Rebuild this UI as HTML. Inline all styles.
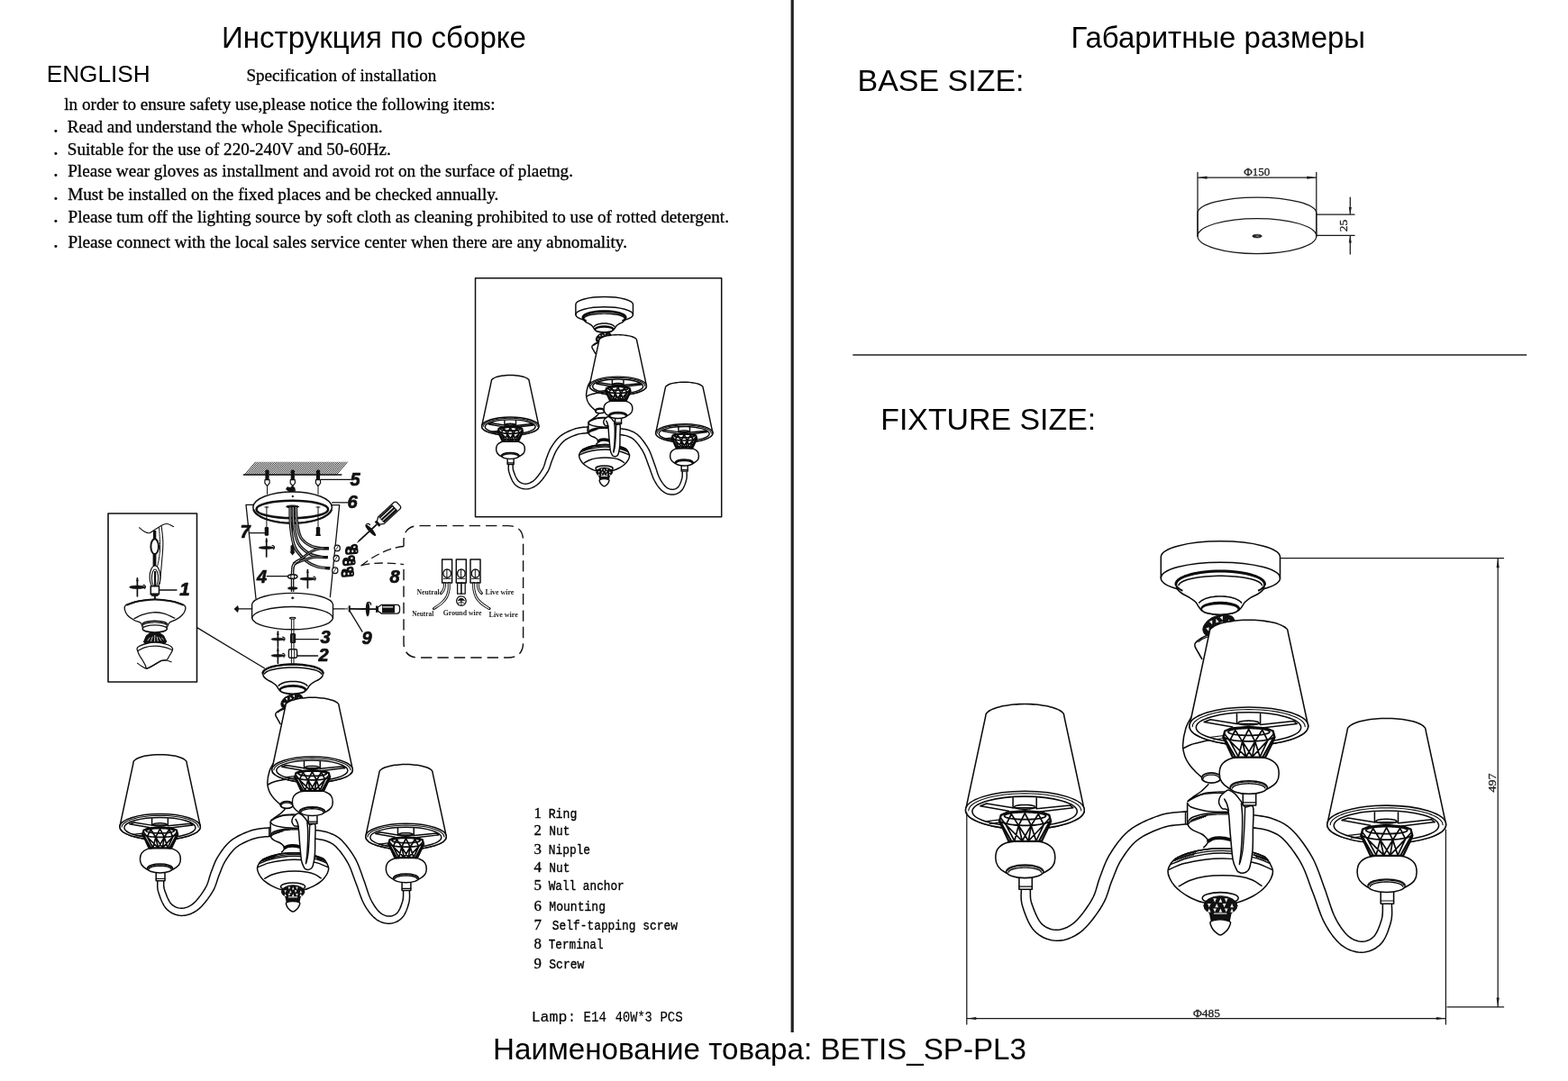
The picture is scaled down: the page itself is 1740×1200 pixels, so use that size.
<!DOCTYPE html>
<html lang="ru"><head><meta charset="utf-8"><title>BETIS_SP-PL3</title>
<style>
html,body{margin:0;padding:0;background:#fff;}
body{width:1740px;height:1200px;overflow:hidden;position:relative;}
svg{position:absolute;left:0;top:0;display:block;will-change:transform;}
text{white-space:pre;}
</style></head><body>
<svg width="1740" height="1200" viewBox="0 0 1740 1200" fill="none" stroke-linecap="round" stroke-linejoin="round">
<rect x="877.6" y="0" width="3.2" height="1146" fill="#222"/>
<line x1="946.3" y1="394" x2="1694.2" y2="394" stroke="#222" stroke-width="1.6" stroke-linecap="butt"/>
<text x="246" y="53.4" font-family='"Liberation Sans", sans-serif' font-size="33" fill="#000" textLength="338" lengthAdjust="spacingAndGlyphs">Инструкция по сборке</text>
<text x="1188.5" y="53.4" font-family='"Liberation Sans", sans-serif' font-size="33" fill="#000" textLength="326.5" lengthAdjust="spacingAndGlyphs">Габаритные размеры</text>
<text x="547" y="1176.1" font-family='"Liberation Sans", sans-serif' font-size="33.1" fill="#000" textLength="592" lengthAdjust="spacingAndGlyphs">Наименование товара: BETIS_SP-PL3</text>
<text x="51.7" y="90.7" font-family='"Liberation Sans", sans-serif' font-size="26.3" fill="#000" textLength="115" lengthAdjust="spacingAndGlyphs">ENGLISH</text>
<text x="951.5" y="100.6" font-family='"Liberation Sans", sans-serif' font-size="34" fill="#000" textLength="185" lengthAdjust="spacingAndGlyphs">BASE SIZE:</text>
<text x="977.2" y="476.9" font-family='"Liberation Sans", sans-serif' font-size="34" fill="#000" textLength="239" lengthAdjust="spacingAndGlyphs">FIXTURE SIZE:</text>
<text x="273.4" y="89.7" font-family='"Liberation Serif", serif' font-size="19.1" fill="#000" textLength="211" lengthAdjust="spacingAndGlyphs" stroke="#000" stroke-width="0.3">Specification of installation</text>
<text x="71.3" y="122.4" font-family='"Liberation Serif", serif' font-size="19.1" fill="#000" textLength="478.3" lengthAdjust="spacingAndGlyphs" stroke="#000" stroke-width="0.3">ln order to ensure safety use,please notice the following items:</text>
<text x="59.5" y="146.5" font-family='"Liberation Serif", serif' font-size="19.1" fill="#000" font-weight="bold">.</text>
<text x="74.8" y="146.5" font-family='"Liberation Serif", serif' font-size="19.1" fill="#000" textLength="349.7" lengthAdjust="spacingAndGlyphs" stroke="#000" stroke-width="0.3">Read and understand the whole Specification.</text>
<text x="59.5" y="172" font-family='"Liberation Serif", serif' font-size="19.1" fill="#000" font-weight="bold">.</text>
<text x="74.8" y="172" font-family='"Liberation Serif", serif' font-size="19.1" fill="#000" textLength="359" lengthAdjust="spacingAndGlyphs" stroke="#000" stroke-width="0.3">Suitable for the use of 220-240V and 50-60Hz.</text>
<text x="59.5" y="195.9" font-family='"Liberation Serif", serif' font-size="19.1" fill="#000" font-weight="bold">.</text>
<text x="75.2" y="195.9" font-family='"Liberation Serif", serif' font-size="19.1" fill="#000" textLength="560.8" lengthAdjust="spacingAndGlyphs" stroke="#000" stroke-width="0.3">Please wear gloves as installment and avoid rot on the surface of plaetng.</text>
<text x="59.5" y="222" font-family='"Liberation Serif", serif' font-size="19.1" fill="#000" font-weight="bold">.</text>
<text x="75.2" y="222" font-family='"Liberation Serif", serif' font-size="19.1" fill="#000" textLength="478.2" lengthAdjust="spacingAndGlyphs" stroke="#000" stroke-width="0.3">Must be installed on the fixed places and be checked annually.</text>
<text x="59.5" y="247" font-family='"Liberation Serif", serif' font-size="19.1" fill="#000" font-weight="bold">.</text>
<text x="75.5" y="247" font-family='"Liberation Serif", serif' font-size="19.1" fill="#000" textLength="733.5" lengthAdjust="spacingAndGlyphs" stroke="#000" stroke-width="0.3">Please tum off the lighting source by soft cloth as cleaning prohibited to use of rotted detergent.</text>
<text x="59.5" y="274.5" font-family='"Liberation Serif", serif' font-size="19.1" fill="#000" font-weight="bold">.</text>
<text x="75.5" y="274.5" font-family='"Liberation Serif", serif' font-size="19.1" fill="#000" textLength="620.5" lengthAdjust="spacingAndGlyphs" stroke="#000" stroke-width="0.3">Please connect with the local sales service center when there are any abnomality.</text>
<text x="592.6" y="907.8" font-family='"Liberation Serif", serif' font-size="17" fill="#000" textLength="8.4" lengthAdjust="spacingAndGlyphs" stroke="#000" stroke-width="0.35">1</text>
<text x="608.7" y="907.8" font-family='"Liberation Mono", monospace' font-size="14.9" fill="#000" textLength="31.7" lengthAdjust="spacingAndGlyphs" stroke="#000" stroke-width="0.35">Ring</text>
<text x="592.6" y="927.4" font-family='"Liberation Serif", serif' font-size="17" fill="#000" textLength="8.4" lengthAdjust="spacingAndGlyphs" stroke="#000" stroke-width="0.35">2</text>
<text x="609.3" y="927.4" font-family='"Liberation Mono", monospace' font-size="14.9" fill="#000" textLength="23.3" lengthAdjust="spacingAndGlyphs" stroke="#000" stroke-width="0.35">Nut</text>
<text x="592.6" y="947.5" font-family='"Liberation Serif", serif' font-size="17" fill="#000" textLength="8.4" lengthAdjust="spacingAndGlyphs" stroke="#000" stroke-width="0.35">3</text>
<text x="608.7" y="947.5" font-family='"Liberation Mono", monospace' font-size="14.9" fill="#000" textLength="46.4" lengthAdjust="spacingAndGlyphs" stroke="#000" stroke-width="0.35">Nipple</text>
<text x="592.6" y="967.6" font-family='"Liberation Serif", serif' font-size="17" fill="#000" textLength="8.4" lengthAdjust="spacingAndGlyphs" stroke="#000" stroke-width="0.35">4</text>
<text x="609.3" y="967.6" font-family='"Liberation Mono", monospace' font-size="14.9" fill="#000" textLength="23.3" lengthAdjust="spacingAndGlyphs" stroke="#000" stroke-width="0.35">Nut</text>
<text x="592.6" y="988.3" font-family='"Liberation Serif", serif' font-size="17" fill="#000" textLength="8.4" lengthAdjust="spacingAndGlyphs" stroke="#000" stroke-width="0.35">5</text>
<text x="608.7" y="988.3" font-family='"Liberation Mono", monospace' font-size="14.9" fill="#000" textLength="84" lengthAdjust="spacingAndGlyphs" stroke="#000" stroke-width="0.35">Wall anchor</text>
<text x="592.6" y="1010.9" font-family='"Liberation Serif", serif' font-size="17" fill="#000" textLength="8.4" lengthAdjust="spacingAndGlyphs" stroke="#000" stroke-width="0.35">6</text>
<text x="609.3" y="1010.9" font-family='"Liberation Mono", monospace' font-size="14.9" fill="#000" textLength="62.7" lengthAdjust="spacingAndGlyphs" stroke="#000" stroke-width="0.35">Mounting</text>
<text x="592.6" y="1032" font-family='"Liberation Serif", serif' font-size="17" fill="#000" textLength="8.4" lengthAdjust="spacingAndGlyphs" stroke="#000" stroke-width="0.35">7</text>
<text x="612.8" y="1032" font-family='"Liberation Mono", monospace' font-size="14.9" fill="#000" textLength="139.1" lengthAdjust="spacingAndGlyphs" stroke="#000" stroke-width="0.35">Self-tapping screw</text>
<text x="592.6" y="1052.6" font-family='"Liberation Serif", serif' font-size="17" fill="#000" textLength="8.4" lengthAdjust="spacingAndGlyphs" stroke="#000" stroke-width="0.35">8</text>
<text x="608.7" y="1052.6" font-family='"Liberation Mono", monospace' font-size="14.9" fill="#000" textLength="60.9" lengthAdjust="spacingAndGlyphs" stroke="#000" stroke-width="0.35">Terminal</text>
<text x="592.6" y="1075.3" font-family='"Liberation Serif", serif' font-size="17" fill="#000" textLength="8.4" lengthAdjust="spacingAndGlyphs" stroke="#000" stroke-width="0.35">9</text>
<text x="609.3" y="1075.3" font-family='"Liberation Mono", monospace' font-size="14.9" fill="#000" textLength="39.1" lengthAdjust="spacingAndGlyphs" stroke="#000" stroke-width="0.35">Screw</text>
<text y="1134.1" font-family='"Liberation Mono", monospace' font-size="17.2" fill="#000" stroke="#000" stroke-width="0.2"><tspan x="589.7" textLength="39.6" lengthAdjust="spacingAndGlyphs">Lamp</tspan><tspan x="630.4" textLength="8" lengthAdjust="spacingAndGlyphs">:</tspan><tspan x="647.6" textLength="25.4" lengthAdjust="spacingAndGlyphs">E14</tspan><tspan x="682.8" textLength="41" lengthAdjust="spacingAndGlyphs">40W*3</tspan><tspan x="732.4" textLength="25.4" lengthAdjust="spacingAndGlyphs">PCS</tspan></text>
<path d="M 1288.3,618.3 A 66.1 17.5 0 0 1 1420.5,618.3 L 1420.5,641.7 A 66.1 17.5 0 0 1 1288.3,641.7 Z" fill="#fff" stroke="#0a0a0a" stroke-width="1.55"/>
<path d="M 1288.3,641.7 A 66.1 17.5 0 0 1 1420.5,641.7" fill="none" stroke="#0a0a0a" stroke-width="1.55"/>
<path d="M1305,648.3 C1305.25,649.25 1305.33,652.22 1306.5,654 C1307.67,655.78 1309.75,657.45 1312,659 C1314.25,660.55 1317.55,661.75 1320,663.3 C1322.45,664.85 1324.95,666.52 1326.7,668.3 C1328.45,670.08 1329.38,672.47 1330.5,674 C1331.62,675.53 1331.82,676.37 1333.4,677.5 C1334.98,678.63 1336.57,680 1340,680.8 C1343.43,681.6 1349.33,682.3 1354,682.3 C1358.67,682.3 1364.57,681.6 1368,680.8 C1371.43,680 1372.97,678.63 1374.6,677.5 C1376.23,676.37 1376.62,675.53 1377.8,674 C1378.98,672.47 1380,670.08 1381.7,668.3 C1383.4,666.52 1385.53,664.85 1388,663.3 C1390.47,661.75 1394.17,660.55 1396.5,659 C1398.83,657.45 1400.85,655.78 1402,654 C1403.15,652.22 1403.17,649.25 1403.4,648.3 A49.2,14.2 0 0 0 1305,648.3 Z" fill="#fff" stroke="#0a0a0a" stroke-width="1.55"/>
<path d="M1304.9,648.5 L1305.17,646.98 L1305.98,645.49 L1307.31,644.02 L1309.16,642.6 L1311.5,641.25 L1314.32,639.98 L1317.56,638.8 L1321.21,637.72 L1325.22,636.77 L1329.55,635.94 L1334.15,635.25 L1338.97,634.71 L1343.95,634.32 L1349.05,634.08 L1354.2,634 L1359.35,634.08 L1364.45,634.32 L1369.43,634.71 L1374.25,635.25 L1378.85,635.94 L1383.18,636.77 L1387.19,637.72 L1390.84,638.8 L1394.08,639.98 L1396.9,641.25 L1399.24,642.6 L1401.09,644.02 L1402.42,645.49 L1403.23,646.98 L1403.5,648.5" fill="none" stroke="#0a0a0a" stroke-width="2.94"/>
<path d="M1307.96,649.63 L1308.47,648.49 L1309.48,647.38 L1310.98,646.29 L1312.95,645.25 L1315.37,644.26 L1318.22,643.34 L1321.46,642.49 L1325.06,641.73 L1328.98,641.06 L1333.18,640.49 L1337.61,640.02 L1342.22,639.67 L1346.96,639.43 L1351.78,639.31 L1356.62,639.31 L1361.44,639.43 L1366.18,639.67 L1370.79,640.02 L1375.22,640.49 L1379.42,641.06 L1383.34,641.73 L1386.94,642.49 L1390.18,643.34 L1393.03,644.26 L1395.45,645.25 L1397.42,646.29 L1398.92,647.38 L1399.93,648.49 L1400.44,649.63" fill="none" stroke="#0a0a0a" stroke-width="1.55"/>
<path d="M1311.59,655.4 L1310.07,654.58 L1308.75,653.73 L1307.61,652.86 L1306.68,651.98 L1305.95,651.07 L1305.42,650.15 L1305.11,649.23 L1305,648.3" fill="none" stroke="#0a0a0a" stroke-width="2.02"/>
<path d="M1403.4,648.3 L1403.29,649.23 L1402.98,650.15 L1402.45,651.07 L1401.72,651.98 L1400.79,652.86 L1399.65,653.73 L1398.33,654.58 L1396.81,655.4" fill="none" stroke="#0a0a0a" stroke-width="2.02"/>
<path d="M1330.8,669.09 L1331.73,668.07 L1332.9,667.1 L1334.3,666.19 L1335.92,665.34 L1337.74,664.57 L1339.74,663.89 L1341.9,663.29 L1344.19,662.8 L1346.6,662.41 L1349.09,662.13 L1351.63,661.96 L1354.2,661.9 L1356.77,661.96 L1359.31,662.13 L1361.8,662.41 L1364.21,662.8 L1366.5,663.29 L1368.66,663.89 L1370.66,664.57 L1372.48,665.34 L1374.1,666.19 L1375.5,667.1 L1376.67,668.07 L1377.6,669.09" fill="none" stroke="#0a0a0a" stroke-width="1.55"/>
<path d="M1333.48,675.39 L1333.79,674.66 L1334.32,673.94 L1335.08,673.24 L1336.06,672.58 L1337.24,671.95 L1338.6,671.37 L1340.15,670.84 L1341.85,670.37 L1343.69,669.96 L1345.65,669.62 L1347.7,669.35 L1349.82,669.16 L1352,669.04 L1354.2,669 L1356.4,669.04 L1358.58,669.16 L1360.7,669.35 L1362.75,669.62 L1364.71,669.96 L1366.55,670.37 L1368.25,670.84 L1369.8,671.37 L1371.16,671.95 L1372.34,672.58 L1373.32,673.24 L1374.08,673.94 L1374.61,674.66 L1374.92,675.39" fill="none" stroke="#0a0a0a" stroke-width="2.48"/>
<ellipse cx="1353.8" cy="676.3" rx="20.4" ry="6" fill="#fff" stroke="#0a0a0a" stroke-width="1.55"/>
<path d="M1133.3,988.5 L1133.3,989.26 L1133.26,990.21 L1133.19,991.48 L1133.12,993.02 L1133.09,994.78 L1133.13,996.72 L1133.26,998.83 L1133.54,1001.07 L1133.99,1003.42 L1134.62,1005.77 L1135.36,1008.12 L1136.2,1010.67 L1137.17,1013.43 L1138.26,1016.34 L1139.46,1019.32 L1140.79,1022.3 L1142.25,1025.23 L1143.85,1028.05 L1145.63,1030.69 L1147.59,1033.06 L1149.67,1035.09 L1151.85,1036.9 L1154.15,1038.52 L1156.57,1039.96 L1159.08,1041.2 L1161.67,1042.24 L1164.32,1043.08 L1167.02,1043.71 L1169.75,1044.1 L1172.48,1044.26 L1175.21,1044.18 L1177.96,1043.89 L1180.72,1043.39 L1183.5,1042.68 L1186.28,1041.76 L1189.04,1040.63 L1191.78,1039.3 L1194.49,1037.76 L1197.16,1036.02 L1199.78,1034.05 L1202.4,1031.8 L1205.01,1029.25 L1207.59,1026.49 L1210.12,1023.54 L1212.59,1020.48 L1214.97,1017.33 L1217.25,1014.16 L1219.4,1011.02 L1221.39,1007.96 L1223.23,1004.98 L1224.89,1001.97 L1226.35,998.93 L1227.59,995.94 L1228.67,993.02 L1229.63,990.18 L1230.5,987.44 L1231.33,984.81 L1232.15,982.3 L1233,979.9 L1233.95,977.52 L1234.98,975.02 L1235.98,972.49 L1236.93,970.05 L1237.84,967.69 L1238.75,965.39 L1239.69,963.16 L1240.68,960.98 L1241.75,958.83 L1242.91,956.7 L1244.24,954.5 L1245.75,952.16 L1247.35,949.72 L1249,947.28 L1250.72,944.87 L1252.5,942.5 L1254.36,940.21 L1256.29,938.03 L1258.29,935.96 L1260.37,934.04 L1262.54,932.27 L1264.91,930.58 L1267.56,928.9 L1270.42,927.27 L1273.45,925.69 L1276.59,924.18 L1279.78,922.76 L1282.98,921.44 L1286.14,920.23 L1289.2,919.13 L1292.03,918.2 L1294.74,917.45 L1297.58,916.84 L1300.56,916.36 L1303.6,915.97 L1306.6,915.67 L1309.5,915.44 L1312.23,915.26 L1314.72,915.1 L1316.94,914.94 L1318.71,914.76 L1317.29,900.84 L1315.76,900.99 L1313.78,901.13 L1311.32,901.29 L1308.48,901.48 L1305.36,901.73 L1302.02,902.06 L1298.55,902.5 L1294.99,903.09 L1291.41,903.85 L1287.97,904.8 L1284.65,905.89 L1281.28,907.1 L1277.8,908.43 L1274.27,909.89 L1270.71,911.47 L1267.18,913.17 L1263.71,914.98 L1260.34,916.91 L1257.11,918.96 L1254.06,921.13 L1251.2,923.46 L1248.51,925.94 L1246.01,928.52 L1243.67,931.17 L1241.48,933.87 L1239.43,936.58 L1237.51,939.28 L1235.7,941.94 L1234,944.54 L1232.36,947.1 L1230.78,949.71 L1229.33,952.36 L1228.03,954.97 L1226.87,957.55 L1225.8,960.08 L1224.8,962.59 L1223.85,965.05 L1222.94,967.5 L1222.03,969.94 L1221.05,972.48 L1220.04,975.23 L1219.12,978.04 L1218.29,980.79 L1217.51,983.48 L1216.74,986.11 L1215.94,988.67 L1215.08,991.17 L1214.13,993.61 L1213.05,996 L1211.77,998.42 L1210.23,1001.04 L1208.47,1003.86 L1206.55,1006.78 L1204.5,1009.72 L1202.38,1012.62 L1200.2,1015.43 L1198.01,1018.07 L1195.85,1020.48 L1193.77,1022.58 L1191.82,1024.35 L1189.89,1025.86 L1187.91,1027.22 L1185.91,1028.41 L1183.91,1029.45 L1181.91,1030.32 L1179.94,1031.03 L1177.99,1031.59 L1176.09,1031.99 L1174.26,1032.24 L1172.52,1032.34 L1170.81,1032.29 L1169.06,1032.09 L1167.28,1031.73 L1165.49,1031.22 L1163.71,1030.56 L1161.96,1029.76 L1160.28,1028.82 L1158.67,1027.76 L1157.16,1026.58 L1155.81,1025.34 L1154.56,1023.91 L1153.28,1022.1 L1151.99,1019.93 L1150.72,1017.51 L1149.51,1014.93 L1148.37,1012.28 L1147.32,1009.63 L1146.36,1007.08 L1145.5,1004.69 L1144.78,1002.63 L1144.26,1000.92 L1143.9,999.3 L1143.65,997.69 L1143.49,996.12 L1143.41,994.6 L1143.38,993.13 L1143.38,991.74 L1143.38,990.43 L1143.37,989.15 L1143.3,988.1 Z" fill="#fff" stroke="none" stroke-width="0"/>
<path d="M1133.3,988.5 L1133.3,989.26 L1133.26,990.21 L1133.19,991.48 L1133.12,993.02 L1133.09,994.78 L1133.13,996.72 L1133.26,998.83 L1133.54,1001.07 L1133.99,1003.42 L1134.62,1005.77 L1135.36,1008.12 L1136.2,1010.67 L1137.17,1013.43 L1138.26,1016.34 L1139.46,1019.32 L1140.79,1022.3 L1142.25,1025.23 L1143.85,1028.05 L1145.63,1030.69 L1147.59,1033.06 L1149.67,1035.09 L1151.85,1036.9 L1154.15,1038.52 L1156.57,1039.96 L1159.08,1041.2 L1161.67,1042.24 L1164.32,1043.08 L1167.02,1043.71 L1169.75,1044.1 L1172.48,1044.26 L1175.21,1044.18 L1177.96,1043.89 L1180.72,1043.39 L1183.5,1042.68 L1186.28,1041.76 L1189.04,1040.63 L1191.78,1039.3 L1194.49,1037.76 L1197.16,1036.02 L1199.78,1034.05 L1202.4,1031.8 L1205.01,1029.25 L1207.59,1026.49 L1210.12,1023.54 L1212.59,1020.48 L1214.97,1017.33 L1217.25,1014.16 L1219.4,1011.02 L1221.39,1007.96 L1223.23,1004.98 L1224.89,1001.97 L1226.35,998.93 L1227.59,995.94 L1228.67,993.02 L1229.63,990.18 L1230.5,987.44 L1231.33,984.81 L1232.15,982.3 L1233,979.9 L1233.95,977.52 L1234.98,975.02 L1235.98,972.49 L1236.93,970.05 L1237.84,967.69 L1238.75,965.39 L1239.69,963.16 L1240.68,960.98 L1241.75,958.83 L1242.91,956.7 L1244.24,954.5 L1245.75,952.16 L1247.35,949.72 L1249,947.28 L1250.72,944.87 L1252.5,942.5 L1254.36,940.21 L1256.29,938.03 L1258.29,935.96 L1260.37,934.04 L1262.54,932.27 L1264.91,930.58 L1267.56,928.9 L1270.42,927.27 L1273.45,925.69 L1276.59,924.18 L1279.78,922.76 L1282.98,921.44 L1286.14,920.23 L1289.2,919.13 L1292.03,918.2 L1294.74,917.45 L1297.58,916.84 L1300.56,916.36 L1303.6,915.97 L1306.6,915.67 L1309.5,915.44 L1312.23,915.26 L1314.72,915.1 L1316.94,914.94 L1318.71,914.76" fill="none" stroke="#0a0a0a" stroke-width="1.55"/>
<path d="M1143.3,988.1 L1143.37,989.15 L1143.38,990.43 L1143.38,991.74 L1143.38,993.13 L1143.41,994.6 L1143.49,996.12 L1143.65,997.69 L1143.9,999.3 L1144.26,1000.92 L1144.78,1002.63 L1145.5,1004.69 L1146.36,1007.08 L1147.32,1009.63 L1148.37,1012.28 L1149.51,1014.93 L1150.72,1017.51 L1151.99,1019.93 L1153.28,1022.1 L1154.56,1023.91 L1155.81,1025.34 L1157.16,1026.58 L1158.67,1027.76 L1160.28,1028.82 L1161.96,1029.76 L1163.71,1030.56 L1165.49,1031.22 L1167.28,1031.73 L1169.06,1032.09 L1170.81,1032.29 L1172.52,1032.34 L1174.26,1032.24 L1176.09,1031.99 L1177.99,1031.59 L1179.94,1031.03 L1181.91,1030.32 L1183.91,1029.45 L1185.91,1028.41 L1187.91,1027.22 L1189.89,1025.86 L1191.82,1024.35 L1193.77,1022.58 L1195.85,1020.48 L1198.01,1018.07 L1200.2,1015.43 L1202.38,1012.62 L1204.5,1009.72 L1206.55,1006.78 L1208.47,1003.86 L1210.23,1001.04 L1211.77,998.42 L1213.05,996 L1214.13,993.61 L1215.08,991.17 L1215.94,988.67 L1216.74,986.11 L1217.51,983.48 L1218.29,980.79 L1219.12,978.04 L1220.04,975.23 L1221.05,972.48 L1222.03,969.94 L1222.94,967.5 L1223.85,965.05 L1224.8,962.59 L1225.8,960.08 L1226.87,957.55 L1228.03,954.97 L1229.33,952.36 L1230.78,949.71 L1232.36,947.1 L1234,944.54 L1235.7,941.94 L1237.51,939.28 L1239.43,936.58 L1241.48,933.87 L1243.67,931.17 L1246.01,928.52 L1248.51,925.94 L1251.2,923.46 L1254.06,921.13 L1257.11,918.96 L1260.34,916.91 L1263.71,914.98 L1267.18,913.17 L1270.71,911.47 L1274.27,909.89 L1277.8,908.43 L1281.28,907.1 L1284.65,905.89 L1287.97,904.8 L1291.41,903.85 L1294.99,903.09 L1298.55,902.5 L1302.02,902.06 L1305.36,901.73 L1308.48,901.48 L1311.32,901.29 L1313.78,901.13 L1315.76,900.99 L1317.29,900.84" fill="none" stroke="#0a0a0a" stroke-width="1.55"/>
<path d="M1534.4,1004.1 L1534.35,1005.23 L1534.34,1006.63 L1534.35,1008.17 L1534.36,1009.82 L1534.34,1011.58 L1534.28,1013.39 L1534.15,1015.21 L1533.95,1017.01 L1533.66,1018.72 L1533.24,1020.39 L1532.68,1022.25 L1532.01,1024.36 L1531.26,1026.56 L1530.43,1028.8 L1529.54,1031.02 L1528.58,1033.16 L1527.58,1035.14 L1526.56,1036.91 L1525.56,1038.39 L1524.59,1039.55 L1523.55,1040.55 L1522.38,1041.5 L1521.13,1042.35 L1519.82,1043.11 L1518.46,1043.75 L1517.06,1044.29 L1515.65,1044.71 L1514.25,1045.01 L1512.88,1045.18 L1511.54,1045.24 L1510.17,1045.19 L1508.72,1045.03 L1507.21,1044.75 L1505.67,1044.35 L1504.1,1043.82 L1502.53,1043.18 L1500.97,1042.41 L1499.44,1041.52 L1497.94,1040.5 L1496.48,1039.34 L1495.02,1038.02 L1493.52,1036.48 L1491.99,1034.75 L1490.46,1032.85 L1488.92,1030.79 L1487.41,1028.59 L1485.91,1026.25 L1484.45,1023.81 L1483.03,1021.27 L1481.67,1018.69 L1480.41,1016.03 L1479.2,1013.17 L1478.03,1010.1 L1476.87,1006.86 L1475.73,1003.48 L1474.59,1000.01 L1473.44,996.47 L1472.26,992.91 L1471.04,989.34 L1469.78,985.87 L1468.56,982.54 L1467.39,979.2 L1466.2,975.81 L1464.99,972.38 L1463.74,968.91 L1462.43,965.42 L1461.03,961.94 L1459.53,958.46 L1457.9,955.01 L1456.14,951.63 L1454.24,948.32 L1452.22,945.02 L1450.09,941.73 L1447.88,938.49 L1445.61,935.32 L1443.3,932.26 L1440.98,929.34 L1438.66,926.59 L1436.37,924.04 L1434.11,921.71 L1431.85,919.6 L1429.59,917.73 L1427.34,916.09 L1425.11,914.65 L1422.9,913.4 L1420.73,912.32 L1418.61,911.36 L1416.53,910.51 L1414.49,909.71 L1412.35,908.9 L1409.89,908.09 L1407.23,907.37 L1404.56,906.78 L1401.92,906.29 L1399.35,905.88 L1396.93,905.53 L1394.73,905.24 L1392.81,904.99 L1391.29,904.78 L1390.13,904.59 L1387.87,918.41 L1389.23,918.63 L1390.96,918.87 L1392.9,919.12 L1395.02,919.4 L1397.25,919.72 L1399.53,920.09 L1401.78,920.51 L1403.92,920.98 L1405.87,921.5 L1407.65,922.1 L1409.48,922.79 L1411.33,923.51 L1413.08,924.22 L1414.73,924.96 L1416.32,925.76 L1417.87,926.63 L1419.42,927.63 L1420.98,928.77 L1422.59,930.11 L1424.29,931.69 L1426.13,933.59 L1428.09,935.78 L1430.14,938.21 L1432.23,940.84 L1434.33,943.62 L1436.41,946.51 L1438.43,949.48 L1440.37,952.47 L1442.19,955.46 L1443.86,958.37 L1445.37,961.24 L1446.77,964.22 L1448.1,967.3 L1449.37,970.49 L1450.6,973.75 L1451.81,977.09 L1453.01,980.48 L1454.24,983.91 L1455.51,987.35 L1456.82,990.73 L1458.09,994.03 L1459.31,997.39 L1460.51,1000.84 L1461.72,1004.34 L1462.94,1007.87 L1464.2,1011.38 L1465.51,1014.86 L1466.89,1018.26 L1468.36,1021.58 L1469.93,1024.71 L1471.55,1027.66 L1473.21,1030.48 L1474.93,1033.22 L1476.71,1035.87 L1478.54,1038.41 L1480.42,1040.83 L1482.36,1043.11 L1484.35,1045.25 L1486.4,1047.24 L1488.52,1049.06 L1490.72,1050.69 L1492.99,1052.14 L1495.31,1053.41 L1497.67,1054.48 L1500.05,1055.38 L1502.44,1056.09 L1504.82,1056.62 L1507.19,1056.98 L1509.54,1057.16 L1511.86,1057.16 L1514.18,1056.97 L1516.5,1056.58 L1518.79,1056.01 L1521.04,1055.25 L1523.24,1054.32 L1525.38,1053.22 L1527.44,1051.94 L1529.41,1050.49 L1531.26,1048.87 L1533.01,1047.05 L1534.65,1044.96 L1536.11,1042.67 L1537.42,1040.25 L1538.6,1037.74 L1539.68,1035.18 L1540.65,1032.6 L1541.51,1030.06 L1542.29,1027.59 L1542.96,1025.26 L1543.56,1023.01 L1544.05,1020.69 L1544.38,1018.31 L1544.57,1015.98 L1544.66,1013.74 L1544.66,1011.62 L1544.61,1009.66 L1544.54,1007.9 L1544.46,1006.4 L1544.41,1005.22 L1544.4,1004.3 Z" fill="#fff" stroke="none" stroke-width="0"/>
<path d="M1534.4,1004.1 L1534.35,1005.23 L1534.34,1006.63 L1534.35,1008.17 L1534.36,1009.82 L1534.34,1011.58 L1534.28,1013.39 L1534.15,1015.21 L1533.95,1017.01 L1533.66,1018.72 L1533.24,1020.39 L1532.68,1022.25 L1532.01,1024.36 L1531.26,1026.56 L1530.43,1028.8 L1529.54,1031.02 L1528.58,1033.16 L1527.58,1035.14 L1526.56,1036.91 L1525.56,1038.39 L1524.59,1039.55 L1523.55,1040.55 L1522.38,1041.5 L1521.13,1042.35 L1519.82,1043.11 L1518.46,1043.75 L1517.06,1044.29 L1515.65,1044.71 L1514.25,1045.01 L1512.88,1045.18 L1511.54,1045.24 L1510.17,1045.19 L1508.72,1045.03 L1507.21,1044.75 L1505.67,1044.35 L1504.1,1043.82 L1502.53,1043.18 L1500.97,1042.41 L1499.44,1041.52 L1497.94,1040.5 L1496.48,1039.34 L1495.02,1038.02 L1493.52,1036.48 L1491.99,1034.75 L1490.46,1032.85 L1488.92,1030.79 L1487.41,1028.59 L1485.91,1026.25 L1484.45,1023.81 L1483.03,1021.27 L1481.67,1018.69 L1480.41,1016.03 L1479.2,1013.17 L1478.03,1010.1 L1476.87,1006.86 L1475.73,1003.48 L1474.59,1000.01 L1473.44,996.47 L1472.26,992.91 L1471.04,989.34 L1469.78,985.87 L1468.56,982.54 L1467.39,979.2 L1466.2,975.81 L1464.99,972.38 L1463.74,968.91 L1462.43,965.42 L1461.03,961.94 L1459.53,958.46 L1457.9,955.01 L1456.14,951.63 L1454.24,948.32 L1452.22,945.02 L1450.09,941.73 L1447.88,938.49 L1445.61,935.32 L1443.3,932.26 L1440.98,929.34 L1438.66,926.59 L1436.37,924.04 L1434.11,921.71 L1431.85,919.6 L1429.59,917.73 L1427.34,916.09 L1425.11,914.65 L1422.9,913.4 L1420.73,912.32 L1418.61,911.36 L1416.53,910.51 L1414.49,909.71 L1412.35,908.9 L1409.89,908.09 L1407.23,907.37 L1404.56,906.78 L1401.92,906.29 L1399.35,905.88 L1396.93,905.53 L1394.73,905.24 L1392.81,904.99 L1391.29,904.78 L1390.13,904.59" fill="none" stroke="#0a0a0a" stroke-width="1.55"/>
<path d="M1544.4,1004.3 L1544.41,1005.22 L1544.46,1006.4 L1544.54,1007.9 L1544.61,1009.66 L1544.66,1011.62 L1544.66,1013.74 L1544.57,1015.98 L1544.38,1018.31 L1544.05,1020.69 L1543.56,1023.01 L1542.96,1025.26 L1542.29,1027.59 L1541.51,1030.06 L1540.65,1032.6 L1539.68,1035.18 L1538.6,1037.74 L1537.42,1040.25 L1536.11,1042.67 L1534.65,1044.96 L1533.01,1047.05 L1531.26,1048.87 L1529.41,1050.49 L1527.44,1051.94 L1525.38,1053.22 L1523.24,1054.32 L1521.04,1055.25 L1518.79,1056.01 L1516.5,1056.58 L1514.18,1056.97 L1511.86,1057.16 L1509.54,1057.16 L1507.19,1056.98 L1504.82,1056.62 L1502.44,1056.09 L1500.05,1055.38 L1497.67,1054.48 L1495.31,1053.41 L1492.99,1052.14 L1490.72,1050.69 L1488.52,1049.06 L1486.4,1047.24 L1484.35,1045.25 L1482.36,1043.11 L1480.42,1040.83 L1478.54,1038.41 L1476.71,1035.87 L1474.93,1033.22 L1473.21,1030.48 L1471.55,1027.66 L1469.93,1024.71 L1468.36,1021.58 L1466.89,1018.26 L1465.51,1014.86 L1464.2,1011.38 L1462.94,1007.87 L1461.72,1004.34 L1460.51,1000.84 L1459.31,997.39 L1458.09,994.03 L1456.82,990.73 L1455.51,987.35 L1454.24,983.91 L1453.01,980.48 L1451.81,977.09 L1450.6,973.75 L1449.37,970.49 L1448.1,967.3 L1446.77,964.22 L1445.37,961.24 L1443.86,958.37 L1442.19,955.46 L1440.37,952.47 L1438.43,949.48 L1436.41,946.51 L1434.33,943.62 L1432.23,940.84 L1430.14,938.21 L1428.09,935.78 L1426.13,933.59 L1424.29,931.69 L1422.59,930.11 L1420.98,928.77 L1419.42,927.63 L1417.87,926.63 L1416.32,925.76 L1414.73,924.96 L1413.08,924.22 L1411.33,923.51 L1409.48,922.79 L1407.65,922.1 L1405.87,921.5 L1403.92,920.98 L1401.78,920.51 L1399.53,920.09 L1397.25,919.72 L1395.02,919.4 L1392.9,919.12 L1390.96,918.87 L1389.23,918.63 L1387.87,918.41" fill="none" stroke="#0a0a0a" stroke-width="1.55"/>
<path d="M1341,704.5 C1339.67,705.17 1335.42,706.96 1333,708.5 C1330.58,710.04 1327.67,712.25 1326.5,713.75 C1325.33,715.25 1325.5,715.79 1326,717.5 C1326.5,719.21 1328.21,721.67 1329.5,724 C1330.79,726.33 1333.04,730.25 1333.75,731.5" fill="none" stroke="#0a0a0a" stroke-width="1.55"/>
<path d="M1340,707 C1339,707.42 1335.67,708.58 1334,709.5 C1332.33,710.42 1330.67,712 1330,712.5" fill="none" stroke="#0a0a0a" stroke-width="1.24"/>
<path d="M1322,796 C1321,798 1317.57,802.82 1316,808 C1314.43,813.18 1312.77,821.77 1312.6,827.1 C1312.43,832.43 1313.77,836.35 1315,840 C1316.23,843.65 1318,846.17 1320,849 C1322,851.83 1324.58,854.58 1327,857 C1329.42,859.42 1333.25,862.42 1334.5,863.5" fill="none" stroke="#0a0a0a" stroke-width="1.55"/>
<path d="M1313.5,830.5 C1314.92,829.83 1318.58,827.68 1322,826.5 C1325.42,825.32 1330.33,824.23 1334,823.4 C1337.67,822.57 1342.33,821.82 1344,821.5" fill="none" stroke="#0a0a0a" stroke-width="1.55"/>
<ellipse cx="1344.2" cy="863.5" rx="10.6" ry="5.7" fill="#fff" stroke="#0a0a0a" stroke-width="1.71"/>
<path d="M1335,864.6 L1335.05,864.12 L1335.2,863.64 L1335.45,863.18 L1335.8,862.73 L1336.23,862.3 L1336.76,861.9 L1337.36,861.52 L1338.04,861.18 L1338.79,860.88 L1339.6,860.62 L1340.46,860.4 L1341.36,860.23 L1342.29,860.1 L1343.24,860.03 L1344.2,860 L1345.16,860.03 L1346.11,860.1 L1347.04,860.23 L1347.94,860.4 L1348.8,860.62 L1349.61,860.88 L1350.36,861.18 L1351.04,861.52 L1351.64,861.9 L1352.17,862.3 L1352.6,862.73 L1352.95,863.18 L1353.2,863.64 L1353.35,864.12 L1353.4,864.6" fill="none" stroke="#0a0a0a" stroke-width="1.24"/>
<path d="M1341,870.8 C1339.67,872.08 1335.83,876.22 1333,878.5 C1330.17,880.78 1326.48,882.65 1324,884.5 C1321.52,886.35 1319.08,888.75 1318.1,889.6" fill="none" stroke="#0a0a0a" stroke-width="1.55"/>
<path d="M1317.6,891.5 L1317.6,914.6 L1324.4,921.9 L1333.75,926 L1341,933.3 L1366,933.3 L1366,882 L1350,880.5 L1336.9,881.8 L1326,885 Z" fill="#fff" stroke="none" stroke-width="0"/>
<path d="M1318.1,889.6 C1319.42,888.83 1322.87,886.38 1326,885 C1329.13,883.62 1332.9,882.1 1336.9,881.3 C1340.9,880.5 1345.82,880.35 1350,880.2 C1354.18,880.05 1360,880.37 1362,880.4" fill="none" stroke="#0a0a0a" stroke-width="1.55"/>
<path d="M1319.5,887.8 C1320.92,887.1 1324.92,884.87 1328,883.6 C1331.08,882.33 1334.33,880.97 1338,880.2 C1341.67,879.43 1346.33,879.2 1350,879 C1353.67,878.8 1358.33,879 1360,879" fill="none" stroke="#0a0a0a" stroke-width="1.24"/>
<path d="M1317.6,891.7 C1318.33,892.42 1318.78,894.62 1322,896 C1325.22,897.38 1332.23,899.13 1336.9,900 C1341.57,900.87 1345.48,901 1350,901.2 C1354.52,901.4 1361.67,901.2 1364,901.2" fill="none" stroke="#0a0a0a" stroke-width="1.55"/>
<path d="M1317.6,891.5 L1317.6,914.6" fill="none" stroke="#0a0a0a" stroke-width="1.55"/>
<path d="M1315.5,901 L1315.5,914.6" fill="none" stroke="#0a0a0a" stroke-width="1.4"/>
<path d="M1317.6,914.2 C1318.33,913.17 1318.78,909.77 1322,908 C1325.22,906.23 1332.23,904.53 1336.9,903.6 C1341.57,902.67 1345.48,902.6 1350,902.4 C1354.52,902.2 1361.67,902.4 1364,902.4" fill="none" stroke="#0a0a0a" stroke-width="1.55"/>
<path d="M1318.5,915 C1319.42,914.13 1320.92,911.4 1324,909.8 C1327.08,908.2 1332.67,906.37 1337,905.4 C1341.33,904.43 1345.5,904.23 1350,904 C1354.5,903.77 1361.67,904 1364,904" fill="none" stroke="#0a0a0a" stroke-width="1.24"/>
<path d="M1320.5,912.8 L1323.1,909.6 M1322.6,912.05 L1325.2,908.9 M1324.7,911.3 L1327.3,908.2 M1326.8,910.55 L1329.4,907.5 M1328.9,909.8 L1331.5,906.8 M1331,909.05 L1333.6,906.1 M1333.1,908.3 L1335.7,905.4 M1335.2,907.55 L1337.8,904.7 M1337.3,906.8 L1339.9,904" fill="none" stroke="#0a0a0a" stroke-width="1.08"/>
<path d="M1317.6,914.6 C1318,915.25 1318.87,917.28 1320,918.5 C1321.13,919.72 1322.11,920.65 1324.4,921.9 C1326.69,923.15 1331.48,924.73 1333.75,926 C1336.02,927.27 1336.79,928.28 1338,929.5 C1339.21,930.72 1340.5,932.67 1341,933.3" fill="none" stroke="#0a0a0a" stroke-width="1.55"/>
<path d="M1341,933.6 C1341.83,933.17 1344.08,931.57 1346,931 C1347.92,930.43 1350.33,930.27 1352.5,930.2 C1354.67,930.13 1356.75,930.25 1359,930.6 C1361.25,930.95 1364.83,932.02 1366,932.3" fill="none" stroke="#0a0a0a" stroke-width="3.72"/>
<path d="M1341,934.4 C1340.58,935 1339.37,936.97 1338.5,938 C1337.63,939.03 1336.25,940.17 1335.8,940.6" fill="none" stroke="#0a0a0a" stroke-width="1.55"/>
<path d="M1304.2,953.3 C1301.03,955.25 1300.37,956.77 1299,959 C1297.63,961.23 1296.17,964.03 1296,966.7 C1295.83,969.37 1296.78,972.23 1298,975 C1299.22,977.77 1301.3,980.88 1303.3,983.3 C1305.3,985.72 1307.5,987.55 1310,989.5 C1312.5,991.45 1315.63,993.47 1318.3,995 C1320.97,996.53 1323.22,997.58 1326,998.7 C1328.78,999.82 1330.3,1000.82 1335,1001.7 C1339.7,1002.58 1347.82,1004 1354.2,1004 C1360.58,1004 1368.67,1002.58 1373.3,1001.7 C1377.93,1000.82 1379.22,999.82 1382,998.7 C1384.78,997.58 1387.25,996.53 1390,995 C1392.75,993.47 1396,991.45 1398.5,989.5 C1401,987.55 1403,985.72 1405,983.3 C1407,980.88 1409.25,977.77 1410.5,975 C1411.75,972.23 1412.67,969.37 1412.5,966.7 C1412.33,964.03 1410.88,961.5 1409.5,959 C1408.12,956.5 1407.12,953.73 1404.2,951.7 C1401.28,949.67 1396.7,948.22 1392,946.8 C1387.3,945.38 1381.88,944.05 1376,943.2 C1370.12,942.35 1363.2,941.73 1356.7,941.7 C1350.2,941.67 1343.45,942.07 1337,943 C1330.55,943.93 1323.47,945.58 1318,947.3 C1312.53,949.02 1307.37,951.35 1304.2,953.3 Z" fill="#fff" stroke="#0a0a0a" stroke-width="1.55"/>
<path d="M1304.2,953.3 C1306.5,952.3 1312.53,949.02 1318,947.3 C1323.47,945.58 1330.55,943.93 1337,943 C1343.45,942.07 1350.2,941.67 1356.7,941.7 C1363.2,941.73 1370.12,942.35 1376,943.2 C1381.88,944.05 1387.3,945.38 1392,946.8 C1396.7,948.22 1402.17,950.88 1404.2,951.7" fill="none" stroke="#0a0a0a" stroke-width="1.55"/>
<path d="M1301.5,956 C1304.08,955 1311.08,951.73 1317,950 C1322.92,948.27 1330.38,946.55 1337,945.6 C1343.62,944.65 1350.2,944.27 1356.7,944.3 C1363.2,944.33 1369.95,944.92 1376,945.8 C1382.05,946.68 1387.83,948.13 1393,949.6 C1398.17,951.07 1404.67,953.77 1407,954.6" fill="none" stroke="#0a0a0a" stroke-width="1.24"/>
<path d="M1299.5,959.5 C1302.25,958.42 1309.75,954.85 1316,953 C1322.25,951.15 1330.22,949.4 1337,948.4 C1343.78,947.4 1350.2,946.97 1356.7,947 C1363.2,947.03 1369.78,947.67 1376,948.6 C1382.22,949.53 1388.42,950.95 1394,952.6 C1399.58,954.25 1406.92,957.52 1409.5,958.5" fill="none" stroke="#0a0a0a" stroke-width="1.4"/>
<path d="M1296.6,965.5 C1299.5,964.35 1307.27,960.48 1314,958.6 C1320.73,956.72 1329.88,955.13 1337,954.2 C1344.12,953.27 1350.2,952.97 1356.7,953 C1363.2,953.03 1369.62,953.47 1376,954.4 C1382.38,955.33 1389,956.75 1395,958.6 C1401,960.45 1409.17,964.35 1412,965.5" fill="none" stroke="#0a0a0a" stroke-width="1.55"/>
<path d="M1304,955.2 L1307,951 M1306.2,954.58 L1309.2,950.4 M1308.4,953.96 L1311.4,949.8 M1310.6,953.34 L1313.6,949.2 M1312.8,952.72 L1315.8,948.6 M1315,952.1 L1318,948 M1317.2,951.48 L1320.2,947.4 M1319.4,950.86 L1322.4,946.8 M1321.6,950.24 L1324.6,946.2 M1323.8,949.62 L1326.8,945.6 M1392,948.4 L1394.6,951.6 M1394,949.02 L1396.6,952.3 M1396,949.64 L1398.6,953 M1398,950.26 L1400.6,953.7 M1400,950.88 L1402.6,954.4 M1402,951.5 L1404.6,955.1 M1404,952.12 L1406.6,955.8" fill="none" stroke="#0a0a0a" stroke-width="1.08"/>
<path d="M1308.3,983.8 C1310.25,982.75 1315.22,979.3 1320,977.5 C1324.78,975.7 1330.88,973.97 1337,973 C1343.12,972.03 1350.2,971.7 1356.7,971.7 C1363.2,971.7 1370.45,972.12 1376,973 C1381.55,973.88 1386,975.28 1390,977 C1394,978.72 1398.33,982.25 1400,983.3" fill="none" stroke="#0a0a0a" stroke-width="1.55"/>
<ellipse cx="1354.2" cy="996.9" rx="20" ry="6.3" fill="#fff" stroke="#0a0a0a" stroke-width="1.55"/>
<path d="M1342.5,1013 L1344.5,1022.5 L1364,1022.5 L1366,1013 Z" fill="#111" stroke="#0a0a0a" stroke-width="1.55"/>
<path d="M1343.2,1023.4 C1342.36,1024.62 1343.24,1025.82 1343.8,1027.5 C1344.36,1029.18 1344.84,1030.22 1346,1031.8 C1347.16,1033.38 1347.96,1034.18 1349.6,1035.4 C1351.24,1036.62 1352.36,1037.9 1354.2,1037.9 C1356.04,1037.9 1357.16,1036.62 1358.8,1035.4 C1360.44,1034.18 1361.24,1033.38 1362.4,1031.8 C1363.56,1030.22 1364.02,1029.18 1364.6,1027.5 C1365.18,1025.82 1366.22,1024.62 1365.3,1023.4 C1364.38,1022.18 1362.22,1021.92 1360,1021.4 C1357.78,1020.88 1356.6,1020.8 1354.2,1020.8 C1351.8,1020.8 1350.2,1020.88 1348,1021.4 C1345.8,1021.92 1344.04,1022.18 1343.2,1023.4 Z" fill="#fff" stroke="#0a0a0a" stroke-width="1.55"/>
<g transform="translate(1354.4 1005.4) rotate(0) scale(1)"><ellipse cx="0" cy="0" rx="18.6" ry="10.7" fill="#111" stroke="#111" stroke-width="1"/><path d="M-8.18,-8.03 L-4.46,-8.03 L-6.32,-3.74 Z M-1.86,-3.74 L1.86,-3.74 L0,-8.03 Z M4.46,-8.03 L8.18,-8.03 L6.32,-3.74 Z M-14.51,-2.46 L-10.79,-2.46 L-12.65,1.82 Z M-6.08,1.82 L-2.36,1.82 L-4.22,-2.46 Z M2.36,-2.46 L6.08,-2.46 L4.22,1.82 Z M10.79,1.82 L14.51,1.82 L12.65,-2.46 Z M-14.51,7.38 L-10.79,7.38 L-12.65,3.1 Z M-8.18,3.1 L-4.46,3.1 L-6.32,7.38 Z M-1.86,7.38 L1.86,7.38 L0,3.1 Z M4.46,3.1 L8.18,3.1 L6.32,7.38 Z M10.79,7.38 L14.51,7.38 L12.65,3.1 Z " fill="#eee" stroke="none"/></g>
<path d="M1347.5,1014.2 L1360.8,1014.2" fill="none" stroke="#ddd" stroke-width="1.24"/>
<g transform="translate(1352.5 694.5) rotate(-22) scale(1)"><ellipse cx="0" cy="0" rx="18.5" ry="11" fill="#111" stroke="#111" stroke-width="1"/><path d="M-8.14,-8.25 L-4.44,-8.25 L-6.29,-3.85 Z M-1.85,-3.85 L1.85,-3.85 L0,-8.25 Z M4.44,-8.25 L8.14,-8.25 L6.29,-3.85 Z M-14.43,-2.53 L-10.73,-2.53 L-12.58,1.87 Z M-6.04,1.87 L-2.34,1.87 L-4.19,-2.53 Z M2.34,-2.53 L6.04,-2.53 L4.19,1.87 Z M10.73,1.87 L14.43,1.87 L12.58,-2.53 Z M-14.43,7.59 L-10.73,7.59 L-12.58,3.19 Z M-8.14,3.19 L-4.44,3.19 L-6.29,7.59 Z M-1.85,7.59 L1.85,7.59 L0,3.19 Z M4.44,3.19 L8.14,3.19 L6.29,7.59 Z M10.73,7.59 L14.43,7.59 L12.58,3.19 Z " fill="#eee" stroke="none"/></g>
<path d="M1352.5,889.6 C1352.56,888.18 1353.37,885.75 1354,884.5 C1354.63,883.25 1355.37,882.36 1356.7,881.25 C1358.04,880.14 1361.03,877.26 1362.9,877.1 C1364.78,876.94 1367.64,879.11 1369.2,880.2 C1370.76,881.3 1372.06,882.93 1373.3,884.4 C1374.54,885.87 1376.24,888.29 1377.5,890 C1378.76,891.71 1379.75,894.93 1381.7,895.8 C1383.65,896.67 1389.19,892.17 1390.5,895.8 C1391.81,899.43 1390.48,912.81 1390.4,920 C1390.33,927.19 1390.53,937.38 1390,943.75 C1389.47,950.12 1387.88,958.92 1386.9,962.5 C1385.93,966.08 1384.76,966.58 1383.5,967.6 C1382.24,968.62 1379.85,969.24 1378.5,969.3 C1377.15,969.36 1375.43,968.55 1374.5,968 C1373.57,967.45 1373.26,967.67 1372.3,965.6 C1371.34,963.53 1369.19,960.61 1368.1,954.2 C1367,947.8 1365.78,931.03 1365,922.9 C1364.22,914.77 1364.14,903.75 1362.9,900 C1361.66,896.25 1358.1,898.8 1356.7,897.9 C1355.31,897 1354.23,895.25 1353.6,894 C1352.97,892.75 1352.44,891.02 1352.5,889.6 Z" fill="#fff" stroke="#0a0a0a" stroke-width="1.55"/>
<path d="M1377.5,892 C1377.68,894.17 1378.43,899.85 1378.6,905 C1378.77,910.15 1378.72,916.4 1378.5,922.9 C1378.28,929.4 1377.82,937.92 1377.3,944 C1376.78,950.08 1375.72,956.83 1375.4,959.4" fill="none" stroke="#0a0a0a" stroke-width="1.55"/>
<path d="M1381.7,895.8 C1381.62,898.17 1381.38,905.48 1381.2,910 C1381.02,914.52 1380.97,917.23 1380.6,922.9 C1380.23,928.57 1379.72,938.32 1379,944 C1378.28,949.68 1376.75,954.83 1376.3,957" fill="none" stroke="#0a0a0a" stroke-width="1.4"/>
<path d="M1358.7,887 C1359.17,887.92 1360.7,890.33 1361.5,892.5 C1362.3,894.67 1363.17,898.75 1363.5,900" fill="none" stroke="#0a0a0a" stroke-width="1.55"/>
<path d="M1379.3,879 L1379.3,894 L1393.7,894 L1393.7,879 Z" fill="#fff" stroke="#0a0a0a" stroke-width="1.55"/>
<path d="M1379.3,890.8 L1393.7,890.8" fill="none" stroke="#0a0a0a" stroke-width="1.24"/>
<path d="M1353.2,859 C1353.2,855.83 1353.78,851.75 1355.7,849 C1357.62,846.25 1360.87,843.92 1364.7,842.5 C1368.53,841.08 1373.7,840.83 1378.7,840.5 C1383.7,840.17 1389.87,840.17 1394.7,840.5 C1399.53,840.83 1404.03,841.08 1407.7,842.5 C1411.37,843.92 1414.78,846.25 1416.7,849 C1418.62,851.75 1419.2,855.83 1419.2,859 C1419.2,862.17 1418.62,865.33 1416.7,868 C1414.78,870.67 1411.03,873.25 1407.7,875 C1404.37,876.75 1400.37,877.67 1396.7,878.5 C1393.03,879.33 1389.37,880 1385.7,880 C1382.03,880 1378.37,879.33 1374.7,878.5 C1371.03,877.67 1366.87,876.75 1363.7,875 C1360.53,873.25 1357.45,870.67 1355.7,868 C1353.95,865.33 1353.2,862.17 1353.2,859 Z" fill="#fff" stroke="#0a0a0a" stroke-width="1.55"/>
<ellipse cx="1385.7" cy="874" rx="20.6" ry="7.3" fill="#fff" stroke="#0a0a0a" stroke-width="1.55"/>
<path d="M1367.47,874.91 L1367.74,874.32 L1368.21,873.75 L1368.88,873.19 L1369.74,872.66 L1370.78,872.16 L1371.98,871.69 L1373.34,871.27 L1374.83,870.89 L1376.45,870.57 L1378.17,870.3 L1379.98,870.08 L1381.85,869.93 L1383.76,869.83 L1385.7,869.8 L1387.64,869.83 L1389.55,869.93 L1391.42,870.08 L1393.23,870.3 L1394.95,870.57 L1396.57,870.89 L1398.06,871.27 L1399.42,871.69 L1400.62,872.16 L1401.66,872.66 L1402.52,873.19 L1403.19,873.75 L1403.66,874.32 L1403.93,874.91" fill="none" stroke="#0a0a0a" stroke-width="1.4"/>
<path d="M1366.4,873.25 L1366.87,872.56 L1367.57,871.89 L1368.47,871.25 L1369.57,870.65 L1370.86,870.09 L1372.31,869.58 L1373.93,869.12 L1375.67,868.73 L1377.54,868.4 L1379.49,868.14 L1381.52,867.95 L1383.6,867.84 L1385.7,867.8 L1387.8,867.84 L1389.88,867.95 L1391.91,868.14 L1393.86,868.4 L1395.73,868.73 L1397.47,869.12 L1399.09,869.58 L1400.54,870.09 L1401.83,870.65 L1402.93,871.25 L1403.83,871.89 L1404.53,872.56 L1405,873.25" fill="none" stroke="#0a0a0a" stroke-width="1.08"/>
<path d="M1341.8,703.4 C1341.94,702.71 1342.27,700.26 1342.66,699.27 C1343.05,698.28 1343.51,698.05 1344.14,697.46 C1344.77,696.87 1345.53,696.28 1346.42,695.73 C1347.31,695.17 1348.34,694.62 1349.47,694.11 C1350.6,693.59 1351.87,693.1 1353.22,692.63 C1354.58,692.17 1356.06,691.73 1357.61,691.34 C1359.16,690.94 1360.82,690.57 1362.54,690.24 C1364.26,689.91 1366.07,689.61 1367.93,689.36 C1369.78,689.11 1371.71,688.89 1373.65,688.72 C1375.6,688.55 1377.61,688.42 1379.62,688.33 C1381.63,688.24 1383.67,688.2 1385.7,688.2 C1387.73,688.2 1389.77,688.24 1391.78,688.33 C1393.79,688.42 1395.8,688.55 1397.75,688.72 C1399.69,688.89 1401.62,689.11 1403.47,689.36 C1405.33,689.61 1407.14,689.91 1408.86,690.24 C1410.58,690.57 1412.24,690.94 1413.79,691.34 C1415.34,691.73 1416.82,692.17 1418.18,692.63 C1419.53,693.1 1420.8,693.59 1421.93,694.11 C1423.06,694.62 1424.09,695.17 1424.98,695.73 C1425.87,696.28 1426.63,696.87 1427.26,697.46 C1427.89,698.05 1428.35,698.28 1428.74,699.27 C1429.13,700.26 1429.46,702.71 1429.6,703.4 L1451.7,806 A65.9,21.1 0 0 1 1319.9,806 Z" fill="#fff" stroke="#0a0a0a" stroke-width="1.55"/>
<ellipse cx="1385.8" cy="806" rx="65.9" ry="21.1" fill="#fff" stroke="#0a0a0a" stroke-width="1.55"/>
<ellipse cx="1385.5" cy="807.4" rx="58.2" ry="16.6" fill="none" stroke="#0a0a0a" stroke-width="1.55"/>
<path d="M1323.2,806.6 L1323.54,804.61 L1324.57,802.65 L1326.26,800.73 L1328.6,798.87 L1331.57,797.1 L1335.14,795.43 L1339.25,793.89 L1343.88,792.48 L1348.96,791.23 L1354.45,790.15 L1360.28,789.24 L1366.39,788.53 L1372.71,788.02 L1379.17,787.7 L1385.7,787.6 L1392.23,787.7 L1398.69,788.02 L1405.01,788.53 L1411.12,789.24 L1416.95,790.15 L1422.44,791.23 L1427.52,792.48 L1432.15,793.89 L1436.26,795.43 L1439.83,797.1 L1442.8,798.87 L1445.14,800.73 L1446.83,802.65 L1447.86,804.61 L1448.2,806.6" fill="none" stroke="#0a0a0a" stroke-width="1.08"/>
<path d="M1372.5,792.5 L1372.5,803.5 L1398.6,803.5 L1398.6,792.5" fill="none" stroke="#0a0a0a" stroke-width="1.55"/>
<path d="M1397,802.5 L1396.94,802.75 L1396.75,803 L1396.44,803.24 L1396.01,803.48 L1395.46,803.7 L1394.8,803.91 L1394.05,804.11 L1393.2,804.28 L1392.26,804.44 L1391.25,804.58 L1390.18,804.69 L1389.05,804.78 L1387.89,804.85 L1386.7,804.89 L1385.5,804.9 L1384.3,804.89 L1383.11,804.85 L1381.95,804.78 L1380.82,804.69 L1379.75,804.58 L1378.74,804.44 L1377.8,804.28 L1376.95,804.11 L1376.2,803.91 L1375.54,803.7 L1374.99,803.48 L1374.56,803.24 L1374.25,803 L1374.06,802.75 L1374,802.5 L1374.06,802.25 L1374.25,802 L1374.56,801.76 L1374.99,801.52 L1375.54,801.3 L1376.2,801.09 L1376.95,800.89 L1377.8,800.72 L1378.74,800.56 L1379.75,800.42 L1380.82,800.31 L1381.95,800.22 L1383.11,800.15 L1384.3,800.11 L1385.5,800.1 L1386.7,800.11 L1387.89,800.15 L1389.05,800.22 L1390.18,800.31 L1391.25,800.42 L1392.26,800.56 L1393.2,800.72 L1394.05,800.89 L1394.8,801.09 L1395.46,801.3 L1396.01,801.52 L1396.44,801.76 L1396.75,802 L1396.94,802.25 L1397,802.5" fill="none" stroke="#0a0a0a" stroke-width="1.55"/>
<path d="M1372.5,803.5 L1343.2,798.8 M1367.7,807 L1336.2,801.4 M1343.2,798.8 L1336.2,801.4 M1398.6,804.5 L1435.7,800.6 M1402.7,807.8 L1439.2,803.4 M1435.7,800.6 L1439.2,803.4" fill="none" stroke="#0a0a0a" stroke-width="1.55"/>
<path d="M1362.7,816 L1341.7,818.5 M1361.7,819 L1346.7,821" fill="none" stroke="#0a0a0a" stroke-width="1.24"/>
<path d="M1357.4,818.5 L1359.2,811.5 L1366.7,808.4 L1385.7,806.8 L1404.7,808.4 L1412.7,811.5 L1414.5,818.5 L1411.7,825 L1404.2,840.6 L1367.9,840.6 L1360.7,825 Z" fill="#fff" stroke="#0a0a0a" stroke-width="2.33"/>
<path d="M1359.3,820 L1362.5,826 L1370.9,840.6" fill="none" stroke="#0a0a0a" stroke-width="2.02"/>
<path d="M1412.6,820 L1409.3,826 L1401.2,840.6" fill="none" stroke="#0a0a0a" stroke-width="2.02"/>
<path d="M1414.19,817.34 L1413.77,817.99 L1413.04,818.63 L1412,819.24 L1410.67,819.83 L1409.06,820.39 L1407.19,820.9 L1405.09,821.37 L1402.76,821.79 L1400.25,822.15 L1397.58,822.45 L1394.78,822.69 L1391.87,822.86 L1388.9,822.97 L1385.9,823 L1382.9,822.97 L1379.93,822.86 L1377.02,822.69 L1374.22,822.45 L1371.55,822.15 L1369.04,821.79 L1366.71,821.37 L1364.61,820.9 L1362.74,820.39 L1361.13,819.83 L1359.8,819.24 L1358.76,818.63 L1358.03,817.99 L1357.61,817.34" fill="none" stroke="#0a0a0a" stroke-width="1.78"/>
<path d="M1408.9,812.4 L1408.77,812.82 L1408.4,813.23 L1407.77,813.64 L1406.91,814.03 L1405.82,814.4 L1404.51,814.75 L1402.99,815.08 L1401.29,815.37 L1399.42,815.64 L1397.4,815.86 L1395.25,816.05 L1393.01,816.2 L1390.68,816.31 L1388.3,816.38 L1385.9,816.4 L1383.5,816.38 L1381.12,816.31 L1378.79,816.2 L1376.55,816.05 L1374.4,815.86 L1372.38,815.64 L1370.51,815.37 L1368.81,815.08 L1367.29,814.75 L1365.98,814.4 L1364.89,814.03 L1364.03,813.64 L1363.4,813.23 L1363.03,812.82 L1362.9,812.4 L1363.03,811.98 L1363.4,811.57 L1364.03,811.16 L1364.89,810.77 L1365.98,810.4 L1367.29,810.05 L1368.81,809.72 L1370.51,809.43 L1372.38,809.16 L1374.4,808.94 L1376.55,808.75 L1378.79,808.6 L1381.12,808.49 L1383.5,808.42 L1385.9,808.4 L1388.3,808.42 L1390.68,808.49 L1393.01,808.6 L1395.25,808.75 L1397.4,808.94 L1399.42,809.16 L1401.29,809.43 L1402.99,809.72 L1404.51,810.05 L1405.82,810.4 L1406.91,810.77 L1407.77,811.16 L1408.4,811.57 L1408.77,811.98 L1408.9,812.4" fill="none" stroke="#0a0a0a" stroke-width="1.78"/>
<path d="M1364.7,822.4 L1374.2,840.2 M1364.7,822.4 L1382.7,840.2 M1378.7,823.1 L1374.2,840.2 M1378.7,823.1 L1382.7,840.2 M1378.7,823.1 L1389.7,840.2 M1392.7,823.1 L1382.7,840.2 M1392.7,823.1 L1389.7,840.2 M1392.7,823.1 L1398.2,840.2 M1406.7,822.2 L1389.7,840.2 M1406.7,822.2 L1398.2,840.2 M1370.7,810.36 L1364.7,822.4 M1370.7,810.36 L1378.7,823.1 M1385.7,809.46 L1378.7,823.1 M1385.7,809.46 L1392.7,823.1 M1400.7,810.24 L1392.7,823.1 M1400.7,810.24 L1406.7,822.2 M1364.7,822.4 L1359.1,815 M1406.7,822.2 L1413.1,815" fill="none" stroke="#0a0a0a" stroke-width="1.71"/>
<path d="M1130.9,972.3 L1130.9,987.3 L1145.3,987.3 L1145.3,972.3 Z" fill="#fff" stroke="#0a0a0a" stroke-width="1.55"/>
<path d="M1130.9,984.1 L1145.3,984.1" fill="none" stroke="#0a0a0a" stroke-width="1.24"/>
<path d="M1104.8,952.3 C1104.8,949.13 1105.38,945.05 1107.3,942.3 C1109.22,939.55 1112.47,937.22 1116.3,935.8 C1120.13,934.38 1125.3,934.13 1130.3,933.8 C1135.3,933.47 1141.47,933.47 1146.3,933.8 C1151.13,934.13 1155.63,934.38 1159.3,935.8 C1162.97,937.22 1166.38,939.55 1168.3,942.3 C1170.22,945.05 1170.8,949.13 1170.8,952.3 C1170.8,955.47 1170.22,958.63 1168.3,961.3 C1166.38,963.97 1162.63,966.55 1159.3,968.3 C1155.97,970.05 1151.97,970.97 1148.3,971.8 C1144.63,972.63 1140.97,973.3 1137.3,973.3 C1133.63,973.3 1129.97,972.63 1126.3,971.8 C1122.63,970.97 1118.47,970.05 1115.3,968.3 C1112.13,966.55 1109.05,963.97 1107.3,961.3 C1105.55,958.63 1104.8,955.47 1104.8,952.3 Z" fill="#fff" stroke="#0a0a0a" stroke-width="1.55"/>
<ellipse cx="1137.3" cy="967.3" rx="20.6" ry="7.3" fill="#fff" stroke="#0a0a0a" stroke-width="1.55"/>
<path d="M1119.07,968.21 L1119.34,967.62 L1119.81,967.05 L1120.48,966.49 L1121.34,965.96 L1122.38,965.46 L1123.58,964.99 L1124.94,964.57 L1126.43,964.19 L1128.05,963.87 L1129.77,963.6 L1131.58,963.38 L1133.45,963.23 L1135.36,963.13 L1137.3,963.1 L1139.24,963.13 L1141.15,963.23 L1143.02,963.38 L1144.83,963.6 L1146.55,963.87 L1148.17,964.19 L1149.66,964.57 L1151.02,964.99 L1152.22,965.46 L1153.26,965.96 L1154.12,966.49 L1154.79,967.05 L1155.26,967.62 L1155.53,968.21" fill="none" stroke="#0a0a0a" stroke-width="1.4"/>
<path d="M1118,966.55 L1118.47,965.86 L1119.17,965.19 L1120.07,964.55 L1121.17,963.95 L1122.46,963.39 L1123.91,962.88 L1125.53,962.42 L1127.27,962.03 L1129.14,961.7 L1131.09,961.44 L1133.12,961.25 L1135.2,961.14 L1137.3,961.1 L1139.4,961.14 L1141.48,961.25 L1143.51,961.44 L1145.46,961.7 L1147.33,962.03 L1149.07,962.42 L1150.69,962.88 L1152.14,963.39 L1153.43,963.95 L1154.53,964.55 L1155.43,965.19 L1156.13,965.86 L1156.6,966.55" fill="none" stroke="#0a0a0a" stroke-width="1.08"/>
<path d="M1093.4,796.7 C1093.54,796.01 1093.87,793.56 1094.26,792.57 C1094.65,791.58 1095.11,791.35 1095.74,790.76 C1096.37,790.17 1097.13,789.58 1098.02,789.03 C1098.91,788.47 1099.94,787.92 1101.07,787.41 C1102.2,786.89 1103.47,786.4 1104.82,785.93 C1106.18,785.47 1107.66,785.03 1109.21,784.64 C1110.76,784.24 1112.42,783.87 1114.14,783.54 C1115.86,783.21 1117.67,782.91 1119.53,782.66 C1121.38,782.41 1123.31,782.19 1125.25,782.02 C1127.2,781.85 1129.21,781.72 1131.22,781.63 C1133.23,781.54 1135.27,781.5 1137.3,781.5 C1139.33,781.5 1141.37,781.54 1143.38,781.63 C1145.39,781.72 1147.4,781.85 1149.35,782.02 C1151.29,782.19 1153.22,782.41 1155.07,782.66 C1156.93,782.91 1158.74,783.21 1160.46,783.54 C1162.18,783.87 1163.84,784.24 1165.39,784.64 C1166.94,785.03 1168.42,785.47 1169.78,785.93 C1171.13,786.4 1172.4,786.89 1173.53,787.41 C1174.66,787.92 1175.69,788.47 1176.58,789.03 C1177.47,789.58 1178.23,790.17 1178.86,790.76 C1179.49,791.35 1179.95,791.58 1180.34,792.57 C1180.73,793.56 1181.06,796.01 1181.2,796.7 L1203.3,899.3 A65.9,21.1 0 0 1 1071.5,899.3 Z" fill="#fff" stroke="#0a0a0a" stroke-width="1.55"/>
<ellipse cx="1137.4" cy="899.3" rx="65.9" ry="21.1" fill="#fff" stroke="#0a0a0a" stroke-width="1.55"/>
<ellipse cx="1137.1" cy="900.7" rx="58.2" ry="16.6" fill="none" stroke="#0a0a0a" stroke-width="1.55"/>
<path d="M1074.8,899.9 L1075.14,897.91 L1076.17,895.95 L1077.86,894.03 L1080.2,892.17 L1083.17,890.4 L1086.74,888.73 L1090.85,887.19 L1095.48,885.78 L1100.56,884.53 L1106.05,883.45 L1111.88,882.54 L1117.99,881.83 L1124.31,881.32 L1130.77,881 L1137.3,880.9 L1143.83,881 L1150.29,881.32 L1156.61,881.83 L1162.72,882.54 L1168.55,883.45 L1174.04,884.53 L1179.12,885.78 L1183.75,887.19 L1187.86,888.73 L1191.43,890.4 L1194.4,892.17 L1196.74,894.03 L1198.43,895.95 L1199.46,897.91 L1199.8,899.9" fill="none" stroke="#0a0a0a" stroke-width="1.08"/>
<path d="M1124.1,885.8 L1124.1,896.8 L1150.2,896.8 L1150.2,885.8" fill="none" stroke="#0a0a0a" stroke-width="1.55"/>
<path d="M1148.6,895.8 L1148.54,896.05 L1148.35,896.3 L1148.04,896.54 L1147.61,896.78 L1147.06,897 L1146.4,897.21 L1145.65,897.41 L1144.8,897.58 L1143.86,897.74 L1142.85,897.88 L1141.78,897.99 L1140.65,898.08 L1139.49,898.15 L1138.3,898.19 L1137.1,898.2 L1135.9,898.19 L1134.71,898.15 L1133.55,898.08 L1132.42,897.99 L1131.35,897.88 L1130.34,897.74 L1129.4,897.58 L1128.55,897.41 L1127.8,897.21 L1127.14,897 L1126.59,896.78 L1126.16,896.54 L1125.85,896.3 L1125.66,896.05 L1125.6,895.8 L1125.66,895.55 L1125.85,895.3 L1126.16,895.06 L1126.59,894.82 L1127.14,894.6 L1127.8,894.39 L1128.55,894.19 L1129.4,894.02 L1130.34,893.86 L1131.35,893.72 L1132.42,893.61 L1133.55,893.52 L1134.71,893.45 L1135.9,893.41 L1137.1,893.4 L1138.3,893.41 L1139.49,893.45 L1140.65,893.52 L1141.78,893.61 L1142.85,893.72 L1143.86,893.86 L1144.8,894.02 L1145.65,894.19 L1146.4,894.39 L1147.06,894.6 L1147.61,894.82 L1148.04,895.06 L1148.35,895.3 L1148.54,895.55 L1148.6,895.8" fill="none" stroke="#0a0a0a" stroke-width="1.55"/>
<path d="M1124.1,896.8 L1094.8,892.1 M1119.3,900.3 L1087.8,894.7 M1094.8,892.1 L1087.8,894.7 M1150.2,897.8 L1187.3,893.9 M1154.3,901.1 L1190.8,896.7 M1187.3,893.9 L1190.8,896.7" fill="none" stroke="#0a0a0a" stroke-width="1.55"/>
<path d="M1114.3,909.3 L1093.3,911.8 M1113.3,912.3 L1098.3,914.3" fill="none" stroke="#0a0a0a" stroke-width="1.24"/>
<path d="M1109,911.8 L1110.8,904.8 L1118.3,901.7 L1137.3,900.1 L1156.3,901.7 L1164.3,904.8 L1166.1,911.8 L1163.3,918.3 L1155.8,933.9 L1119.5,933.9 L1112.3,918.3 Z" fill="#fff" stroke="#0a0a0a" stroke-width="2.33"/>
<path d="M1110.9,913.3 L1114.1,919.3 L1122.5,933.9" fill="none" stroke="#0a0a0a" stroke-width="2.02"/>
<path d="M1164.2,913.3 L1160.9,919.3 L1152.8,933.9" fill="none" stroke="#0a0a0a" stroke-width="2.02"/>
<path d="M1165.79,910.64 L1165.37,911.29 L1164.64,911.93 L1163.6,912.54 L1162.27,913.13 L1160.66,913.69 L1158.79,914.2 L1156.69,914.67 L1154.36,915.09 L1151.85,915.45 L1149.18,915.75 L1146.38,915.99 L1143.47,916.16 L1140.5,916.27 L1137.5,916.3 L1134.5,916.27 L1131.53,916.16 L1128.62,915.99 L1125.82,915.75 L1123.15,915.45 L1120.64,915.09 L1118.31,914.67 L1116.21,914.2 L1114.34,913.69 L1112.73,913.13 L1111.4,912.54 L1110.36,911.93 L1109.63,911.29 L1109.21,910.64" fill="none" stroke="#0a0a0a" stroke-width="1.78"/>
<path d="M1160.5,905.7 L1160.37,906.12 L1160,906.53 L1159.37,906.94 L1158.51,907.33 L1157.42,907.7 L1156.11,908.05 L1154.59,908.38 L1152.89,908.67 L1151.02,908.94 L1149,909.16 L1146.85,909.35 L1144.61,909.5 L1142.28,909.61 L1139.9,909.68 L1137.5,909.7 L1135.1,909.68 L1132.72,909.61 L1130.39,909.5 L1128.15,909.35 L1126,909.16 L1123.98,908.94 L1122.11,908.67 L1120.41,908.38 L1118.89,908.05 L1117.58,907.7 L1116.49,907.33 L1115.63,906.94 L1115,906.53 L1114.63,906.12 L1114.5,905.7 L1114.63,905.28 L1115,904.87 L1115.63,904.46 L1116.49,904.07 L1117.58,903.7 L1118.89,903.35 L1120.41,903.02 L1122.11,902.73 L1123.98,902.46 L1126,902.24 L1128.15,902.05 L1130.39,901.9 L1132.72,901.79 L1135.1,901.72 L1137.5,901.7 L1139.9,901.72 L1142.28,901.79 L1144.61,901.9 L1146.85,902.05 L1149,902.24 L1151.02,902.46 L1152.89,902.73 L1154.59,903.02 L1156.11,903.35 L1157.42,903.7 L1158.51,904.07 L1159.37,904.46 L1160,904.87 L1160.37,905.28 L1160.5,905.7" fill="none" stroke="#0a0a0a" stroke-width="1.78"/>
<path d="M1116.3,915.7 L1125.8,933.5 M1116.3,915.7 L1134.3,933.5 M1130.3,916.4 L1125.8,933.5 M1130.3,916.4 L1134.3,933.5 M1130.3,916.4 L1141.3,933.5 M1144.3,916.4 L1134.3,933.5 M1144.3,916.4 L1141.3,933.5 M1144.3,916.4 L1149.8,933.5 M1158.3,915.5 L1141.3,933.5 M1158.3,915.5 L1149.8,933.5 M1122.3,903.66 L1116.3,915.7 M1122.3,903.66 L1130.3,916.4 M1137.3,902.76 L1130.3,916.4 M1137.3,902.76 L1144.3,916.4 M1152.3,903.54 L1144.3,916.4 M1152.3,903.54 L1158.3,915.5 M1116.3,915.7 L1110.7,908.3 M1158.3,915.5 L1164.7,908.3" fill="none" stroke="#0a0a0a" stroke-width="1.71"/>
<path d="M1532.2,988.2 L1532.2,1003.2 L1546.6,1003.2 L1546.6,988.2 Z" fill="#fff" stroke="#0a0a0a" stroke-width="1.55"/>
<path d="M1532.2,1000 L1546.6,1000" fill="none" stroke="#0a0a0a" stroke-width="1.24"/>
<path d="M1506.1,968.2 C1506.1,965.03 1506.68,960.95 1508.6,958.2 C1510.52,955.45 1513.77,953.12 1517.6,951.7 C1521.43,950.28 1526.6,950.03 1531.6,949.7 C1536.6,949.37 1542.77,949.37 1547.6,949.7 C1552.43,950.03 1556.93,950.28 1560.6,951.7 C1564.27,953.12 1567.68,955.45 1569.6,958.2 C1571.52,960.95 1572.1,965.03 1572.1,968.2 C1572.1,971.37 1571.52,974.53 1569.6,977.2 C1567.68,979.87 1563.93,982.45 1560.6,984.2 C1557.27,985.95 1553.27,986.87 1549.6,987.7 C1545.93,988.53 1542.27,989.2 1538.6,989.2 C1534.93,989.2 1531.27,988.53 1527.6,987.7 C1523.93,986.87 1519.77,985.95 1516.6,984.2 C1513.43,982.45 1510.35,979.87 1508.6,977.2 C1506.85,974.53 1506.1,971.37 1506.1,968.2 Z" fill="#fff" stroke="#0a0a0a" stroke-width="1.55"/>
<ellipse cx="1538.6" cy="983.2" rx="20.6" ry="7.3" fill="#fff" stroke="#0a0a0a" stroke-width="1.55"/>
<path d="M1520.37,984.11 L1520.64,983.52 L1521.11,982.95 L1521.78,982.39 L1522.64,981.86 L1523.68,981.36 L1524.88,980.89 L1526.24,980.47 L1527.73,980.09 L1529.35,979.77 L1531.07,979.5 L1532.88,979.28 L1534.75,979.13 L1536.66,979.03 L1538.6,979 L1540.54,979.03 L1542.45,979.13 L1544.32,979.28 L1546.13,979.5 L1547.85,979.77 L1549.47,980.09 L1550.96,980.47 L1552.32,980.89 L1553.52,981.36 L1554.56,981.86 L1555.42,982.39 L1556.09,982.95 L1556.56,983.52 L1556.83,984.11" fill="none" stroke="#0a0a0a" stroke-width="1.4"/>
<path d="M1519.3,982.45 L1519.77,981.76 L1520.47,981.09 L1521.37,980.45 L1522.47,979.85 L1523.76,979.29 L1525.21,978.78 L1526.83,978.32 L1528.57,977.93 L1530.44,977.6 L1532.39,977.34 L1534.42,977.15 L1536.5,977.04 L1538.6,977 L1540.7,977.04 L1542.78,977.15 L1544.81,977.34 L1546.76,977.6 L1548.63,977.93 L1550.37,978.32 L1551.99,978.78 L1553.44,979.29 L1554.73,979.85 L1555.83,980.45 L1556.73,981.09 L1557.43,981.76 L1557.9,982.45" fill="none" stroke="#0a0a0a" stroke-width="1.08"/>
<path d="M1494.7,812.6 C1494.84,811.91 1495.17,809.46 1495.56,808.47 C1495.95,807.48 1496.41,807.25 1497.04,806.66 C1497.67,806.07 1498.43,805.48 1499.32,804.93 C1500.21,804.37 1501.24,803.82 1502.37,803.31 C1503.5,802.79 1504.77,802.3 1506.12,801.83 C1507.48,801.37 1508.96,800.93 1510.51,800.54 C1512.06,800.14 1513.72,799.77 1515.44,799.44 C1517.16,799.11 1518.97,798.81 1520.83,798.56 C1522.68,798.31 1524.61,798.09 1526.55,797.92 C1528.5,797.75 1530.51,797.62 1532.52,797.53 C1534.53,797.44 1536.57,797.4 1538.6,797.4 C1540.63,797.4 1542.67,797.44 1544.68,797.53 C1546.69,797.62 1548.7,797.75 1550.65,797.92 C1552.59,798.09 1554.52,798.31 1556.37,798.56 C1558.23,798.81 1560.04,799.11 1561.76,799.44 C1563.48,799.77 1565.14,800.14 1566.69,800.54 C1568.24,800.93 1569.72,801.37 1571.08,801.83 C1572.43,802.3 1573.7,802.79 1574.83,803.31 C1575.96,803.82 1576.99,804.37 1577.88,804.93 C1578.77,805.48 1579.53,806.07 1580.16,806.66 C1580.79,807.25 1581.25,807.48 1581.64,808.47 C1582.03,809.46 1582.36,811.91 1582.5,812.6 L1604.6,915.2 A65.9,21.1 0 0 1 1472.8,915.2 Z" fill="#fff" stroke="#0a0a0a" stroke-width="1.55"/>
<ellipse cx="1538.7" cy="915.2" rx="65.9" ry="21.1" fill="#fff" stroke="#0a0a0a" stroke-width="1.55"/>
<ellipse cx="1538.4" cy="916.6" rx="58.2" ry="16.6" fill="none" stroke="#0a0a0a" stroke-width="1.55"/>
<path d="M1476.1,915.8 L1476.44,913.81 L1477.47,911.85 L1479.16,909.93 L1481.5,908.07 L1484.47,906.3 L1488.04,904.63 L1492.15,903.09 L1496.78,901.68 L1501.86,900.43 L1507.35,899.35 L1513.18,898.44 L1519.29,897.73 L1525.61,897.22 L1532.07,896.9 L1538.6,896.8 L1545.13,896.9 L1551.59,897.22 L1557.91,897.73 L1564.02,898.44 L1569.85,899.35 L1575.34,900.43 L1580.42,901.68 L1585.05,903.09 L1589.16,904.63 L1592.73,906.3 L1595.7,908.07 L1598.04,909.93 L1599.73,911.85 L1600.76,913.81 L1601.1,915.8" fill="none" stroke="#0a0a0a" stroke-width="1.08"/>
<path d="M1525.4,901.7 L1525.4,912.7 L1551.5,912.7 L1551.5,901.7" fill="none" stroke="#0a0a0a" stroke-width="1.55"/>
<path d="M1549.9,911.7 L1549.84,911.95 L1549.65,912.2 L1549.34,912.44 L1548.91,912.68 L1548.36,912.9 L1547.7,913.11 L1546.95,913.31 L1546.1,913.48 L1545.16,913.64 L1544.15,913.78 L1543.08,913.89 L1541.95,913.98 L1540.79,914.05 L1539.6,914.09 L1538.4,914.1 L1537.2,914.09 L1536.01,914.05 L1534.85,913.98 L1533.72,913.89 L1532.65,913.78 L1531.64,913.64 L1530.7,913.48 L1529.85,913.31 L1529.1,913.11 L1528.44,912.9 L1527.89,912.68 L1527.46,912.44 L1527.15,912.2 L1526.96,911.95 L1526.9,911.7 L1526.96,911.45 L1527.15,911.2 L1527.46,910.96 L1527.89,910.72 L1528.44,910.5 L1529.1,910.29 L1529.85,910.09 L1530.7,909.92 L1531.64,909.76 L1532.65,909.62 L1533.72,909.51 L1534.85,909.42 L1536.01,909.35 L1537.2,909.31 L1538.4,909.3 L1539.6,909.31 L1540.79,909.35 L1541.95,909.42 L1543.08,909.51 L1544.15,909.62 L1545.16,909.76 L1546.1,909.92 L1546.95,910.09 L1547.7,910.29 L1548.36,910.5 L1548.91,910.72 L1549.34,910.96 L1549.65,911.2 L1549.84,911.45 L1549.9,911.7" fill="none" stroke="#0a0a0a" stroke-width="1.55"/>
<path d="M1525.4,912.7 L1496.1,908 M1520.6,916.2 L1489.1,910.6 M1496.1,908 L1489.1,910.6 M1551.5,913.7 L1588.6,909.8 M1555.6,917 L1592.1,912.6 M1588.6,909.8 L1592.1,912.6" fill="none" stroke="#0a0a0a" stroke-width="1.55"/>
<path d="M1515.6,925.2 L1494.6,927.7 M1514.6,928.2 L1499.6,930.2" fill="none" stroke="#0a0a0a" stroke-width="1.24"/>
<path d="M1510.3,927.7 L1512.1,920.7 L1519.6,917.6 L1538.6,916 L1557.6,917.6 L1565.6,920.7 L1567.4,927.7 L1564.6,934.2 L1557.1,949.8 L1520.8,949.8 L1513.6,934.2 Z" fill="#fff" stroke="#0a0a0a" stroke-width="2.33"/>
<path d="M1512.2,929.2 L1515.4,935.2 L1523.8,949.8" fill="none" stroke="#0a0a0a" stroke-width="2.02"/>
<path d="M1565.5,929.2 L1562.2,935.2 L1554.1,949.8" fill="none" stroke="#0a0a0a" stroke-width="2.02"/>
<path d="M1567.09,926.54 L1566.67,927.19 L1565.94,927.83 L1564.9,928.44 L1563.57,929.03 L1561.96,929.59 L1560.09,930.1 L1557.99,930.57 L1555.66,930.99 L1553.15,931.35 L1550.48,931.65 L1547.68,931.89 L1544.77,932.06 L1541.8,932.17 L1538.8,932.2 L1535.8,932.17 L1532.83,932.06 L1529.92,931.89 L1527.12,931.65 L1524.45,931.35 L1521.94,930.99 L1519.61,930.57 L1517.51,930.1 L1515.64,929.59 L1514.03,929.03 L1512.7,928.44 L1511.66,927.83 L1510.93,927.19 L1510.51,926.54" fill="none" stroke="#0a0a0a" stroke-width="1.78"/>
<path d="M1561.8,921.6 L1561.67,922.02 L1561.3,922.43 L1560.67,922.84 L1559.81,923.23 L1558.72,923.6 L1557.41,923.95 L1555.89,924.28 L1554.19,924.57 L1552.32,924.84 L1550.3,925.06 L1548.15,925.25 L1545.91,925.4 L1543.58,925.51 L1541.2,925.58 L1538.8,925.6 L1536.4,925.58 L1534.02,925.51 L1531.69,925.4 L1529.45,925.25 L1527.3,925.06 L1525.28,924.84 L1523.41,924.57 L1521.71,924.28 L1520.19,923.95 L1518.88,923.6 L1517.79,923.23 L1516.93,922.84 L1516.3,922.43 L1515.93,922.02 L1515.8,921.6 L1515.93,921.18 L1516.3,920.77 L1516.93,920.36 L1517.79,919.97 L1518.88,919.6 L1520.19,919.25 L1521.71,918.92 L1523.41,918.63 L1525.28,918.36 L1527.3,918.14 L1529.45,917.95 L1531.69,917.8 L1534.02,917.69 L1536.4,917.62 L1538.8,917.6 L1541.2,917.62 L1543.58,917.69 L1545.91,917.8 L1548.15,917.95 L1550.3,918.14 L1552.32,918.36 L1554.19,918.63 L1555.89,918.92 L1557.41,919.25 L1558.72,919.6 L1559.81,919.97 L1560.67,920.36 L1561.3,920.77 L1561.67,921.18 L1561.8,921.6" fill="none" stroke="#0a0a0a" stroke-width="1.78"/>
<path d="M1517.6,931.6 L1527.1,949.4 M1517.6,931.6 L1535.6,949.4 M1531.6,932.3 L1527.1,949.4 M1531.6,932.3 L1535.6,949.4 M1531.6,932.3 L1542.6,949.4 M1545.6,932.3 L1535.6,949.4 M1545.6,932.3 L1542.6,949.4 M1545.6,932.3 L1551.1,949.4 M1559.6,931.4 L1542.6,949.4 M1559.6,931.4 L1551.1,949.4 M1523.6,919.56 L1517.6,931.6 M1523.6,919.56 L1531.6,932.3 M1538.6,918.66 L1531.6,932.3 M1538.6,918.66 L1545.6,932.3 M1553.6,919.44 L1545.6,932.3 M1553.6,919.44 L1559.6,931.4 M1517.6,931.6 L1512,924.2 M1559.6,931.4 L1566,924.2" fill="none" stroke="#0a0a0a" stroke-width="1.71"/>
<path d="M291.6,747.14 C291.77,747.79 291.83,749.81 292.62,751.02 C293.41,752.23 294.83,753.37 296.36,754.42 C297.89,755.47 300.13,756.29 301.8,757.34 C303.47,758.4 305.17,759.53 306.36,760.74 C307.55,761.96 308.18,763.58 308.94,764.62 C309.7,765.66 309.84,766.23 310.91,767 C311.99,767.77 313.07,768.7 315.4,769.24 C317.73,769.79 321.75,770.26 324.92,770.26 C328.09,770.26 332.11,769.79 334.44,769.24 C336.77,768.7 337.82,767.77 338.93,767 C340.04,766.23 340.3,765.66 341.1,764.62 C341.91,763.58 342.6,761.96 343.76,760.74 C344.91,759.53 346.36,758.4 348.04,757.34 C349.72,756.29 352.23,755.47 353.82,754.42 C355.41,753.37 356.78,752.23 357.56,751.02 C358.34,749.81 358.35,747.79 358.51,747.14 A33.46,9.66 0 0 0 291.6,747.14 Z" fill="#fff" stroke="#0a0a0a" stroke-width="1.5"/>
<path d="M291.53,747.28 L291.72,746.25 L292.26,745.23 L293.17,744.23 L294.43,743.27 L296.02,742.35 L297.93,741.48 L300.14,740.68 L302.62,739.95 L305.35,739.3 L308.29,738.74 L311.42,738.27 L314.7,737.9 L318.09,737.64 L321.55,737.47 L325.06,737.42 L328.56,737.47 L332.03,737.64 L335.42,737.9 L338.69,738.27 L341.82,738.74 L344.76,739.3 L347.49,739.95 L349.97,740.68 L352.18,741.48 L354.09,742.35 L355.68,743.27 L356.94,744.23 L357.85,745.23 L358.4,746.25 L358.58,747.28" fill="none" stroke="#0a0a0a" stroke-width="2.25"/>
<path d="M293.62,748.05 L293.96,747.28 L294.64,746.52 L295.66,745.78 L297,745.07 L298.65,744.4 L300.59,743.77 L302.79,743.19 L305.24,742.68 L307.91,742.22 L310.76,741.83 L313.77,741.52 L316.91,741.28 L320.13,741.12 L323.41,741.03 L326.7,741.03 L329.98,741.12 L333.2,741.28 L336.34,741.52 L339.35,741.83 L342.2,742.22 L344.87,742.68 L347.32,743.19 L349.52,743.77 L351.46,744.4 L353.11,745.07 L354.45,745.78 L355.47,746.52 L356.15,747.28 L356.5,748.05" fill="none" stroke="#0a0a0a" stroke-width="1.5"/>
<path d="M309.15,761.28 L309.77,760.59 L310.57,759.93 L311.52,759.31 L312.62,758.73 L313.86,758.21 L315.22,757.74 L316.69,757.34 L318.25,757 L319.89,756.74 L321.58,756.55 L323.31,756.43 L325.06,756.39 L326.8,756.43 L328.53,756.55 L330.23,756.74 L331.86,757 L333.42,757.34 L334.89,757.74 L336.25,758.21 L337.49,758.73 L338.59,759.31 L339.54,759.93 L340.34,760.59 L340.97,761.28" fill="none" stroke="#0a0a0a" stroke-width="1.5"/>
<path d="M310.97,765.57 L311.18,765.07 L311.54,764.58 L312.06,764.1 L312.72,763.65 L313.52,763.23 L314.45,762.83 L315.5,762.47 L316.66,762.15 L317.91,761.87 L319.24,761.64 L320.63,761.46 L322.08,761.33 L323.56,761.25 L325.06,761.22 L326.55,761.25 L328.03,761.33 L329.48,761.46 L330.87,761.64 L332.2,761.87 L333.45,762.15 L334.61,762.47 L335.66,762.83 L336.59,763.23 L337.39,763.65 L338.05,764.1 L338.57,764.58 L338.94,765.07 L339.15,765.57" fill="none" stroke="#0a0a0a" stroke-width="2.4"/>
<ellipse cx="324.78" cy="766.18" rx="13.87" ry="4.08" fill="#fff" stroke="#0a0a0a" stroke-width="1.5"/>
<path d="M174.85,978.48 L174.85,978.99 L174.82,979.64 L174.77,980.51 L174.72,981.56 L174.7,982.75 L174.73,984.07 L174.82,985.5 L175.01,987.03 L175.31,988.63 L175.74,990.22 L176.25,991.82 L176.82,993.55 L177.48,995.43 L178.22,997.41 L179.04,999.44 L179.94,1001.47 L180.93,1003.46 L182.02,1005.37 L183.23,1007.17 L184.56,1008.78 L185.97,1010.16 L187.46,1011.39 L189.02,1012.5 L190.67,1013.47 L192.37,1014.32 L194.13,1015.03 L195.94,1015.6 L197.77,1016.02 L199.63,1016.29 L201.49,1016.4 L203.34,1016.34 L205.21,1016.15 L207.09,1015.8 L208.98,1015.32 L210.87,1014.69 L212.75,1013.93 L214.61,1013.02 L216.46,1011.98 L218.27,1010.79 L220.05,1009.46 L221.83,1007.92 L223.61,1006.19 L225.36,1004.31 L227.08,1002.31 L228.76,1000.22 L230.38,998.09 L231.93,995.93 L233.39,993.8 L234.75,991.72 L235.99,989.69 L237.13,987.64 L238.12,985.57 L238.96,983.54 L239.7,981.55 L240.35,979.62 L240.94,977.76 L241.51,975.97 L242.06,974.26 L242.64,972.63 L243.28,971.01 L243.99,969.31 L244.67,967.6 L245.31,965.94 L245.93,964.33 L246.55,962.77 L247.19,961.25 L247.86,959.76 L248.59,958.3 L249.38,956.86 L250.28,955.36 L251.31,953.77 L252.4,952.11 L253.52,950.45 L254.69,948.81 L255.9,947.2 L257.17,945.65 L258.48,944.16 L259.84,942.75 L261.25,941.44 L262.73,940.24 L264.34,939.09 L266.14,937.95 L268.09,936.84 L270.15,935.77 L272.28,934.74 L274.45,933.78 L276.63,932.88 L278.78,932.05 L280.86,931.31 L282.78,930.67 L284.62,930.16 L286.55,929.75 L288.58,929.42 L290.65,929.16 L292.69,928.96 L294.66,928.8 L296.52,928.68 L298.21,928.57 L299.72,928.46 L300.92,928.34 L299.96,918.87 L298.91,918.98 L297.57,919.07 L295.9,919.18 L293.97,919.31 L291.84,919.47 L289.58,919.7 L287.21,920 L284.79,920.4 L282.36,920.92 L280.02,921.57 L277.76,922.31 L275.47,923.13 L273.11,924.03 L270.7,925.03 L268.28,926.1 L265.88,927.25 L263.52,928.49 L261.23,929.8 L259.04,931.19 L256.96,932.67 L255.01,934.25 L253.19,935.94 L251.49,937.69 L249.9,939.5 L248.41,941.33 L247.01,943.18 L245.71,945.01 L244.48,946.82 L243.32,948.58 L242.21,950.32 L241.13,952.1 L240.14,953.9 L239.26,955.68 L238.47,957.43 L237.74,959.16 L237.07,960.86 L236.42,962.54 L235.8,964.2 L235.18,965.86 L234.52,967.59 L233.83,969.45 L233.2,971.37 L232.64,973.24 L232.1,975.07 L231.58,976.85 L231.04,978.59 L230.45,980.29 L229.81,981.95 L229.07,983.58 L228.21,985.22 L227.16,987 L225.96,988.93 L224.65,990.91 L223.26,992.91 L221.82,994.88 L220.33,996.79 L218.84,998.59 L217.38,1000.22 L215.97,1001.66 L214.63,1002.85 L213.32,1003.88 L211.98,1004.81 L210.62,1005.62 L209.26,1006.32 L207.9,1006.92 L206.56,1007.4 L205.23,1007.78 L203.94,1008.05 L202.7,1008.22 L201.51,1008.29 L200.35,1008.26 L199.16,1008.12 L197.95,1007.88 L196.73,1007.53 L195.52,1007.08 L194.33,1006.54 L193.19,1005.9 L192.09,1005.17 L191.07,1004.37 L190.15,1003.53 L189.3,1002.56 L188.43,1001.33 L187.55,999.85 L186.69,998.21 L185.87,996.45 L185.09,994.65 L184.38,992.85 L183.72,991.11 L183.14,989.49 L182.65,988.09 L182.3,986.92 L182.05,985.82 L181.88,984.73 L181.78,983.66 L181.72,982.63 L181.7,981.63 L181.7,980.69 L181.7,979.79 L181.69,978.92 L181.64,978.21 Z" fill="#fff" stroke="none" stroke-width="0"/>
<path d="M174.85,978.48 L174.85,978.99 L174.82,979.64 L174.77,980.51 L174.72,981.56 L174.7,982.75 L174.73,984.07 L174.82,985.5 L175.01,987.03 L175.31,988.63 L175.74,990.22 L176.25,991.82 L176.82,993.55 L177.48,995.43 L178.22,997.41 L179.04,999.44 L179.94,1001.47 L180.93,1003.46 L182.02,1005.37 L183.23,1007.17 L184.56,1008.78 L185.97,1010.16 L187.46,1011.39 L189.02,1012.5 L190.67,1013.47 L192.37,1014.32 L194.13,1015.03 L195.94,1015.6 L197.77,1016.02 L199.63,1016.29 L201.49,1016.4 L203.34,1016.34 L205.21,1016.15 L207.09,1015.8 L208.98,1015.32 L210.87,1014.69 L212.75,1013.93 L214.61,1013.02 L216.46,1011.98 L218.27,1010.79 L220.05,1009.46 L221.83,1007.92 L223.61,1006.19 L225.36,1004.31 L227.08,1002.31 L228.76,1000.22 L230.38,998.09 L231.93,995.93 L233.39,993.8 L234.75,991.72 L235.99,989.69 L237.13,987.64 L238.12,985.57 L238.96,983.54 L239.7,981.55 L240.35,979.62 L240.94,977.76 L241.51,975.97 L242.06,974.26 L242.64,972.63 L243.28,971.01 L243.99,969.31 L244.67,967.6 L245.31,965.94 L245.93,964.33 L246.55,962.77 L247.19,961.25 L247.86,959.76 L248.59,958.3 L249.38,956.86 L250.28,955.36 L251.31,953.77 L252.4,952.11 L253.52,950.45 L254.69,948.81 L255.9,947.2 L257.17,945.65 L258.48,944.16 L259.84,942.75 L261.25,941.44 L262.73,940.24 L264.34,939.09 L266.14,937.95 L268.09,936.84 L270.15,935.77 L272.28,934.74 L274.45,933.78 L276.63,932.88 L278.78,932.05 L280.86,931.31 L282.78,930.67 L284.62,930.16 L286.55,929.75 L288.58,929.42 L290.65,929.16 L292.69,928.96 L294.66,928.8 L296.52,928.68 L298.21,928.57 L299.72,928.46 L300.92,928.34" fill="none" stroke="#0a0a0a" stroke-width="1.5"/>
<path d="M181.64,978.21 L181.69,978.92 L181.7,979.79 L181.7,980.69 L181.7,981.63 L181.72,982.63 L181.78,983.66 L181.88,984.73 L182.05,985.82 L182.3,986.92 L182.65,988.09 L183.14,989.49 L183.72,991.11 L184.38,992.85 L185.09,994.65 L185.87,996.45 L186.69,998.21 L187.55,999.85 L188.43,1001.33 L189.3,1002.56 L190.15,1003.53 L191.07,1004.37 L192.09,1005.17 L193.19,1005.9 L194.33,1006.54 L195.52,1007.08 L196.73,1007.53 L197.95,1007.88 L199.16,1008.12 L200.35,1008.26 L201.51,1008.29 L202.7,1008.22 L203.94,1008.05 L205.23,1007.78 L206.56,1007.4 L207.9,1006.92 L209.26,1006.32 L210.62,1005.62 L211.98,1004.81 L213.32,1003.88 L214.63,1002.85 L215.97,1001.66 L217.38,1000.22 L218.84,998.59 L220.33,996.79 L221.82,994.88 L223.26,992.91 L224.65,990.91 L225.96,988.93 L227.16,987 L228.21,985.22 L229.07,983.58 L229.81,981.95 L230.45,980.29 L231.04,978.59 L231.58,976.85 L232.1,975.07 L232.64,973.24 L233.2,971.37 L233.83,969.45 L234.52,967.59 L235.18,965.86 L235.8,964.2 L236.42,962.54 L237.07,960.86 L237.74,959.16 L238.47,957.43 L239.26,955.68 L240.14,953.9 L241.13,952.1 L242.21,950.32 L243.32,948.58 L244.48,946.82 L245.71,945.01 L247.01,943.18 L248.41,941.33 L249.9,939.5 L251.49,937.69 L253.19,935.94 L255.01,934.25 L256.96,932.67 L259.04,931.19 L261.23,929.8 L263.52,928.49 L265.88,927.25 L268.28,926.1 L270.7,925.03 L273.11,924.03 L275.47,923.13 L277.76,922.31 L280.02,921.57 L282.36,920.92 L284.79,920.4 L287.21,920 L289.58,919.7 L291.84,919.47 L293.97,919.31 L295.9,919.18 L297.57,919.07 L298.91,918.98 L299.96,918.87" fill="none" stroke="#0a0a0a" stroke-width="1.5"/>
<path d="M447.59,989.09 L447.56,989.85 L447.55,990.81 L447.56,991.85 L447.56,992.98 L447.55,994.17 L447.51,995.4 L447.42,996.65 L447.29,997.87 L447.09,999.03 L446.81,1000.16 L446.43,1001.43 L445.97,1002.86 L445.46,1004.36 L444.89,1005.89 L444.28,1007.39 L443.63,1008.85 L442.96,1010.2 L442.26,1011.4 L441.58,1012.41 L440.92,1013.2 L440.21,1013.88 L439.42,1014.52 L438.57,1015.1 L437.68,1015.61 L436.75,1016.05 L435.8,1016.42 L434.84,1016.7 L433.89,1016.9 L432.96,1017.02 L432.05,1017.06 L431.12,1017.03 L430.13,1016.92 L429.1,1016.73 L428.05,1016.46 L426.99,1016.1 L425.92,1015.66 L424.86,1015.14 L423.82,1014.53 L422.8,1013.84 L421.81,1013.05 L420.81,1012.15 L419.79,1011.11 L418.75,1009.93 L417.71,1008.64 L416.67,1007.24 L415.64,1005.74 L414.62,1004.15 L413.63,1002.49 L412.66,1000.76 L411.74,999.01 L410.88,997.2 L410.06,995.25 L409.26,993.17 L408.47,990.96 L407.7,988.67 L406.92,986.31 L406.14,983.9 L405.34,981.48 L404.51,979.05 L403.65,976.69 L402.82,974.43 L402.02,972.16 L401.22,969.85 L400.39,967.52 L399.54,965.16 L398.65,962.79 L397.7,960.42 L396.68,958.05 L395.58,955.71 L394.37,953.41 L393.08,951.16 L391.71,948.91 L390.26,946.68 L388.76,944.47 L387.21,942.32 L385.64,940.24 L384.06,938.25 L382.49,936.38 L380.93,934.65 L379.39,933.06 L377.86,931.63 L376.32,930.36 L374.79,929.24 L373.28,928.26 L371.77,927.41 L370.3,926.68 L368.85,926.03 L367.44,925.44 L366.05,924.91 L364.6,924.36 L362.92,923.8 L361.12,923.31 L359.3,922.91 L357.5,922.58 L355.76,922.3 L354.11,922.06 L352.61,921.86 L351.31,921.69 L350.28,921.55 L349.49,921.42 L347.95,930.82 L348.88,930.97 L350.05,931.13 L351.37,931.3 L352.81,931.49 L354.33,931.71 L355.88,931.96 L357.41,932.24 L358.87,932.56 L360.19,932.92 L361.4,933.32 L362.65,933.8 L363.91,934.28 L365.09,934.77 L366.22,935.28 L367.3,935.82 L368.35,936.41 L369.4,937.09 L370.47,937.86 L371.56,938.77 L372.72,939.85 L373.97,941.14 L375.3,942.63 L376.7,944.28 L378.12,946.07 L379.54,947.96 L380.96,949.93 L382.33,951.95 L383.65,953.98 L384.89,956.01 L386.03,957.99 L387.05,959.95 L388.01,961.97 L388.91,964.07 L389.77,966.23 L390.61,968.45 L391.43,970.72 L392.24,973.03 L393.08,975.36 L393.95,977.7 L394.84,980 L395.7,982.24 L396.53,984.53 L397.35,986.87 L398.17,989.25 L399,991.65 L399.86,994.04 L400.75,996.4 L401.68,998.72 L402.68,1000.97 L403.75,1003.11 L404.85,1005.11 L405.98,1007.03 L407.15,1008.89 L408.36,1010.69 L409.61,1012.42 L410.89,1014.06 L412.2,1015.62 L413.56,1017.07 L414.95,1018.42 L416.39,1019.66 L417.89,1020.77 L419.43,1021.76 L421.01,1022.62 L422.62,1023.35 L424.23,1023.96 L425.86,1024.44 L427.48,1024.8 L429.09,1025.04 L430.69,1025.17 L432.26,1025.17 L433.84,1025.04 L435.42,1024.77 L436.98,1024.38 L438.51,1023.87 L440.01,1023.24 L441.46,1022.49 L442.86,1021.62 L444.2,1020.63 L445.46,1019.53 L446.65,1018.29 L447.76,1016.87 L448.76,1015.32 L449.65,1013.67 L450.45,1011.97 L451.18,1010.22 L451.84,1008.47 L452.43,1006.74 L452.95,1005.06 L453.41,1003.47 L453.82,1001.95 L454.15,1000.37 L454.38,998.75 L454.51,997.17 L454.57,995.64 L454.57,994.2 L454.54,992.87 L454.49,991.67 L454.44,990.65 L454.4,989.85 L454.39,989.23 Z" fill="#fff" stroke="none" stroke-width="0"/>
<path d="M447.59,989.09 L447.56,989.85 L447.55,990.81 L447.56,991.85 L447.56,992.98 L447.55,994.17 L447.51,995.4 L447.42,996.65 L447.29,997.87 L447.09,999.03 L446.81,1000.16 L446.43,1001.43 L445.97,1002.86 L445.46,1004.36 L444.89,1005.89 L444.28,1007.39 L443.63,1008.85 L442.96,1010.2 L442.26,1011.4 L441.58,1012.41 L440.92,1013.2 L440.21,1013.88 L439.42,1014.52 L438.57,1015.1 L437.68,1015.61 L436.75,1016.05 L435.8,1016.42 L434.84,1016.7 L433.89,1016.9 L432.96,1017.02 L432.05,1017.06 L431.12,1017.03 L430.13,1016.92 L429.1,1016.73 L428.05,1016.46 L426.99,1016.1 L425.92,1015.66 L424.86,1015.14 L423.82,1014.53 L422.8,1013.84 L421.81,1013.05 L420.81,1012.15 L419.79,1011.11 L418.75,1009.93 L417.71,1008.64 L416.67,1007.24 L415.64,1005.74 L414.62,1004.15 L413.63,1002.49 L412.66,1000.76 L411.74,999.01 L410.88,997.2 L410.06,995.25 L409.26,993.17 L408.47,990.96 L407.7,988.67 L406.92,986.31 L406.14,983.9 L405.34,981.48 L404.51,979.05 L403.65,976.69 L402.82,974.43 L402.02,972.16 L401.22,969.85 L400.39,967.52 L399.54,965.16 L398.65,962.79 L397.7,960.42 L396.68,958.05 L395.58,955.71 L394.37,953.41 L393.08,951.16 L391.71,948.91 L390.26,946.68 L388.76,944.47 L387.21,942.32 L385.64,940.24 L384.06,938.25 L382.49,936.38 L380.93,934.65 L379.39,933.06 L377.86,931.63 L376.32,930.36 L374.79,929.24 L373.28,928.26 L371.77,927.41 L370.3,926.68 L368.85,926.03 L367.44,925.44 L366.05,924.91 L364.6,924.36 L362.92,923.8 L361.12,923.31 L359.3,922.91 L357.5,922.58 L355.76,922.3 L354.11,922.06 L352.61,921.86 L351.31,921.69 L350.28,921.55 L349.49,921.42" fill="none" stroke="#0a0a0a" stroke-width="1.5"/>
<path d="M454.39,989.23 L454.4,989.85 L454.44,990.65 L454.49,991.67 L454.54,992.87 L454.57,994.2 L454.57,995.64 L454.51,997.17 L454.38,998.75 L454.15,1000.37 L453.82,1001.95 L453.41,1003.47 L452.95,1005.06 L452.43,1006.74 L451.84,1008.47 L451.18,1010.22 L450.45,1011.97 L449.65,1013.67 L448.76,1015.32 L447.76,1016.87 L446.65,1018.29 L445.46,1019.53 L444.2,1020.63 L442.86,1021.62 L441.46,1022.49 L440.01,1023.24 L438.51,1023.87 L436.98,1024.38 L435.42,1024.77 L433.84,1025.04 L432.26,1025.17 L430.69,1025.17 L429.09,1025.04 L427.48,1024.8 L425.86,1024.44 L424.23,1023.96 L422.62,1023.35 L421.01,1022.62 L419.43,1021.76 L417.89,1020.77 L416.39,1019.66 L414.95,1018.42 L413.56,1017.07 L412.2,1015.62 L410.89,1014.06 L409.61,1012.42 L408.36,1010.69 L407.15,1008.89 L405.98,1007.03 L404.85,1005.11 L403.75,1003.11 L402.68,1000.97 L401.68,998.72 L400.75,996.4 L399.86,994.04 L399,991.65 L398.17,989.25 L397.35,986.87 L396.53,984.53 L395.7,982.24 L394.84,980 L393.95,977.7 L393.08,975.36 L392.24,973.03 L391.43,970.72 L390.61,968.45 L389.77,966.23 L388.91,964.07 L388.01,961.97 L387.05,959.95 L386.03,957.99 L384.89,956.01 L383.65,953.98 L382.33,951.95 L380.96,949.93 L379.54,947.96 L378.12,946.07 L376.7,944.28 L375.3,942.63 L373.97,941.14 L372.72,939.85 L371.56,938.77 L370.47,937.86 L369.4,937.09 L368.35,936.41 L367.3,935.82 L366.22,935.28 L365.09,934.77 L363.91,934.28 L362.65,933.8 L361.4,933.32 L360.19,932.92 L358.87,932.56 L357.41,932.24 L355.88,931.96 L354.33,931.71 L352.81,931.49 L351.37,931.3 L350.05,931.13 L348.88,930.97 L347.95,930.82" fill="none" stroke="#0a0a0a" stroke-width="1.5"/>
<path d="M316.08,785.36 C315.17,785.81 312.28,787.03 310.64,788.08 C309,789.13 307.01,790.63 306.22,791.65 C305.43,792.67 305.54,793.04 305.88,794.2 C306.22,795.36 307.38,797.03 308.26,798.62 C309.14,800.21 310.67,802.87 311.15,803.72" fill="none" stroke="#0a0a0a" stroke-width="1.5"/>
<path d="M315.4,787.06 C314.72,787.34 312.45,788.14 311.32,788.76 C310.19,789.38 309.05,790.46 308.6,790.8" fill="none" stroke="#0a0a0a" stroke-width="1.2"/>
<path d="M303.16,847.58 C302.48,848.94 300.15,852.22 299.08,855.74 C298.01,859.26 296.88,865.1 296.77,868.73 C296.65,872.35 297.56,875.02 298.4,877.5 C299.24,879.98 300.44,881.69 301.8,883.62 C303.16,885.55 304.92,887.42 306.56,889.06 C308.2,890.7 310.81,892.74 311.66,893.48" fill="none" stroke="#0a0a0a" stroke-width="1.5"/>
<path d="M297.38,871.04 C298.34,870.59 300.84,869.12 303.16,868.32 C305.48,867.52 308.83,866.78 311.32,866.21 C313.81,865.65 316.99,865.14 318.12,864.92" fill="none" stroke="#0a0a0a" stroke-width="1.5"/>
<ellipse cx="318.26" cy="893.48" rx="7.21" ry="3.88" fill="#fff" stroke="#0a0a0a" stroke-width="1.65"/>
<path d="M312,894.23 L312.03,893.9 L312.14,893.58 L312.31,893.26 L312.54,892.96 L312.84,892.66 L313.19,892.39 L313.61,892.13 L314.07,891.9 L314.58,891.7 L315.13,891.52 L315.71,891.37 L316.32,891.25 L316.96,891.17 L317.6,891.12 L318.26,891.1 L318.91,891.12 L319.56,891.17 L320.19,891.25 L320.8,891.37 L321.38,891.52 L321.93,891.7 L322.44,891.9 L322.91,892.13 L323.32,892.39 L323.67,892.66 L323.97,892.96 L324.21,893.26 L324.38,893.58 L324.48,893.9 L324.51,894.23" fill="none" stroke="#0a0a0a" stroke-width="1.2"/>
<path d="M316.08,898.44 C315.17,899.32 312.57,902.13 310.64,903.68 C308.71,905.23 306.21,906.5 304.52,907.76 C302.83,909.02 301.18,910.65 300.51,911.23" fill="none" stroke="#0a0a0a" stroke-width="1.5"/>
<path d="M300.17,912.52 L300.17,928.23 L304.79,933.19 L311.15,935.98 L316.08,940.94 L333.08,940.94 L333.08,906.06 L322.2,905.04 L313.29,905.92 L305.88,908.1 Z" fill="#fff" stroke="none" stroke-width="0"/>
<path d="M300.51,911.23 C301.4,910.71 303.75,909.04 305.88,908.1 C308.01,907.16 310.57,906.13 313.29,905.58 C316.01,905.04 319.36,904.94 322.2,904.84 C325.04,904.73 329,904.95 330.36,904.97" fill="none" stroke="#0a0a0a" stroke-width="1.5"/>
<path d="M301.46,910 C302.42,909.53 305.14,908.01 307.24,907.15 C309.34,906.29 311.55,905.36 314.04,904.84 C316.53,904.31 319.71,904.16 322.2,904.02 C324.69,903.88 327.87,904.02 329,904.02" fill="none" stroke="#0a0a0a" stroke-width="1.2"/>
<path d="M300.17,912.66 C300.67,913.14 300.97,914.64 303.16,915.58 C305.35,916.52 310.12,917.71 313.29,918.3 C316.47,918.89 319.13,918.98 322.2,919.12 C325.27,919.25 330.13,919.12 331.72,919.12" fill="none" stroke="#0a0a0a" stroke-width="1.5"/>
<path d="M300.17,912.52 L300.17,928.23" fill="none" stroke="#0a0a0a" stroke-width="1.5"/>
<path d="M298.74,918.98 L298.74,928.23" fill="none" stroke="#0a0a0a" stroke-width="1.35"/>
<path d="M300.17,927.96 C300.67,927.25 300.97,924.94 303.16,923.74 C305.35,922.54 310.12,921.38 313.29,920.75 C316.47,920.11 319.13,920.07 322.2,919.93 C325.27,919.8 330.13,919.93 331.72,919.93" fill="none" stroke="#0a0a0a" stroke-width="1.5"/>
<path d="M300.78,928.5 C301.4,927.91 302.42,926.05 304.52,924.96 C306.62,923.88 310.41,922.63 313.36,921.97 C316.31,921.31 319.14,921.18 322.2,921.02 C325.26,920.86 330.13,921.02 331.72,921.02" fill="none" stroke="#0a0a0a" stroke-width="1.2"/>
<path d="M302.14,927 L303.91,924.83 M303.57,926.49 L305.34,924.35 M305,925.98 L306.76,923.88 M306.42,925.47 L308.19,923.4 M307.85,924.96 L309.62,922.92 M309.28,924.45 L311.05,922.45 M310.71,923.94 L312.48,921.97 M312.14,923.43 L313.9,921.5 M313.56,922.92 L315.33,921.02" fill="none" stroke="#0a0a0a" stroke-width="1.05"/>
<path d="M300.17,928.23 C300.44,928.67 301.03,930.05 301.8,930.88 C302.57,931.71 303.23,932.34 304.79,933.19 C306.35,934.04 309.61,935.12 311.15,935.98 C312.69,936.84 313.22,937.53 314.04,938.36 C314.86,939.19 315.74,940.51 316.08,940.94" fill="none" stroke="#0a0a0a" stroke-width="1.5"/>
<path d="M316.08,941.15 C316.65,940.85 318.18,939.77 319.48,939.38 C320.78,938.99 322.43,938.88 323.9,938.84 C325.37,938.79 326.79,938.87 328.32,939.11 C329.85,939.35 332.29,940.07 333.08,940.26" fill="none" stroke="#0a0a0a" stroke-width="3.6"/>
<path d="M316.08,941.69 C315.8,942.1 314.97,943.44 314.38,944.14 C313.79,944.84 312.85,945.61 312.54,945.91" fill="none" stroke="#0a0a0a" stroke-width="1.5"/>
<path d="M291.06,954.54 C288.9,955.87 288.45,956.9 287.52,958.42 C286.59,959.94 285.59,961.84 285.48,963.66 C285.37,965.47 286.01,967.42 286.84,969.3 C287.67,971.18 289.08,973.3 290.44,974.94 C291.8,976.59 293.3,977.83 295,979.16 C296.7,980.49 298.83,981.86 300.64,982.9 C302.46,983.94 303.99,984.66 305.88,985.42 C307.77,986.18 308.8,986.86 312,987.46 C315.2,988.06 320.72,989.02 325.06,989.02 C329.4,989.02 334.89,988.06 338.04,987.46 C341.19,986.86 342.07,986.18 343.96,985.42 C345.85,984.66 347.53,983.94 349.4,982.9 C351.27,981.86 353.48,980.49 355.18,979.16 C356.88,977.83 358.24,976.59 359.6,974.94 C360.96,973.3 362.49,971.18 363.34,969.3 C364.19,967.42 364.81,965.47 364.7,963.66 C364.59,961.84 363.6,960.12 362.66,958.42 C361.72,956.72 361.04,954.84 359.06,953.46 C357.07,952.07 353.96,951.09 350.76,950.12 C347.56,949.16 343.88,948.25 339.88,947.68 C335.88,947.1 331.18,946.68 326.76,946.66 C322.34,946.63 317.75,946.91 313.36,947.54 C308.97,948.17 304.16,949.3 300.44,950.46 C296.72,951.63 293.21,953.22 291.06,954.54 Z" fill="#fff" stroke="#0a0a0a" stroke-width="1.5"/>
<path d="M291.06,954.54 C292.62,953.86 296.72,951.63 300.44,950.46 C304.16,949.3 308.97,948.17 313.36,947.54 C317.75,946.91 322.34,946.63 326.76,946.66 C331.18,946.68 335.88,947.1 339.88,947.68 C343.88,948.25 347.56,949.16 350.76,950.12 C353.96,951.09 357.67,952.9 359.06,953.46" fill="none" stroke="#0a0a0a" stroke-width="1.5"/>
<path d="M289.22,956.38 C290.98,955.7 295.74,953.48 299.76,952.3 C303.78,951.12 308.86,949.95 313.36,949.31 C317.86,948.66 322.34,948.4 326.76,948.42 C331.18,948.45 335.77,948.84 339.88,949.44 C343.99,950.04 347.93,951.03 351.44,952.03 C354.95,953.03 359.37,954.86 360.96,955.43" fill="none" stroke="#0a0a0a" stroke-width="1.2"/>
<path d="M287.86,958.76 C289.73,958.02 294.83,955.6 299.08,954.34 C303.33,953.08 308.75,951.89 313.36,951.21 C317.97,950.53 322.34,950.24 326.76,950.26 C331.18,950.28 335.65,950.71 339.88,951.35 C344.11,951.98 348.32,952.95 352.12,954.07 C355.92,955.19 360.9,957.41 362.66,958.08" fill="none" stroke="#0a0a0a" stroke-width="1.35"/>
<path d="M285.89,962.84 C287.86,962.06 293.14,959.43 297.72,958.15 C302.3,956.87 308.52,955.79 313.36,955.16 C318.2,954.52 322.34,954.32 326.76,954.34 C331.18,954.36 335.54,954.66 339.88,955.29 C344.22,955.93 348.72,956.89 352.8,958.15 C356.88,959.41 362.43,962.06 364.36,962.84" fill="none" stroke="#0a0a0a" stroke-width="1.5"/>
<path d="M290.92,955.84 L292.96,952.98 M292.42,955.41 L294.46,952.57 M293.91,954.99 L295.95,952.16 M295.41,954.57 L297.45,951.76 M296.9,954.15 L298.94,951.35 M298.4,953.73 L300.44,950.94 M299.9,953.31 L301.94,950.53 M301.39,952.88 L303.43,950.12 M302.89,952.46 L304.93,949.72 M304.38,952.04 L306.42,949.31 M350.76,951.21 L352.53,953.39 M352.12,951.63 L353.89,953.86 M353.48,952.06 L355.25,954.34 M354.84,952.48 L356.61,954.82 M356.2,952.9 L357.97,955.29 M357.56,953.32 L359.33,955.77 M358.92,953.74 L360.69,956.24" fill="none" stroke="#0a0a0a" stroke-width="1.05"/>
<path d="M293.84,975.28 C295.17,974.57 298.55,972.22 301.8,971 C305.05,969.78 309.2,968.6 313.36,967.94 C317.52,967.28 322.34,967.06 326.76,967.06 C331.18,967.06 336.11,967.34 339.88,967.94 C343.65,968.54 346.68,969.49 349.4,970.66 C352.12,971.83 355.07,974.23 356.2,974.94" fill="none" stroke="#0a0a0a" stroke-width="1.5"/>
<ellipse cx="325.06" cy="984.19" rx="13.6" ry="4.28" fill="#fff" stroke="#0a0a0a" stroke-width="1.5"/>
<path d="M317.1,995.14 L318.46,1001.6 L331.72,1001.6 L333.08,995.14 Z" fill="#111" stroke="#0a0a0a" stroke-width="1.5"/>
<path d="M317.58,1002.21 C317,1003.04 317.6,1003.86 317.98,1005 C318.36,1006.14 318.69,1006.85 319.48,1007.92 C320.27,1009 320.81,1009.54 321.93,1010.37 C323.04,1011.2 323.8,1012.07 325.06,1012.07 C326.31,1012.07 327.07,1011.2 328.18,1010.37 C329.3,1009.54 329.84,1009 330.63,1007.92 C331.42,1006.85 331.73,1006.14 332.13,1005 C332.52,1003.86 333.23,1003.04 332.6,1002.21 C331.98,1001.38 330.51,1001.21 329,1000.85 C327.49,1000.5 326.69,1000.44 325.06,1000.44 C323.42,1000.44 322.34,1000.5 320.84,1000.85 C319.34,1001.21 318.15,1001.38 317.58,1002.21 Z" fill="#fff" stroke="#0a0a0a" stroke-width="1.5"/>
<g transform="translate(325.19 989.97) rotate(0) scale(0.68)"><ellipse cx="0" cy="0" rx="18.6" ry="10.7" fill="#111" stroke="#111" stroke-width="1.47"/><path d="M-8.18,-8.03 L-4.46,-8.03 L-6.32,-3.74 Z M-1.86,-3.74 L1.86,-3.74 L0,-8.03 Z M4.46,-8.03 L8.18,-8.03 L6.32,-3.74 Z M-14.51,-2.46 L-10.79,-2.46 L-12.65,1.82 Z M-6.08,1.82 L-2.36,1.82 L-4.22,-2.46 Z M2.36,-2.46 L6.08,-2.46 L4.22,1.82 Z M10.79,1.82 L14.51,1.82 L12.65,-2.46 Z M-14.51,7.38 L-10.79,7.38 L-12.65,3.1 Z M-8.18,3.1 L-4.46,3.1 L-6.32,7.38 Z M-1.86,7.38 L1.86,7.38 L0,3.1 Z M4.46,3.1 L8.18,3.1 L6.32,7.38 Z M10.79,7.38 L14.51,7.38 L12.65,3.1 Z " fill="#eee" stroke="none"/></g>
<path d="M320.5,995.96 L329.54,995.96" fill="none" stroke="#ddd" stroke-width="1.2"/>
<g transform="translate(323.9 778.56) rotate(-22) scale(0.68)"><ellipse cx="0" cy="0" rx="18.5" ry="11" fill="#111" stroke="#111" stroke-width="1.47"/><path d="M-8.14,-8.25 L-4.44,-8.25 L-6.29,-3.85 Z M-1.85,-3.85 L1.85,-3.85 L0,-8.25 Z M4.44,-8.25 L8.14,-8.25 L6.29,-3.85 Z M-14.43,-2.53 L-10.73,-2.53 L-12.58,1.87 Z M-6.04,1.87 L-2.34,1.87 L-4.19,-2.53 Z M2.34,-2.53 L6.04,-2.53 L4.19,1.87 Z M10.73,1.87 L14.43,1.87 L12.58,-2.53 Z M-14.43,7.59 L-10.73,7.59 L-12.58,3.19 Z M-8.14,3.19 L-4.44,3.19 L-6.29,7.59 Z M-1.85,7.59 L1.85,7.59 L0,3.19 Z M4.44,3.19 L8.14,3.19 L6.29,7.59 Z M10.73,7.59 L14.43,7.59 L12.58,3.19 Z " fill="#eee" stroke="none"/></g>
<path d="M323.9,911.23 C323.94,910.26 324.49,908.61 324.92,907.76 C325.35,906.91 325.85,906.3 326.76,905.55 C327.66,904.8 329.7,902.84 330.97,902.73 C332.25,902.62 334.2,904.09 335.26,904.84 C336.32,905.58 337.2,906.69 338.04,907.69 C338.89,908.69 340.04,910.34 340.9,911.5 C341.76,912.66 342.43,914.85 343.76,915.44 C345.08,916.04 348.85,912.98 349.74,915.44 C350.63,917.91 349.72,927.01 349.67,931.9 C349.62,936.79 349.76,943.72 349.4,948.05 C349.04,952.38 347.96,958.37 347.29,960.8 C346.63,963.23 345.84,963.57 344.98,964.27 C344.12,964.96 342.5,965.38 341.58,965.42 C340.66,965.46 339.49,964.92 338.86,964.54 C338.23,964.16 338.02,964.32 337.36,962.91 C336.71,961.5 335.25,959.51 334.51,955.16 C333.76,950.8 332.93,939.4 332.4,933.87 C331.87,928.34 331.82,920.85 330.97,918.3 C330.13,915.75 327.7,917.48 326.76,916.87 C325.81,916.26 325.08,915.07 324.65,914.22 C324.22,913.37 323.86,912.2 323.9,911.23 Z" fill="#fff" stroke="#0a0a0a" stroke-width="1.5"/>
<path d="M340.9,912.86 C341.02,914.33 341.53,918.2 341.65,921.7 C341.76,925.2 341.73,929.45 341.58,933.87 C341.43,938.29 341.12,944.08 340.76,948.22 C340.41,952.36 339.69,956.95 339.47,958.69" fill="none" stroke="#0a0a0a" stroke-width="1.5"/>
<path d="M343.76,915.44 C343.7,917.05 343.54,922.03 343.42,925.1 C343.29,928.17 343.26,930.02 343.01,933.87 C342.76,937.73 342.41,944.36 341.92,948.22 C341.43,952.08 340.39,955.59 340.08,957.06" fill="none" stroke="#0a0a0a" stroke-width="1.35"/>
<path d="M328.12,909.46 C328.43,910.08 329.48,911.73 330.02,913.2 C330.56,914.67 331.15,917.45 331.38,918.3" fill="none" stroke="#0a0a0a" stroke-width="1.5"/>
<path d="M342.12,904.02 L342.12,914.22 L351.92,914.22 L351.92,904.02 Z" fill="#fff" stroke="#0a0a0a" stroke-width="1.5"/>
<path d="M342.12,912.04 L351.92,912.04" fill="none" stroke="#0a0a0a" stroke-width="1.2"/>
<path d="M324.38,890.42 C324.38,888.27 324.77,885.49 326.08,883.62 C327.38,881.75 329.59,880.16 332.2,879.2 C334.8,878.24 338.32,878.07 341.72,877.84 C345.12,877.61 349.31,877.61 352.6,877.84 C355.88,878.07 358.94,878.24 361.44,879.2 C363.93,880.16 366.25,881.75 367.56,883.62 C368.86,885.49 369.26,888.27 369.26,890.42 C369.26,892.57 368.86,894.73 367.56,896.54 C366.25,898.35 363.7,900.11 361.44,901.3 C359.17,902.49 356.45,903.11 353.96,903.68 C351.46,904.25 348.97,904.7 346.48,904.7 C343.98,904.7 341.49,904.25 339,903.68 C336.5,903.11 333.67,902.49 331.52,901.3 C329.36,900.11 327.27,898.35 326.08,896.54 C324.89,894.73 324.38,892.57 324.38,890.42 Z" fill="#fff" stroke="#0a0a0a" stroke-width="1.5"/>
<ellipse cx="346.48" cy="900.62" rx="14.01" ry="4.96" fill="#fff" stroke="#0a0a0a" stroke-width="1.5"/>
<path d="M334.08,901.24 L334.26,900.84 L334.58,900.45 L335.04,900.07 L335.62,899.71 L336.33,899.37 L337.15,899.05 L338.07,898.76 L339.09,898.51 L340.19,898.29 L341.36,898.1 L342.59,897.95 L343.86,897.85 L345.16,897.79 L346.48,897.76 L347.79,897.79 L349.09,897.85 L350.37,897.95 L351.59,898.1 L352.77,898.29 L353.87,898.51 L354.88,898.76 L355.81,899.05 L356.62,899.37 L357.33,899.71 L357.91,900.07 L358.37,900.45 L358.69,900.84 L358.87,901.24" fill="none" stroke="#0a0a0a" stroke-width="1.35"/>
<path d="M333.35,900.11 L333.67,899.64 L334.15,899.19 L334.76,898.75 L335.51,898.34 L336.38,897.96 L337.37,897.61 L338.47,897.3 L339.66,897.04 L340.92,896.81 L342.26,896.63 L343.63,896.51 L345.05,896.43 L346.48,896.4 L347.9,896.43 L349.32,896.51 L350.7,896.63 L352.03,896.81 L353.29,897.04 L354.48,897.3 L355.58,897.61 L356.57,897.96 L357.44,898.34 L358.19,898.75 L358.81,899.19 L359.28,899.64 L359.6,900.11" fill="none" stroke="#0a0a0a" stroke-width="1.05"/>
<path d="M316.62,784.61 C316.72,784.14 316.95,782.48 317.21,781.81 C317.48,781.13 317.79,780.97 318.21,780.57 C318.64,780.17 319.16,779.77 319.77,779.39 C320.37,779.01 321.07,778.64 321.84,778.29 C322.61,777.94 323.47,777.61 324.39,777.29 C325.32,776.98 326.32,776.68 327.37,776.41 C328.43,776.14 329.56,775.88 330.73,775.66 C331.9,775.44 333.13,775.24 334.39,775.06 C335.65,774.89 336.96,774.75 338.29,774.63 C339.61,774.51 340.98,774.42 342.34,774.36 C343.71,774.31 345.1,774.28 346.48,774.28 C347.85,774.28 349.25,774.31 350.61,774.36 C351.98,774.42 353.34,774.51 354.67,774.63 C355.99,774.75 357.3,774.89 358.56,775.06 C359.82,775.24 361.05,775.44 362.22,775.66 C363.39,775.88 364.52,776.14 365.58,776.41 C366.63,776.68 367.64,776.98 368.56,777.29 C369.48,777.61 370.34,777.94 371.11,778.29 C371.88,778.64 372.58,779.01 373.18,779.39 C373.79,779.77 374.31,780.17 374.74,780.57 C375.16,780.97 375.48,781.13 375.74,781.81 C376.01,782.48 376.23,784.14 376.33,784.61 L391.36,854.38 A44.81,14.35 0 0 1 301.73,854.38 Z" fill="#fff" stroke="#0a0a0a" stroke-width="1.5"/>
<ellipse cx="346.54" cy="854.38" rx="44.81" ry="14.35" fill="#fff" stroke="#0a0a0a" stroke-width="1.5"/>
<ellipse cx="346.34" cy="855.33" rx="39.58" ry="11.29" fill="none" stroke="#0a0a0a" stroke-width="1.5"/>
<path d="M303.98,854.79 L304.21,853.44 L304.9,852.1 L306.06,850.8 L307.65,849.53 L309.67,848.33 L312.09,847.19 L314.89,846.14 L318.04,845.19 L321.5,844.34 L325.23,843.6 L329.19,842.98 L333.34,842.5 L337.64,842.15 L342.03,841.94 L346.48,841.87 L350.92,841.94 L355.31,842.15 L359.61,842.5 L363.76,842.98 L367.73,843.6 L371.46,844.34 L374.91,845.19 L378.06,846.14 L380.86,847.19 L383.28,848.33 L385.3,849.53 L386.9,850.8 L388.05,852.1 L388.74,853.44 L388.98,854.79" fill="none" stroke="#0a0a0a" stroke-width="1.05"/>
<path d="M337.5,845.2 L337.5,852.68 L355.25,852.68 L355.25,845.2" fill="none" stroke="#0a0a0a" stroke-width="1.5"/>
<path d="M354.16,852 L354.12,852.17 L353.99,852.34 L353.78,852.5 L353.48,852.66 L353.11,852.82 L352.67,852.96 L352.15,853.09 L351.57,853.21 L350.94,853.32 L350.25,853.41 L349.52,853.49 L348.76,853.55 L347.97,853.6 L347.16,853.62 L346.34,853.63 L345.52,853.62 L344.71,853.6 L343.92,853.55 L343.16,853.49 L342.43,853.41 L341.74,853.32 L341.11,853.21 L340.53,853.09 L340.01,852.96 L339.57,852.82 L339.2,852.66 L338.9,852.5 L338.69,852.34 L338.56,852.17 L338.52,852 L338.56,851.83 L338.69,851.66 L338.9,851.5 L339.2,851.34 L339.57,851.18 L340.01,851.04 L340.53,850.91 L341.11,850.79 L341.74,850.68 L342.43,850.59 L343.16,850.51 L343.92,850.45 L344.71,850.4 L345.52,850.38 L346.34,850.37 L347.16,850.38 L347.97,850.4 L348.76,850.45 L349.52,850.51 L350.25,850.59 L350.94,850.68 L351.57,850.79 L352.15,850.91 L352.67,851.04 L353.11,851.18 L353.48,851.34 L353.78,851.5 L353.99,851.66 L354.12,851.83 L354.16,852" fill="none" stroke="#0a0a0a" stroke-width="1.5"/>
<path d="M337.5,852.68 L317.58,849.48 M334.24,855.06 L312.82,851.25 M317.58,849.48 L312.82,851.25 M355.25,853.36 L380.48,850.71 M358.04,855.6 L382.86,852.61 M380.48,850.71 L382.86,852.61" fill="none" stroke="#0a0a0a" stroke-width="1.5"/>
<path d="M330.84,861.18 L316.56,862.88 M330.16,863.22 L319.96,864.58" fill="none" stroke="#0a0a0a" stroke-width="1.2"/>
<path d="M327.23,862.88 L328.46,858.12 L333.56,856.01 L346.48,854.92 L359.4,856.01 L364.84,858.12 L366.06,862.88 L364.16,867.3 L359.06,877.91 L334.37,877.91 L329.48,867.3 Z" fill="#fff" stroke="#0a0a0a" stroke-width="2.25"/>
<path d="M328.52,863.9 L330.7,867.98 L336.41,877.91" fill="none" stroke="#0a0a0a" stroke-width="1.95"/>
<path d="M364.77,863.9 L362.52,867.98 L357.02,877.91" fill="none" stroke="#0a0a0a" stroke-width="1.95"/>
<path d="M365.85,862.09 L365.56,862.53 L365.07,862.97 L364.36,863.39 L363.46,863.79 L362.36,864.16 L361.09,864.51 L359.66,864.83 L358.08,865.12 L356.37,865.36 L354.55,865.57 L352.65,865.73 L350.67,865.85 L348.65,865.92 L346.61,865.94 L344.57,865.92 L342.55,865.85 L340.58,865.73 L338.67,865.57 L336.85,865.36 L335.14,865.12 L333.57,864.83 L332.13,864.51 L330.86,864.16 L329.77,863.79 L328.86,863.39 L328.16,862.97 L327.66,862.53 L327.37,862.09" fill="none" stroke="#0a0a0a" stroke-width="1.72"/>
<path d="M362.25,858.73 L362.17,859.02 L361.91,859.3 L361.49,859.57 L360.9,859.84 L360.16,860.09 L359.27,860.33 L358.23,860.55 L357.08,860.75 L355.8,860.93 L354.43,861.09 L352.97,861.22 L351.45,861.32 L349.86,861.39 L348.25,861.44 L346.61,861.45 L344.98,861.44 L343.36,861.39 L341.78,861.32 L340.25,861.22 L338.79,861.09 L337.42,860.93 L336.15,860.75 L334.99,860.55 L333.96,860.33 L333.07,860.09 L332.32,859.84 L331.74,859.57 L331.31,859.3 L331.06,859.02 L330.97,858.73 L331.06,858.45 L331.31,858.17 L331.74,857.89 L332.32,857.63 L333.07,857.37 L333.96,857.13 L334.99,856.91 L336.15,856.71 L337.42,856.53 L338.79,856.38 L340.25,856.25 L341.78,856.15 L343.36,856.07 L344.98,856.03 L346.61,856.01 L348.25,856.03 L349.86,856.07 L351.45,856.15 L352.97,856.25 L354.43,856.38 L355.8,856.53 L357.08,856.71 L358.23,856.91 L359.27,857.13 L360.16,857.37 L360.9,857.63 L361.49,857.89 L361.91,858.17 L362.17,858.45 L362.25,858.73" fill="none" stroke="#0a0a0a" stroke-width="1.72"/>
<path d="M332.2,865.53 L338.66,877.64 M332.2,865.53 L344.44,877.64 M341.72,866.01 L338.66,877.64 M341.72,866.01 L344.44,877.64 M341.72,866.01 L349.2,877.64 M351.24,866.01 L344.44,877.64 M351.24,866.01 L349.2,877.64 M351.24,866.01 L354.98,877.64 M360.76,865.4 L349.2,877.64 M360.76,865.4 L354.98,877.64 M336.28,857.34 L332.2,865.53 M336.28,857.34 L341.72,866.01 M346.48,856.73 L341.72,866.01 M346.48,856.73 L351.24,866.01 M356.68,857.26 L351.24,866.01 M356.68,857.26 L360.76,865.4 M332.2,865.53 L328.39,860.5 M360.76,865.4 L365.11,860.5" fill="none" stroke="#0a0a0a" stroke-width="1.65"/>
<path d="M173.21,967.46 L173.21,977.66 L183,977.66 L183,967.46 Z" fill="#fff" stroke="#0a0a0a" stroke-width="1.5"/>
<path d="M173.21,975.49 L183,975.49" fill="none" stroke="#0a0a0a" stroke-width="1.2"/>
<path d="M155.46,953.86 C155.46,951.71 155.86,948.93 157.16,947.06 C158.47,945.19 160.68,943.61 163.28,942.64 C165.89,941.68 169.4,941.51 172.8,941.28 C176.2,941.06 180.4,941.06 183.68,941.28 C186.97,941.51 190.03,941.68 192.52,942.64 C195.02,943.61 197.34,945.19 198.64,947.06 C199.95,948.93 200.34,951.71 200.34,953.86 C200.34,956.02 199.95,958.17 198.64,959.98 C197.34,961.8 194.79,963.55 192.52,964.74 C190.26,965.93 187.54,966.56 185.04,967.12 C182.55,967.69 180.06,968.14 177.56,968.14 C175.07,968.14 172.58,967.69 170.08,967.12 C167.59,966.56 164.76,965.93 162.6,964.74 C160.45,963.55 158.35,961.8 157.16,959.98 C155.97,958.17 155.46,956.02 155.46,953.86 Z" fill="#fff" stroke="#0a0a0a" stroke-width="1.5"/>
<ellipse cx="177.56" cy="964.06" rx="14.01" ry="4.96" fill="#fff" stroke="#0a0a0a" stroke-width="1.5"/>
<path d="M165.17,964.68 L165.35,964.28 L165.67,963.89 L166.13,963.51 L166.71,963.15 L167.42,962.81 L168.23,962.5 L169.16,962.21 L170.17,961.95 L171.27,961.73 L172.45,961.54 L173.67,961.4 L174.95,961.29 L176.25,961.23 L177.56,961.21 L178.88,961.23 L180.18,961.29 L181.45,961.4 L182.68,961.54 L183.85,961.73 L184.95,961.95 L185.97,962.21 L186.89,962.5 L187.71,962.81 L188.42,963.15 L189,963.51 L189.46,963.89 L189.78,964.28 L189.96,964.68" fill="none" stroke="#0a0a0a" stroke-width="1.35"/>
<path d="M164.44,963.56 L164.76,963.09 L165.23,962.63 L165.85,962.2 L166.6,961.79 L167.47,961.41 L168.46,961.06 L169.56,960.75 L170.75,960.48 L172.01,960.26 L173.34,960.08 L174.72,959.95 L176.14,959.87 L177.56,959.85 L178.99,959.87 L180.41,959.95 L181.78,960.08 L183.12,960.26 L184.38,960.48 L185.57,960.75 L186.67,961.06 L187.66,961.41 L188.53,961.79 L189.28,962.2 L189.89,962.63 L190.37,963.09 L190.69,963.56" fill="none" stroke="#0a0a0a" stroke-width="1.05"/>
<path d="M147.71,848.06 C147.81,847.59 148.03,845.92 148.3,845.25 C148.56,844.58 148.88,844.42 149.3,844.02 C149.73,843.61 150.25,843.22 150.86,842.84 C151.46,842.46 152.16,842.09 152.93,841.74 C153.7,841.39 154.56,841.05 155.48,840.73 C156.4,840.42 157.41,840.12 158.46,839.85 C159.52,839.58 160.65,839.33 161.82,839.1 C162.99,838.88 164.22,838.68 165.48,838.51 C166.74,838.34 168.05,838.19 169.37,838.07 C170.7,837.96 172.06,837.87 173.43,837.81 C174.79,837.75 176.19,837.72 177.56,837.72 C178.94,837.72 180.33,837.75 181.7,837.81 C183.06,837.87 184.43,837.96 185.75,838.07 C187.08,838.19 188.39,838.34 189.65,838.51 C190.91,838.68 192.14,838.88 193.31,839.1 C194.48,839.33 195.61,839.58 196.67,839.85 C197.72,840.12 198.72,840.42 199.65,840.73 C200.57,841.05 201.43,841.39 202.2,841.74 C202.97,842.09 203.67,842.46 204.27,842.84 C204.88,843.22 205.4,843.61 205.83,844.02 C206.25,844.42 206.56,844.58 206.83,845.25 C207.09,845.92 207.32,847.59 207.42,848.06 L222.44,917.82 A44.81,14.35 0 0 1 132.82,917.82 Z" fill="#fff" stroke="#0a0a0a" stroke-width="1.5"/>
<ellipse cx="177.63" cy="917.82" rx="44.81" ry="14.35" fill="#fff" stroke="#0a0a0a" stroke-width="1.5"/>
<ellipse cx="177.43" cy="918.78" rx="39.58" ry="11.29" fill="none" stroke="#0a0a0a" stroke-width="1.5"/>
<path d="M135.06,918.23 L135.3,916.88 L135.99,915.55 L137.14,914.24 L138.74,912.98 L140.76,911.77 L143.18,910.64 L145.98,909.59 L149.13,908.63 L152.58,907.78 L156.31,907.04 L160.28,906.43 L164.43,905.94 L168.73,905.59 L173.12,905.38 L177.56,905.31 L182.01,905.38 L186.4,905.59 L190.7,905.94 L194.85,906.43 L198.81,907.04 L202.54,907.78 L206,908.63 L209.15,909.59 L211.95,910.64 L214.37,911.77 L216.39,912.98 L217.98,914.24 L219.14,915.55 L219.83,916.88 L220.06,918.23" fill="none" stroke="#0a0a0a" stroke-width="1.05"/>
<path d="M168.59,908.64 L168.59,916.12 L186.34,916.12 L186.34,908.64" fill="none" stroke="#0a0a0a" stroke-width="1.5"/>
<path d="M185.25,915.44 L185.21,915.61 L185.08,915.78 L184.87,915.95 L184.57,916.11 L184.2,916.26 L183.75,916.4 L183.24,916.54 L182.66,916.66 L182.02,916.76 L181.34,916.86 L180.61,916.93 L179.84,917 L179.05,917.04 L178.25,917.07 L177.43,917.08 L176.61,917.07 L175.8,917.04 L175.01,917 L174.25,916.93 L173.52,916.86 L172.83,916.76 L172.2,916.66 L171.62,916.54 L171.1,916.4 L170.66,916.26 L170.28,916.11 L169.99,915.95 L169.78,915.78 L169.65,915.61 L169.61,915.44 L169.65,915.27 L169.78,915.1 L169.99,914.94 L170.28,914.78 L170.66,914.63 L171.1,914.48 L171.62,914.35 L172.2,914.23 L172.83,914.12 L173.52,914.03 L174.25,913.95 L175.01,913.89 L175.8,913.85 L176.61,913.82 L177.43,913.81 L178.25,913.82 L179.05,913.85 L179.84,913.89 L180.61,913.95 L181.34,914.03 L182.02,914.12 L182.66,914.23 L183.24,914.35 L183.75,914.48 L184.2,914.63 L184.57,914.78 L184.87,914.94 L185.08,915.1 L185.21,915.27 L185.25,915.44" fill="none" stroke="#0a0a0a" stroke-width="1.5"/>
<path d="M168.59,916.12 L148.66,912.93 M165.32,918.5 L143.9,914.7 M148.66,912.93 L143.9,914.7 M186.34,916.8 L211.56,914.15 M189.12,919.05 L213.94,916.06 M211.56,914.15 L213.94,916.06" fill="none" stroke="#0a0a0a" stroke-width="1.5"/>
<path d="M161.92,924.62 L147.64,926.32 M161.24,926.66 L151.04,928.02" fill="none" stroke="#0a0a0a" stroke-width="1.2"/>
<path d="M158.32,926.32 L159.54,921.56 L164.64,919.46 L177.56,918.37 L190.48,919.46 L195.92,921.56 L197.15,926.32 L195.24,930.74 L190.14,941.35 L165.46,941.35 L160.56,930.74 Z" fill="#fff" stroke="#0a0a0a" stroke-width="2.25"/>
<path d="M159.61,927.34 L161.79,931.42 L167.5,941.35" fill="none" stroke="#0a0a0a" stroke-width="1.95"/>
<path d="M195.86,927.34 L193.61,931.42 L188.1,941.35" fill="none" stroke="#0a0a0a" stroke-width="1.95"/>
<path d="M196.94,925.54 L196.65,925.98 L196.15,926.41 L195.45,926.83 L194.54,927.23 L193.45,927.61 L192.18,927.96 L190.75,928.28 L189.17,928.56 L187.46,928.81 L185.64,929.01 L183.74,929.17 L181.76,929.29 L179.74,929.36 L177.7,929.38 L175.66,929.36 L173.64,929.29 L171.66,929.17 L169.76,929.01 L167.94,928.81 L166.23,928.56 L164.65,928.28 L163.22,927.96 L161.95,927.61 L160.86,927.23 L159.95,926.83 L159.25,926.41 L158.75,925.98 L158.46,925.54" fill="none" stroke="#0a0a0a" stroke-width="1.72"/>
<path d="M193.34,922.18 L193.25,922.46 L193,922.74 L192.57,923.02 L191.99,923.28 L191.24,923.54 L190.35,923.77 L189.32,924 L188.17,924.2 L186.89,924.38 L185.52,924.53 L184.06,924.66 L182.53,924.76 L180.95,924.84 L179.33,924.88 L177.7,924.9 L176.07,924.88 L174.45,924.84 L172.87,924.76 L171.34,924.66 L169.88,924.53 L168.51,924.38 L167.23,924.2 L166.08,924 L165.05,923.77 L164.16,923.54 L163.41,923.28 L162.83,923.02 L162.4,922.74 L162.15,922.46 L162.06,922.18 L162.15,921.89 L162.4,921.61 L162.83,921.34 L163.41,921.07 L164.16,920.82 L165.05,920.58 L166.08,920.36 L167.23,920.15 L168.51,919.98 L169.88,919.82 L171.34,919.69 L172.87,919.59 L174.45,919.52 L176.07,919.47 L177.7,919.46 L179.33,919.47 L180.95,919.52 L182.53,919.59 L184.06,919.69 L185.52,919.82 L186.89,919.98 L188.17,920.15 L189.32,920.36 L190.35,920.58 L191.24,920.82 L191.99,921.07 L192.57,921.34 L193,921.61 L193.25,921.89 L193.34,922.18" fill="none" stroke="#0a0a0a" stroke-width="1.72"/>
<path d="M163.28,928.98 L169.74,941.08 M163.28,928.98 L175.52,941.08 M172.8,929.45 L169.74,941.08 M172.8,929.45 L175.52,941.08 M172.8,929.45 L180.28,941.08 M182.32,929.45 L175.52,941.08 M182.32,929.45 L180.28,941.08 M182.32,929.45 L186.06,941.08 M191.84,928.84 L180.28,941.08 M191.84,928.84 L186.06,941.08 M167.36,920.79 L163.28,928.98 M167.36,920.79 L172.8,929.45 M177.56,920.18 L172.8,929.45 M177.56,920.18 L182.32,929.45 M187.76,920.71 L182.32,929.45 M187.76,920.71 L191.84,928.84 M163.28,928.98 L159.48,923.94 M191.84,928.84 L196.2,923.94" fill="none" stroke="#0a0a0a" stroke-width="1.65"/>
<path d="M446.1,978.28 L446.1,988.48 L455.89,988.48 L455.89,978.28 Z" fill="#fff" stroke="#0a0a0a" stroke-width="1.5"/>
<path d="M446.1,986.3 L455.89,986.3" fill="none" stroke="#0a0a0a" stroke-width="1.2"/>
<path d="M428.35,964.68 C428.35,962.52 428.74,959.75 430.05,957.88 C431.35,956.01 433.56,954.42 436.17,953.46 C438.77,952.49 442.29,952.32 445.69,952.1 C449.09,951.87 453.28,951.87 456.57,952.1 C459.85,952.32 462.91,952.49 465.41,953.46 C467.9,954.42 470.22,956.01 471.53,957.88 C472.83,959.75 473.23,962.52 473.23,964.68 C473.23,966.83 472.83,968.98 471.53,970.8 C470.22,972.61 467.67,974.37 465.41,975.56 C463.14,976.75 460.42,977.37 457.93,977.94 C455.43,978.5 452.94,978.96 450.45,978.96 C447.95,978.96 445.46,978.5 442.97,977.94 C440.47,977.37 437.64,976.75 435.49,975.56 C433.33,974.37 431.24,972.61 430.05,970.8 C428.86,968.98 428.35,966.83 428.35,964.68 Z" fill="#fff" stroke="#0a0a0a" stroke-width="1.5"/>
<ellipse cx="450.45" cy="974.88" rx="14.01" ry="4.96" fill="#fff" stroke="#0a0a0a" stroke-width="1.5"/>
<path d="M438.05,975.5 L438.24,975.1 L438.56,974.71 L439.01,974.33 L439.59,973.97 L440.3,973.62 L441.12,973.31 L442.04,973.02 L443.06,972.76 L444.16,972.54 L445.33,972.36 L446.56,972.21 L447.83,972.11 L449.13,972.04 L450.45,972.02 L451.76,972.04 L453.07,972.11 L454.34,972.21 L455.57,972.36 L456.74,972.54 L457.84,972.76 L458.86,973.02 L459.78,973.31 L460.6,973.62 L461.3,973.97 L461.88,974.33 L462.34,974.71 L462.66,975.1 L462.84,975.5" fill="none" stroke="#0a0a0a" stroke-width="1.35"/>
<path d="M437.32,974.37 L437.65,973.9 L438.12,973.44 L438.73,973.01 L439.48,972.6 L440.35,972.22 L441.35,971.87 L442.44,971.56 L443.63,971.29 L444.9,971.07 L446.23,970.89 L447.61,970.76 L449.02,970.69 L450.45,970.66 L451.88,970.69 L453.29,970.76 L454.67,970.89 L456,971.07 L457.27,971.29 L458.45,971.56 L459.55,971.87 L460.54,972.22 L461.42,972.6 L462.17,973.01 L462.78,973.44 L463.25,973.9 L463.57,974.37" fill="none" stroke="#0a0a0a" stroke-width="1.05"/>
<path d="M420.6,858.87 C420.69,858.4 420.92,856.74 421.18,856.06 C421.45,855.39 421.76,855.23 422.19,854.83 C422.61,854.43 423.14,854.03 423.74,853.65 C424.34,853.27 425.04,852.9 425.81,852.55 C426.58,852.2 427.44,851.86 428.36,851.55 C429.29,851.23 430.29,850.94 431.35,850.66 C432.4,850.39 433.53,850.14 434.7,849.92 C435.87,849.69 437.1,849.49 438.36,849.32 C439.62,849.15 440.93,849 442.26,848.88 C443.58,848.77 444.95,848.68 446.31,848.62 C447.68,848.56 449.07,848.53 450.45,848.53 C451.83,848.53 453.22,848.56 454.58,848.62 C455.95,848.68 457.31,848.77 458.64,848.88 C459.96,849 461.28,849.15 462.53,849.32 C463.79,849.49 465.03,849.69 466.2,849.92 C467.36,850.14 468.49,850.39 469.55,850.66 C470.61,850.94 471.61,851.23 472.53,851.55 C473.45,851.86 474.31,852.2 475.08,852.55 C475.85,852.9 476.55,853.27 477.16,853.65 C477.76,854.03 478.28,854.43 478.71,854.83 C479.14,855.23 479.45,855.39 479.71,856.06 C479.98,856.74 480.2,858.4 480.3,858.87 L495.33,928.64 A44.81,14.35 0 0 1 405.7,928.64 Z" fill="#fff" stroke="#0a0a0a" stroke-width="1.5"/>
<ellipse cx="450.52" cy="928.64" rx="44.81" ry="14.35" fill="#fff" stroke="#0a0a0a" stroke-width="1.5"/>
<ellipse cx="450.31" cy="929.59" rx="39.58" ry="11.29" fill="none" stroke="#0a0a0a" stroke-width="1.5"/>
<path d="M407.95,929.04 L408.18,927.69 L408.88,926.36 L410.03,925.05 L411.62,923.79 L413.64,922.58 L416.06,921.45 L418.86,920.4 L422.01,919.44 L425.47,918.59 L429.2,917.85 L433.16,917.24 L437.31,916.76 L441.61,916.41 L446.01,916.19 L450.45,916.12 L454.89,916.19 L459.28,916.41 L463.58,916.76 L467.73,917.24 L471.7,917.85 L475.43,918.59 L478.89,919.44 L482.03,920.4 L484.83,921.45 L487.25,922.58 L489.27,923.79 L490.87,925.05 L492.02,926.36 L492.72,927.69 L492.95,929.04" fill="none" stroke="#0a0a0a" stroke-width="1.05"/>
<path d="M441.47,919.46 L441.47,926.94 L459.22,926.94 L459.22,919.46" fill="none" stroke="#0a0a0a" stroke-width="1.5"/>
<path d="M458.13,926.26 L458.09,926.43 L457.96,926.6 L457.75,926.76 L457.46,926.92 L457.08,927.07 L456.64,927.22 L456.12,927.35 L455.54,927.47 L454.91,927.58 L454.22,927.67 L453.49,927.75 L452.73,927.81 L451.94,927.85 L451.13,927.88 L450.31,927.89 L449.49,927.88 L448.69,927.85 L447.9,927.81 L447.13,927.75 L446.4,927.67 L445.72,927.58 L445.08,927.47 L444.5,927.35 L443.99,927.22 L443.54,927.07 L443.17,926.92 L442.87,926.76 L442.66,926.6 L442.53,926.43 L442.49,926.26 L442.53,926.09 L442.66,925.92 L442.87,925.75 L443.17,925.59 L443.54,925.44 L443.99,925.3 L444.5,925.16 L445.08,925.04 L445.72,924.94 L446.4,924.84 L447.13,924.77 L447.9,924.7 L448.69,924.66 L449.49,924.63 L450.31,924.62 L451.13,924.63 L451.94,924.66 L452.73,924.7 L453.49,924.77 L454.22,924.84 L454.91,924.94 L455.54,925.04 L456.12,925.16 L456.64,925.3 L457.08,925.44 L457.46,925.59 L457.75,925.75 L457.96,925.92 L458.09,926.09 L458.13,926.26" fill="none" stroke="#0a0a0a" stroke-width="1.5"/>
<path d="M441.47,926.94 L421.55,923.74 M438.21,929.32 L416.79,925.51 M421.55,923.74 L416.79,925.51 M459.22,927.62 L484.45,924.96 M462.01,929.86 L486.83,926.87 M484.45,924.96 L486.83,926.87" fill="none" stroke="#0a0a0a" stroke-width="1.5"/>
<path d="M434.81,935.44 L420.53,937.14 M434.13,937.48 L423.93,938.84" fill="none" stroke="#0a0a0a" stroke-width="1.2"/>
<path d="M431.2,937.14 L432.43,932.38 L437.53,930.27 L450.45,929.18 L463.37,930.27 L468.81,932.38 L470.03,937.14 L468.13,941.56 L463.03,952.16 L438.34,952.16 L433.45,941.56 Z" fill="#fff" stroke="#0a0a0a" stroke-width="2.25"/>
<path d="M432.5,938.16 L434.67,942.24 L440.38,952.16" fill="none" stroke="#0a0a0a" stroke-width="1.95"/>
<path d="M468.74,938.16 L466.5,942.24 L460.99,952.16" fill="none" stroke="#0a0a0a" stroke-width="1.95"/>
<path d="M469.82,936.35 L469.54,936.79 L469.04,937.22 L468.33,937.64 L467.43,938.04 L466.33,938.42 L465.06,938.77 L463.63,939.09 L462.05,939.37 L460.34,939.62 L458.53,939.82 L456.62,939.98 L454.65,940.1 L452.63,940.17 L450.58,940.2 L448.54,940.17 L446.52,940.1 L444.55,939.98 L442.64,939.82 L440.82,939.62 L439.12,939.37 L437.54,939.09 L436.1,938.77 L434.83,938.42 L433.74,938.04 L432.84,937.64 L432.13,937.22 L431.63,936.79 L431.35,936.35" fill="none" stroke="#0a0a0a" stroke-width="1.72"/>
<path d="M466.22,932.99 L466.14,933.27 L465.88,933.55 L465.46,933.83 L464.87,934.09 L464.13,934.35 L463.24,934.59 L462.21,934.81 L461.05,935.01 L459.78,935.19 L458.4,935.34 L456.95,935.47 L455.42,935.57 L453.84,935.65 L452.22,935.69 L450.58,935.71 L448.95,935.69 L447.33,935.65 L445.75,935.57 L444.22,935.47 L442.76,935.34 L441.39,935.19 L440.12,935.01 L438.96,934.81 L437.93,934.59 L437.04,934.35 L436.3,934.09 L435.71,933.83 L435.29,933.55 L435.03,933.27 L434.94,932.99 L435.03,932.7 L435.29,932.42 L435.71,932.15 L436.3,931.88 L437.04,931.63 L437.93,931.39 L438.96,931.17 L440.12,930.97 L441.39,930.79 L442.76,930.63 L444.22,930.5 L445.75,930.4 L447.33,930.33 L448.95,930.28 L450.58,930.27 L452.22,930.28 L453.84,930.33 L455.42,930.4 L456.95,930.5 L458.4,930.63 L459.78,930.79 L461.05,930.97 L462.21,931.17 L463.24,931.39 L464.13,931.63 L464.87,931.88 L465.46,932.15 L465.88,932.42 L466.14,932.7 L466.22,932.99" fill="none" stroke="#0a0a0a" stroke-width="1.72"/>
<path d="M436.17,939.79 L442.63,951.89 M436.17,939.79 L448.41,951.89 M445.69,940.26 L442.63,951.89 M445.69,940.26 L448.41,951.89 M445.69,940.26 L453.17,951.89 M455.21,940.26 L448.41,951.89 M455.21,940.26 L453.17,951.89 M455.21,940.26 L458.95,951.89 M464.73,939.65 L453.17,951.89 M464.73,939.65 L458.95,951.89 M440.25,931.6 L436.17,939.79 M440.25,931.6 L445.69,940.26 M450.45,930.99 L445.69,940.26 M450.45,930.99 L455.21,940.26 M460.65,931.52 L455.21,940.26 M460.65,931.52 L464.73,939.65 M436.17,939.79 L432.36,934.76 M464.73,939.65 L469.08,934.76" fill="none" stroke="#0a0a0a" stroke-width="1.65"/>
<rect x="527.5" y="308.8" width="273.2" height="265" fill="none" stroke="#111" stroke-width="1.5"/>
<path d="M 638.87,338 A 31.79 8.42 0 0 1 702.46,338 L 702.46,349.26 A 31.79 8.42 0 0 1 638.87,349.26 Z" fill="#fff" stroke="#0a0a0a" stroke-width="1.45"/>
<path d="M 638.87,349.26 A 31.79 8.42 0 0 1 702.46,349.26" fill="none" stroke="#0a0a0a" stroke-width="1.45"/>
<path d="M646.9,352.43 C647.03,352.89 647.07,354.32 647.63,355.17 C648.19,356.03 649.19,356.83 650.27,357.58 C651.35,358.32 652.94,358.9 654.12,359.65 C655.3,360.39 656.5,361.19 657.34,362.05 C658.18,362.91 658.63,364.06 659.17,364.79 C659.71,365.53 659.8,365.93 660.57,366.48 C661.33,367.02 662.09,367.68 663.74,368.06 C665.39,368.45 668.23,368.79 670.47,368.79 C672.72,368.79 675.56,368.45 677.21,368.06 C678.86,367.68 679.6,367.02 680.38,366.48 C681.17,365.93 681.35,365.53 681.92,364.79 C682.49,364.06 682.98,362.91 683.8,362.05 C684.62,361.19 685.64,360.39 686.83,359.65 C688.01,358.9 689.79,358.32 690.92,357.58 C692.04,356.83 693.01,356.03 693.56,355.17 C694.12,354.32 694.12,352.89 694.24,352.43 A23.67,6.83 0 0 0 646.9,352.43 Z" fill="#fff" stroke="#0a0a0a" stroke-width="1.45"/>
<path d="M646.86,352.53 L646.99,351.8 L647.38,351.08 L648.02,350.37 L648.91,349.69 L650.03,349.04 L651.39,348.43 L652.95,347.86 L654.7,347.35 L656.63,346.89 L658.71,346.49 L660.93,346.16 L663.24,345.9 L665.64,345.71 L668.09,345.59 L670.57,345.55 L673.05,345.59 L675.5,345.71 L677.9,345.9 L680.22,346.16 L682.43,346.49 L684.51,346.89 L686.44,347.35 L688.19,347.86 L689.75,348.43 L691.11,349.04 L692.23,349.69 L693.12,350.37 L693.77,351.08 L694.15,351.8 L694.28,352.53" fill="none" stroke="#0a0a0a" stroke-width="2.75"/>
<path d="M648.33,353.07 L648.57,352.53 L649.06,351.99 L649.78,351.47 L650.73,350.97 L651.89,350.49 L653.26,350.05 L654.82,349.64 L656.56,349.27 L658.44,348.95 L660.46,348.67 L662.59,348.45 L664.81,348.28 L667.09,348.17 L669.4,348.11 L671.74,348.11 L674.05,348.17 L676.33,348.28 L678.55,348.45 L680.68,348.67 L682.7,348.95 L684.59,349.27 L686.32,349.64 L687.88,350.05 L689.25,350.49 L690.41,350.97 L691.36,351.47 L692.08,351.99 L692.57,352.53 L692.81,353.07" fill="none" stroke="#0a0a0a" stroke-width="1.45"/>
<path d="M650.08,355.85 L649.35,355.45 L648.71,355.05 L648.16,354.63 L647.71,354.2 L647.36,353.76 L647.11,353.32 L646.96,352.88 L646.9,352.43" fill="none" stroke="#0a0a0a" stroke-width="1.89"/>
<path d="M694.24,352.43 L694.18,352.88 L694.03,353.32 L693.78,353.76 L693.43,354.2 L692.98,354.63 L692.43,355.05 L691.79,355.45 L691.06,355.85" fill="none" stroke="#0a0a0a" stroke-width="1.89"/>
<path d="M659.32,362.43 L659.76,361.94 L660.32,361.48 L661,361.04 L661.78,360.63 L662.65,360.26 L663.62,359.93 L664.65,359.64 L665.76,359.41 L666.91,359.22 L668.11,359.08 L669.33,359 L670.57,358.97 L671.81,359 L673.03,359.08 L674.23,359.22 L675.38,359.41 L676.49,359.64 L677.53,359.93 L678.49,360.26 L679.36,360.63 L680.14,361.04 L680.82,361.48 L681.38,361.94 L681.82,362.43" fill="none" stroke="#0a0a0a" stroke-width="1.45"/>
<path d="M660.6,365.46 L660.75,365.11 L661.01,364.76 L661.38,364.43 L661.84,364.11 L662.41,363.81 L663.07,363.53 L663.81,363.27 L664.63,363.05 L665.51,362.85 L666.46,362.69 L667.44,362.56 L668.47,362.46 L669.51,362.41 L670.57,362.39 L671.63,362.41 L672.67,362.46 L673.7,362.56 L674.69,362.69 L675.63,362.85 L676.51,363.05 L677.33,363.27 L678.07,363.53 L678.73,363.81 L679.3,364.11 L679.76,364.43 L680.13,364.76 L680.39,365.11 L680.54,365.46" fill="none" stroke="#0a0a0a" stroke-width="2.32"/>
<ellipse cx="670.38" cy="365.9" rx="9.81" ry="2.89" fill="#fff" stroke="#0a0a0a" stroke-width="1.45"/>
<path d="M564.32,516.07 L564.32,516.43 L564.3,516.89 L564.26,517.5 L564.23,518.24 L564.22,519.09 L564.23,520.02 L564.3,521.04 L564.43,522.11 L564.65,523.25 L564.95,524.37 L565.31,525.5 L565.71,526.73 L566.18,528.06 L566.7,529.46 L567.28,530.89 L567.92,532.33 L568.62,533.74 L569.39,535.09 L570.25,536.36 L571.19,537.5 L572.19,538.48 L573.24,539.35 L574.35,540.13 L575.51,540.82 L576.72,541.42 L577.96,541.92 L579.24,542.32 L580.53,542.62 L581.85,542.81 L583.17,542.89 L584.48,542.85 L585.8,542.71 L587.13,542.47 L588.46,542.13 L589.8,541.68 L591.13,541.14 L592.45,540.5 L593.75,539.76 L595.03,538.93 L596.3,537.98 L597.56,536.9 L598.81,535.67 L600.05,534.34 L601.27,532.92 L602.45,531.45 L603.6,529.94 L604.7,528.41 L605.73,526.9 L606.69,525.43 L607.57,524 L608.37,522.55 L609.07,521.08 L609.67,519.65 L610.19,518.24 L610.65,516.88 L611.07,515.56 L611.47,514.29 L611.87,513.08 L612.27,511.93 L612.73,510.79 L613.22,509.58 L613.71,508.37 L614.16,507.2 L614.6,506.06 L615.04,504.95 L615.49,503.88 L615.97,502.83 L616.48,501.8 L617.04,500.77 L617.68,499.72 L618.4,498.59 L619.17,497.41 L619.97,496.24 L620.8,495.08 L621.65,493.94 L622.55,492.84 L623.48,491.79 L624.44,490.8 L625.44,489.87 L626.48,489.02 L627.62,488.21 L628.9,487.4 L630.27,486.61 L631.73,485.85 L633.24,485.13 L634.78,484.45 L636.32,483.81 L637.83,483.23 L639.31,482.7 L640.67,482.25 L641.97,481.89 L643.34,481.6 L644.77,481.37 L646.23,481.18 L647.68,481.04 L649.07,480.93 L650.38,480.84 L651.58,480.76 L652.65,480.69 L653.5,480.6 L652.82,473.9 L652.08,473.98 L651.13,474.05 L649.94,474.12 L648.58,474.21 L647.08,474.33 L645.47,474.49 L643.8,474.7 L642.09,474.98 L640.37,475.35 L638.71,475.81 L637.12,476.34 L635.49,476.91 L633.82,477.56 L632.12,478.26 L630.41,479.02 L628.71,479.83 L627.04,480.71 L625.42,481.63 L623.87,482.62 L622.4,483.66 L621.03,484.79 L619.74,485.98 L618.53,487.22 L617.41,488.49 L616.35,489.79 L615.37,491.1 L614.44,492.4 L613.57,493.68 L612.76,494.92 L611.97,496.15 L611.2,497.41 L610.51,498.68 L609.88,499.94 L609.32,501.18 L608.81,502.4 L608.33,503.6 L607.87,504.79 L607.43,505.97 L607,507.14 L606.53,508.36 L606.04,509.68 L605.6,511.04 L605.2,512.36 L604.82,513.65 L604.45,514.92 L604.07,516.15 L603.65,517.35 L603.19,518.53 L602.68,519.68 L602.06,520.84 L601.32,522.1 L600.47,523.46 L599.55,524.86 L598.57,526.28 L597.54,527.67 L596.49,529.02 L595.44,530.29 L594.4,531.45 L593.4,532.46 L592.46,533.31 L591.54,534.04 L590.58,534.69 L589.62,535.27 L588.66,535.76 L587.7,536.18 L586.75,536.53 L585.81,536.79 L584.9,536.99 L584.02,537.11 L583.18,537.16 L582.36,537.13 L581.52,537.04 L580.66,536.86 L579.8,536.62 L578.94,536.3 L578.1,535.91 L577.29,535.46 L576.52,534.95 L575.79,534.38 L575.15,533.79 L574.54,533.1 L573.93,532.23 L573.31,531.19 L572.7,530.02 L572.11,528.78 L571.57,527.51 L571.06,526.23 L570.6,525 L570.19,523.85 L569.84,522.87 L569.59,522.04 L569.42,521.26 L569.3,520.49 L569.22,519.73 L569.18,519 L569.16,518.3 L569.16,517.63 L569.17,517 L569.16,516.38 L569.13,515.88 Z" fill="#fff" stroke="none" stroke-width="0"/>
<path d="M564.32,516.07 L564.32,516.43 L564.3,516.89 L564.26,517.5 L564.23,518.24 L564.22,519.09 L564.23,520.02 L564.3,521.04 L564.43,522.11 L564.65,523.25 L564.95,524.37 L565.31,525.5 L565.71,526.73 L566.18,528.06 L566.7,529.46 L567.28,530.89 L567.92,532.33 L568.62,533.74 L569.39,535.09 L570.25,536.36 L571.19,537.5 L572.19,538.48 L573.24,539.35 L574.35,540.13 L575.51,540.82 L576.72,541.42 L577.96,541.92 L579.24,542.32 L580.53,542.62 L581.85,542.81 L583.17,542.89 L584.48,542.85 L585.8,542.71 L587.13,542.47 L588.46,542.13 L589.8,541.68 L591.13,541.14 L592.45,540.5 L593.75,539.76 L595.03,538.93 L596.3,537.98 L597.56,536.9 L598.81,535.67 L600.05,534.34 L601.27,532.92 L602.45,531.45 L603.6,529.94 L604.7,528.41 L605.73,526.9 L606.69,525.43 L607.57,524 L608.37,522.55 L609.07,521.08 L609.67,519.65 L610.19,518.24 L610.65,516.88 L611.07,515.56 L611.47,514.29 L611.87,513.08 L612.27,511.93 L612.73,510.79 L613.22,509.58 L613.71,508.37 L614.16,507.2 L614.6,506.06 L615.04,504.95 L615.49,503.88 L615.97,502.83 L616.48,501.8 L617.04,500.77 L617.68,499.72 L618.4,498.59 L619.17,497.41 L619.97,496.24 L620.8,495.08 L621.65,493.94 L622.55,492.84 L623.48,491.79 L624.44,490.8 L625.44,489.87 L626.48,489.02 L627.62,488.21 L628.9,487.4 L630.27,486.61 L631.73,485.85 L633.24,485.13 L634.78,484.45 L636.32,483.81 L637.83,483.23 L639.31,482.7 L640.67,482.25 L641.97,481.89 L643.34,481.6 L644.77,481.37 L646.23,481.18 L647.68,481.04 L649.07,480.93 L650.38,480.84 L651.58,480.76 L652.65,480.69 L653.5,480.6" fill="none" stroke="#0a0a0a" stroke-width="1.45"/>
<path d="M569.13,515.88 L569.16,516.38 L569.17,517 L569.16,517.63 L569.16,518.3 L569.18,519 L569.22,519.73 L569.3,520.49 L569.42,521.26 L569.59,522.04 L569.84,522.87 L570.19,523.85 L570.6,525 L571.06,526.23 L571.57,527.51 L572.11,528.78 L572.7,530.02 L573.31,531.19 L573.93,532.23 L574.54,533.1 L575.15,533.79 L575.79,534.38 L576.52,534.95 L577.29,535.46 L578.1,535.91 L578.94,536.3 L579.8,536.62 L580.66,536.86 L581.52,537.04 L582.36,537.13 L583.18,537.16 L584.02,537.11 L584.9,536.99 L585.81,536.79 L586.75,536.53 L587.7,536.18 L588.66,535.76 L589.62,535.27 L590.58,534.69 L591.54,534.04 L592.46,533.31 L593.4,532.46 L594.4,531.45 L595.44,530.29 L596.49,529.02 L597.54,527.67 L598.57,526.28 L599.55,524.86 L600.47,523.46 L601.32,522.1 L602.06,520.84 L602.68,519.68 L603.19,518.53 L603.65,517.35 L604.07,516.15 L604.45,514.92 L604.82,513.65 L605.2,512.36 L605.6,511.04 L606.04,509.68 L606.53,508.36 L607,507.14 L607.43,505.97 L607.87,504.79 L608.33,503.6 L608.81,502.4 L609.32,501.18 L609.88,499.94 L610.51,498.68 L611.2,497.41 L611.97,496.15 L612.76,494.92 L613.57,493.68 L614.44,492.4 L615.37,491.1 L616.35,489.79 L617.41,488.49 L618.53,487.22 L619.74,485.98 L621.03,484.79 L622.4,483.66 L623.87,482.62 L625.42,481.63 L627.04,480.71 L628.71,479.83 L630.41,479.02 L632.12,478.26 L633.82,477.56 L635.49,476.91 L637.12,476.34 L638.71,475.81 L640.37,475.35 L642.09,474.98 L643.8,474.7 L645.47,474.49 L647.08,474.33 L648.58,474.21 L649.94,474.12 L651.13,474.05 L652.08,473.98 L652.82,473.9" fill="none" stroke="#0a0a0a" stroke-width="1.45"/>
<path d="M757.25,523.57 L757.22,524.11 L757.22,524.79 L757.22,525.53 L757.23,526.32 L757.22,527.17 L757.19,528.04 L757.13,528.92 L757.03,529.78 L756.89,530.6 L756.69,531.41 L756.42,532.3 L756.1,533.32 L755.74,534.38 L755.34,535.45 L754.91,536.52 L754.45,537.55 L753.97,538.5 L753.48,539.35 L752.99,540.07 L752.53,540.62 L752.03,541.11 L751.47,541.56 L750.87,541.97 L750.23,542.33 L749.58,542.65 L748.91,542.9 L748.23,543.1 L747.55,543.25 L746.89,543.33 L746.25,543.36 L745.59,543.34 L744.89,543.26 L744.17,543.12 L743.42,542.93 L742.67,542.68 L741.92,542.37 L741.17,542 L740.43,541.57 L739.71,541.08 L739.01,540.52 L738.3,539.89 L737.58,539.15 L736.85,538.32 L736.11,537.4 L735.37,536.41 L734.64,535.35 L733.92,534.23 L733.22,533.05 L732.54,531.83 L731.88,530.59 L731.28,529.31 L730.7,527.93 L730.13,526.46 L729.58,524.9 L729.03,523.28 L728.48,521.61 L727.93,519.9 L727.36,518.19 L726.77,516.47 L726.16,514.8 L725.58,513.2 L725.01,511.6 L724.44,509.96 L723.86,508.31 L723.26,506.65 L722.63,504.97 L721.96,503.29 L721.24,501.62 L720.45,499.96 L719.6,498.34 L718.69,496.74 L717.72,495.15 L716.69,493.57 L715.63,492.01 L714.54,490.49 L713.43,489.02 L712.31,487.61 L711.2,486.29 L710.09,485.07 L709.01,483.94 L707.92,482.93 L706.83,482.03 L705.75,481.24 L704.68,480.55 L703.62,479.95 L702.57,479.42 L701.55,478.96 L700.55,478.55 L699.57,478.17 L698.54,477.78 L697.36,477.39 L696.08,477.05 L694.79,476.76 L693.52,476.53 L692.29,476.33 L691.13,476.16 L690.06,476.02 L689.14,475.9 L688.41,475.8 L687.85,475.71 L686.77,482.35 L687.42,482.46 L688.25,482.58 L689.19,482.7 L690.2,482.83 L691.28,482.99 L692.37,483.16 L693.46,483.36 L694.49,483.59 L695.42,483.84 L696.28,484.13 L697.16,484.46 L698.05,484.81 L698.89,485.15 L699.69,485.51 L700.45,485.89 L701.2,486.31 L701.94,486.79 L702.69,487.34 L703.47,487.98 L704.28,488.74 L705.17,489.65 L706.11,490.71 L707.1,491.88 L708.1,493.14 L709.11,494.48 L710.11,495.87 L711.09,497.3 L712.02,498.74 L712.9,500.18 L713.7,501.57 L714.42,502.96 L715.1,504.39 L715.74,505.87 L716.35,507.4 L716.94,508.98 L717.52,510.58 L718.1,512.21 L718.69,513.86 L719.3,515.52 L719.93,517.14 L720.54,518.73 L721.13,520.34 L721.71,522 L722.29,523.69 L722.88,525.38 L723.48,527.07 L724.11,528.75 L724.77,530.39 L725.48,531.98 L726.24,533.49 L727.02,534.9 L727.81,536.26 L728.64,537.58 L729.5,538.85 L730.38,540.07 L731.28,541.24 L732.21,542.34 L733.17,543.37 L734.16,544.32 L735.18,545.2 L736.23,545.98 L737.33,546.68 L738.45,547.29 L739.58,547.81 L740.72,548.24 L741.87,548.58 L743.02,548.83 L744.16,549.01 L745.29,549.09 L746.4,549.09 L747.52,549 L748.64,548.82 L749.74,548.54 L750.82,548.18 L751.88,547.73 L752.91,547.2 L753.9,546.58 L754.84,545.89 L755.74,545.11 L756.58,544.23 L757.37,543.23 L758.07,542.12 L758.7,540.96 L759.27,539.75 L759.78,538.52 L760.25,537.28 L760.67,536.06 L761.04,534.87 L761.36,533.75 L761.65,532.67 L761.89,531.55 L762.05,530.41 L762.14,529.29 L762.18,528.21 L762.18,527.19 L762.16,526.25 L762.12,525.4 L762.09,524.68 L762.06,524.11 L762.06,523.67 Z" fill="#fff" stroke="none" stroke-width="0"/>
<path d="M757.25,523.57 L757.22,524.11 L757.22,524.79 L757.22,525.53 L757.23,526.32 L757.22,527.17 L757.19,528.04 L757.13,528.92 L757.03,529.78 L756.89,530.6 L756.69,531.41 L756.42,532.3 L756.1,533.32 L755.74,534.38 L755.34,535.45 L754.91,536.52 L754.45,537.55 L753.97,538.5 L753.48,539.35 L752.99,540.07 L752.53,540.62 L752.03,541.11 L751.47,541.56 L750.87,541.97 L750.23,542.33 L749.58,542.65 L748.91,542.9 L748.23,543.1 L747.55,543.25 L746.89,543.33 L746.25,543.36 L745.59,543.34 L744.89,543.26 L744.17,543.12 L743.42,542.93 L742.67,542.68 L741.92,542.37 L741.17,542 L740.43,541.57 L739.71,541.08 L739.01,540.52 L738.3,539.89 L737.58,539.15 L736.85,538.32 L736.11,537.4 L735.37,536.41 L734.64,535.35 L733.92,534.23 L733.22,533.05 L732.54,531.83 L731.88,530.59 L731.28,529.31 L730.7,527.93 L730.13,526.46 L729.58,524.9 L729.03,523.28 L728.48,521.61 L727.93,519.9 L727.36,518.19 L726.77,516.47 L726.16,514.8 L725.58,513.2 L725.01,511.6 L724.44,509.96 L723.86,508.31 L723.26,506.65 L722.63,504.97 L721.96,503.29 L721.24,501.62 L720.45,499.96 L719.6,498.34 L718.69,496.74 L717.72,495.15 L716.69,493.57 L715.63,492.01 L714.54,490.49 L713.43,489.02 L712.31,487.61 L711.2,486.29 L710.09,485.07 L709.01,483.94 L707.92,482.93 L706.83,482.03 L705.75,481.24 L704.68,480.55 L703.62,479.95 L702.57,479.42 L701.55,478.96 L700.55,478.55 L699.57,478.17 L698.54,477.78 L697.36,477.39 L696.08,477.05 L694.79,476.76 L693.52,476.53 L692.29,476.33 L691.13,476.16 L690.06,476.02 L689.14,475.9 L688.41,475.8 L687.85,475.71" fill="none" stroke="#0a0a0a" stroke-width="1.45"/>
<path d="M762.06,523.67 L762.06,524.11 L762.09,524.68 L762.12,525.4 L762.16,526.25 L762.18,527.19 L762.18,528.21 L762.14,529.29 L762.05,530.41 L761.89,531.55 L761.65,532.67 L761.36,533.75 L761.04,534.87 L760.67,536.06 L760.25,537.28 L759.78,538.52 L759.27,539.75 L758.7,540.96 L758.07,542.12 L757.37,543.23 L756.58,544.23 L755.74,545.11 L754.84,545.89 L753.9,546.58 L752.91,547.2 L751.88,547.73 L750.82,548.18 L749.74,548.54 L748.64,548.82 L747.52,549 L746.4,549.09 L745.29,549.09 L744.16,549.01 L743.02,548.83 L741.87,548.58 L740.72,548.24 L739.58,547.81 L738.45,547.29 L737.33,546.68 L736.23,545.98 L735.18,545.2 L734.16,544.32 L733.17,543.37 L732.21,542.34 L731.28,541.24 L730.38,540.07 L729.5,538.85 L728.64,537.58 L727.81,536.26 L727.02,534.9 L726.24,533.49 L725.48,531.98 L724.77,530.39 L724.11,528.75 L723.48,527.07 L722.88,525.38 L722.29,523.69 L721.71,522 L721.13,520.34 L720.54,518.73 L719.93,517.14 L719.3,515.52 L718.69,513.86 L718.1,512.21 L717.52,510.58 L716.94,508.98 L716.35,507.4 L715.74,505.87 L715.1,504.39 L714.42,502.96 L713.7,501.57 L712.9,500.18 L712.02,498.74 L711.09,497.3 L710.11,495.87 L709.11,494.48 L708.1,493.14 L707.1,491.88 L706.11,490.71 L705.17,489.65 L704.28,488.74 L703.47,487.98 L702.69,487.34 L701.94,486.79 L701.2,486.31 L700.45,485.89 L699.69,485.51 L698.89,485.15 L698.05,484.81 L697.16,484.46 L696.28,484.13 L695.42,483.84 L694.49,483.59 L693.46,483.36 L692.37,483.16 L691.28,482.99 L690.2,482.83 L689.19,482.7 L688.25,482.58 L687.42,482.46 L686.77,482.35" fill="none" stroke="#0a0a0a" stroke-width="1.45"/>
<path d="M664.22,379.46 C663.58,379.79 661.54,380.65 660.37,381.39 C659.21,382.13 657.81,383.19 657.25,383.91 C656.69,384.64 656.77,384.9 657.01,385.72 C657.25,386.54 658.07,387.72 658.69,388.84 C659.31,389.97 660.39,391.85 660.73,392.45" fill="none" stroke="#0a0a0a" stroke-width="1.45"/>
<path d="M663.74,380.67 C663.26,380.87 661.66,381.43 660.85,381.87 C660.05,382.31 659.25,383.07 658.93,383.31" fill="none" stroke="#0a0a0a" stroke-width="1.16"/>
<path d="M655.08,423.48 C654.6,424.44 652.95,426.75 652.2,429.25 C651.44,431.74 650.64,435.87 650.56,438.44 C650.48,441 651.12,442.88 651.72,444.64 C652.31,446.4 653.16,447.61 654.12,448.97 C655.08,450.33 656.32,451.65 657.49,452.82 C658.65,453.98 660.49,455.42 661.09,455.94" fill="none" stroke="#0a0a0a" stroke-width="1.45"/>
<path d="M650.99,440.07 C651.67,439.75 653.44,438.72 655.08,438.15 C656.73,437.58 659.09,437.06 660.85,436.66 C662.62,436.25 664.86,435.89 665.66,435.74" fill="none" stroke="#0a0a0a" stroke-width="1.45"/>
<ellipse cx="665.76" cy="455.94" rx="5.1" ry="2.74" fill="#fff" stroke="#0a0a0a" stroke-width="1.59"/>
<path d="M661.34,456.47 L661.36,456.24 L661.43,456.01 L661.55,455.79 L661.72,455.57 L661.93,455.37 L662.18,455.17 L662.47,454.99 L662.8,454.83 L663.16,454.68 L663.55,454.56 L663.96,454.45 L664.39,454.37 L664.84,454.31 L665.3,454.27 L665.76,454.26 L666.22,454.27 L666.68,454.31 L667.13,454.37 L667.56,454.45 L667.97,454.56 L668.36,454.68 L668.72,454.83 L669.05,454.99 L669.34,455.17 L669.59,455.37 L669.8,455.57 L669.97,455.79 L670.09,456.01 L670.16,456.24 L670.19,456.47" fill="none" stroke="#0a0a0a" stroke-width="1.16"/>
<path d="M664.22,459.45 C663.58,460.07 661.74,462.06 660.37,463.16 C659.01,464.26 657.24,465.15 656.04,466.04 C654.85,466.93 653.68,468.09 653.21,468.5" fill="none" stroke="#0a0a0a" stroke-width="1.45"/>
<path d="M652.97,469.41 L652.97,480.52 L656.24,484.03 L660.73,486.01 L664.22,489.52 L676.25,489.52 L676.25,464.84 L668.55,464.12 L662.25,464.75 L657.01,466.29 Z" fill="#fff" stroke="none" stroke-width="0"/>
<path d="M653.21,468.5 C653.84,468.13 655.5,466.95 657.01,466.29 C658.51,465.62 660.32,464.89 662.25,464.51 C664.17,464.12 666.54,464.05 668.55,463.98 C670.56,463.9 673.36,464.06 674.32,464.07" fill="none" stroke="#0a0a0a" stroke-width="1.45"/>
<path d="M653.88,467.63 C654.56,467.3 656.48,466.22 657.97,465.61 C659.45,465 661.01,464.34 662.78,463.98 C664.54,463.61 666.79,463.5 668.55,463.4 C670.31,463.3 672.56,463.4 673.36,463.4" fill="none" stroke="#0a0a0a" stroke-width="1.16"/>
<path d="M652.97,469.51 C653.32,469.85 653.53,470.91 655.08,471.58 C656.63,472.24 660,473.08 662.25,473.5 C664.49,473.92 666.38,473.98 668.55,474.08 C670.72,474.17 674.16,474.08 675.28,474.08" fill="none" stroke="#0a0a0a" stroke-width="1.45"/>
<path d="M652.97,469.41 L652.97,480.52" fill="none" stroke="#0a0a0a" stroke-width="1.45"/>
<path d="M651.96,473.98 L651.96,480.52" fill="none" stroke="#0a0a0a" stroke-width="1.3"/>
<path d="M652.97,480.33 C653.32,479.83 653.53,478.2 655.08,477.35 C656.63,476.5 660,475.68 662.25,475.23 C664.49,474.78 666.38,474.75 668.55,474.65 C670.72,474.56 674.16,474.65 675.28,474.65" fill="none" stroke="#0a0a0a" stroke-width="1.45"/>
<path d="M653.4,480.72 C653.84,480.3 654.56,478.98 656.04,478.21 C657.53,477.44 660.21,476.56 662.3,476.1 C664.38,475.63 666.39,475.54 668.55,475.42 C670.71,475.31 674.16,475.42 675.28,475.42" fill="none" stroke="#0a0a0a" stroke-width="1.16"/>
<path d="M654.36,479.66 L655.61,478.12 M655.37,479.3 L656.62,477.78 M656.38,478.94 L657.63,477.44 M657.39,478.57 L658.64,477.11 M658.4,478.21 L659.65,476.77 M659.41,477.85 L660.66,476.43 M660.42,477.49 L661.67,476.1 M661.43,477.13 L662.68,475.76 M662.44,476.77 L663.69,475.42" fill="none" stroke="#0a0a0a" stroke-width="1.01"/>
<path d="M652.97,480.52 C653.16,480.84 653.57,481.81 654.12,482.4 C654.67,482.98 655.13,483.43 656.24,484.03 C657.34,484.64 659.64,485.4 660.73,486.01 C661.82,486.62 662.2,487.1 662.78,487.69 C663.36,488.27 663.98,489.21 664.22,489.52" fill="none" stroke="#0a0a0a" stroke-width="1.45"/>
<path d="M664.22,489.66 C664.62,489.45 665.7,488.68 666.63,488.41 C667.55,488.14 668.71,488.06 669.75,488.03 C670.79,487.99 671.8,488.05 672.88,488.22 C673.96,488.39 675.68,488.9 676.25,489.04" fill="none" stroke="#0a0a0a" stroke-width="3.48"/>
<path d="M664.22,490.05 C664.02,490.33 663.44,491.28 663.02,491.78 C662.6,492.28 661.94,492.82 661.72,493.03" fill="none" stroke="#0a0a0a" stroke-width="1.45"/>
<path d="M646.52,499.14 C645,500.08 644.68,500.8 644.02,501.88 C643.36,502.95 642.66,504.3 642.58,505.58 C642.5,506.87 642.95,508.24 643.54,509.57 C644.12,510.91 645.13,512.4 646.09,513.57 C647.05,514.73 648.11,515.61 649.31,516.55 C650.51,517.49 652.02,518.46 653.3,519.19 C654.58,519.93 655.67,520.44 657.01,520.97 C658.34,521.51 659.07,521.99 661.34,522.42 C663.6,522.84 667.5,523.52 670.57,523.52 C673.64,523.52 677.53,522.84 679.76,522.42 C681.99,521.99 682.6,521.51 683.94,520.97 C685.28,520.44 686.47,519.93 687.79,519.19 C689.11,518.46 690.68,517.49 691.88,516.55 C693.08,515.61 694.04,514.73 695,513.57 C695.97,512.4 697.05,510.91 697.65,509.57 C698.25,508.24 698.69,506.87 698.61,505.58 C698.53,504.3 697.83,503.08 697.17,501.88 C696.5,500.68 696.02,499.35 694.62,498.37 C693.22,497.39 691.01,496.69 688.75,496.01 C686.49,495.33 683.89,494.69 681.06,494.28 C678.23,493.87 674.9,493.57 671.77,493.56 C668.65,493.54 665.4,493.73 662.3,494.18 C659.19,494.63 655.79,495.43 653.16,496.25 C650.53,497.08 648.04,498.2 646.52,499.14 Z" fill="#fff" stroke="#0a0a0a" stroke-width="1.45"/>
<path d="M646.52,499.14 C647.63,498.66 650.53,497.08 653.16,496.25 C655.79,495.43 659.19,494.63 662.3,494.18 C665.4,493.73 668.65,493.54 671.77,493.56 C674.9,493.57 678.23,493.87 681.06,494.28 C683.89,494.69 686.49,495.33 688.75,496.01 C691.01,496.69 693.64,497.97 694.62,498.37" fill="none" stroke="#0a0a0a" stroke-width="1.45"/>
<path d="M645.22,500.44 C646.46,499.95 649.83,498.38 652.68,497.55 C655.52,496.72 659.11,495.89 662.3,495.43 C665.48,494.98 668.65,494.79 671.77,494.81 C674.9,494.82 678.15,495.1 681.06,495.53 C683.97,495.95 686.75,496.65 689.23,497.36 C691.72,498.06 694.84,499.36 695.97,499.76" fill="none" stroke="#0a0a0a" stroke-width="1.16"/>
<path d="M644.26,502.12 C645.58,501.6 649.19,499.88 652.2,498.99 C655.2,498.1 659.03,497.26 662.3,496.78 C665.56,496.3 668.65,496.09 671.77,496.11 C674.9,496.12 678.07,496.43 681.06,496.88 C684.05,497.33 687.03,498.01 689.71,498.8 C692.4,499.59 695.93,501.17 697.17,501.64" fill="none" stroke="#0a0a0a" stroke-width="1.3"/>
<path d="M642.86,505.01 C644.26,504.45 648,502.59 651.23,501.69 C654.47,500.78 658.87,500.02 662.3,499.57 C665.72,499.12 668.65,498.98 671.77,498.99 C674.9,499.01 677.99,499.22 681.06,499.67 C684.13,500.12 687.31,500.8 690.2,501.69 C693.08,502.58 697.01,504.45 698.37,505.01" fill="none" stroke="#0a0a0a" stroke-width="1.45"/>
<path d="M646.42,500.05 L647.87,498.03 M647.48,499.75 L648.93,497.74 M648.54,499.45 L649.98,497.45 M649.6,499.16 L651.04,497.17 M650.66,498.86 L652.1,496.88 M651.72,498.56 L653.16,496.59 M652.77,498.26 L654.22,496.3 M653.83,497.96 L655.27,496.01 M654.89,497.67 L656.33,495.72 M655.95,497.37 L657.39,495.43 M688.75,496.78 L690,498.32 M689.71,497.08 L690.96,498.66 M690.68,497.38 L691.93,498.99 M691.64,497.68 L692.89,499.33 M692.6,497.97 L693.85,499.67 M693.56,498.27 L694.81,500 M694.52,498.57 L695.77,500.34" fill="none" stroke="#0a0a0a" stroke-width="1.01"/>
<path d="M648.49,513.81 C649.43,513.3 651.82,511.64 654.12,510.78 C656.42,509.91 659.35,509.08 662.3,508.61 C665.24,508.15 668.65,507.99 671.77,507.99 C674.9,507.99 678.39,508.19 681.06,508.61 C683.73,509.04 685.87,509.71 687.79,510.54 C689.71,511.36 691.8,513.06 692.6,513.57" fill="none" stroke="#0a0a0a" stroke-width="1.45"/>
<ellipse cx="670.57" cy="520.11" rx="9.62" ry="3.03" fill="#fff" stroke="#0a0a0a" stroke-width="1.45"/>
<path d="M664.94,527.85 L665.9,532.42 L675.28,532.42 L676.25,527.85 Z" fill="#111" stroke="#0a0a0a" stroke-width="1.45"/>
<path d="M665.28,532.86 C664.88,533.44 665.3,534.02 665.57,534.83 C665.84,535.64 666.07,536.14 666.63,536.9 C667.18,537.66 667.57,538.04 668.36,538.63 C669.15,539.21 669.69,539.83 670.57,539.83 C671.46,539.83 671.99,539.21 672.78,538.63 C673.57,538.04 673.96,537.66 674.51,536.9 C675.07,536.14 675.29,535.64 675.57,534.83 C675.85,534.02 676.35,533.44 675.91,532.86 C675.47,532.27 674.43,532.14 673.36,531.89 C672.29,531.64 671.72,531.6 670.57,531.6 C669.42,531.6 668.65,531.64 667.59,531.89 C666.53,532.14 665.68,532.27 665.28,532.86 Z" fill="#fff" stroke="#0a0a0a" stroke-width="1.45"/>
<g transform="translate(670.67 524.2) rotate(0) scale(0.48)"><ellipse cx="0" cy="0" rx="18.6" ry="10.7" fill="#111" stroke="#111" stroke-width="2.08"/><path d="M-8.18,-8.03 L-4.46,-8.03 L-6.32,-3.74 Z M-1.86,-3.74 L1.86,-3.74 L0,-8.03 Z M4.46,-8.03 L8.18,-8.03 L6.32,-3.74 Z M-14.51,-2.46 L-10.79,-2.46 L-12.65,1.82 Z M-6.08,1.82 L-2.36,1.82 L-4.22,-2.46 Z M2.36,-2.46 L6.08,-2.46 L4.22,1.82 Z M10.79,1.82 L14.51,1.82 L12.65,-2.46 Z M-14.51,7.38 L-10.79,7.38 L-12.65,3.1 Z M-8.18,3.1 L-4.46,3.1 L-6.32,7.38 Z M-1.86,7.38 L1.86,7.38 L0,3.1 Z M4.46,3.1 L8.18,3.1 L6.32,7.38 Z M10.79,7.38 L14.51,7.38 L12.65,3.1 Z " fill="#eee" stroke="none"/></g>
<path d="M667.35,528.43 L673.74,528.43" fill="none" stroke="#ddd" stroke-width="1.16"/>
<g transform="translate(669.75 374.65) rotate(-22) scale(0.48)"><ellipse cx="0" cy="0" rx="18.5" ry="11" fill="#111" stroke="#111" stroke-width="2.08"/><path d="M-8.14,-8.25 L-4.44,-8.25 L-6.29,-3.85 Z M-1.85,-3.85 L1.85,-3.85 L0,-8.25 Z M4.44,-8.25 L8.14,-8.25 L6.29,-3.85 Z M-14.43,-2.53 L-10.73,-2.53 L-12.58,1.87 Z M-6.04,1.87 L-2.34,1.87 L-4.19,-2.53 Z M2.34,-2.53 L6.04,-2.53 L4.19,1.87 Z M10.73,1.87 L14.43,1.87 L12.58,-2.53 Z M-14.43,7.59 L-10.73,7.59 L-12.58,3.19 Z M-8.14,3.19 L-4.44,3.19 L-6.29,7.59 Z M-1.85,7.59 L1.85,7.59 L0,3.19 Z M4.44,3.19 L8.14,3.19 L6.29,7.59 Z M10.73,7.59 L14.43,7.59 L12.58,3.19 Z " fill="#eee" stroke="none"/></g>
<path d="M669.75,468.5 C669.78,467.81 670.17,466.65 670.47,466.04 C670.78,465.44 671.13,465.02 671.77,464.48 C672.41,463.95 673.85,462.56 674.75,462.49 C675.66,462.41 677.03,463.45 677.79,463.98 C678.54,464.5 679.16,465.29 679.76,466 C680.36,466.7 681.17,467.87 681.78,468.69 C682.38,469.51 682.86,471.06 683.8,471.48 C684.74,471.9 687.4,469.73 688.03,471.48 C688.66,473.23 688.02,479.66 687.98,483.12 C687.95,486.58 688.04,491.48 687.79,494.54 C687.54,497.61 686.77,501.84 686.3,503.56 C685.83,505.28 685.27,505.52 684.66,506.02 C684.06,506.51 682.91,506.8 682.26,506.83 C681.61,506.86 680.78,506.47 680.33,506.21 C679.89,505.94 679.74,506.05 679.28,505.05 C678.81,504.06 677.78,502.65 677.26,499.57 C676.73,496.49 676.14,488.43 675.76,484.51 C675.39,480.6 675.35,475.3 674.75,473.5 C674.16,471.7 672.44,472.92 671.77,472.49 C671.1,472.06 670.58,471.21 670.28,470.61 C669.98,470.02 669.72,469.18 669.75,468.5 Z" fill="#fff" stroke="#0a0a0a" stroke-width="1.45"/>
<path d="M681.78,469.65 C681.87,470.69 682.23,473.43 682.31,475.91 C682.39,478.38 682.36,481.39 682.26,484.51 C682.15,487.64 681.93,491.74 681.68,494.66 C681.43,497.59 680.92,500.84 680.77,502.07" fill="none" stroke="#0a0a0a" stroke-width="1.45"/>
<path d="M683.8,471.48 C683.76,472.62 683.65,476.14 683.56,478.31 C683.47,480.48 683.44,481.79 683.27,484.51 C683.09,487.24 682.84,491.93 682.5,494.66 C682.15,497.4 681.42,499.87 681.2,500.92" fill="none" stroke="#0a0a0a" stroke-width="1.3"/>
<path d="M672.73,467.25 C672.96,467.69 673.7,468.85 674.08,469.89 C674.47,470.93 674.88,472.9 675.04,473.5" fill="none" stroke="#0a0a0a" stroke-width="1.45"/>
<path d="M682.64,463.4 L682.64,470.61 L689.57,470.61 L689.57,463.4 Z" fill="#fff" stroke="#0a0a0a" stroke-width="1.45"/>
<path d="M682.64,469.07 L689.57,469.07" fill="none" stroke="#0a0a0a" stroke-width="1.16"/>
<path d="M670.09,453.78 C670.09,452.26 670.37,450.29 671.29,448.97 C672.21,447.65 673.78,446.52 675.62,445.84 C677.46,445.16 679.95,445.04 682.35,444.88 C684.76,444.72 687.73,444.72 690.05,444.88 C692.38,445.04 694.54,445.16 696.3,445.84 C698.07,446.52 699.71,447.65 700.63,448.97 C701.55,450.29 701.84,452.26 701.84,453.78 C701.84,455.3 701.55,456.83 700.63,458.11 C699.71,459.39 697.91,460.63 696.3,461.48 C694.7,462.32 692.78,462.76 691.01,463.16 C689.25,463.56 687.49,463.88 685.72,463.88 C683.96,463.88 682.19,463.56 680.43,463.16 C678.67,462.76 676.66,462.32 675.14,461.48 C673.62,460.63 672.13,459.39 671.29,458.11 C670.45,456.83 670.09,455.3 670.09,453.78 Z" fill="#fff" stroke="#0a0a0a" stroke-width="1.45"/>
<ellipse cx="685.72" cy="460.99" rx="9.91" ry="3.51" fill="#fff" stroke="#0a0a0a" stroke-width="1.45"/>
<path d="M676.95,461.43 L677.08,461.15 L677.31,460.87 L677.63,460.61 L678.04,460.35 L678.54,460.11 L679.12,459.89 L679.77,459.68 L680.49,459.5 L681.27,459.34 L682.1,459.21 L682.97,459.11 L683.87,459.03 L684.79,458.99 L685.72,458.97 L686.65,458.99 L687.57,459.03 L688.47,459.11 L689.34,459.21 L690.17,459.34 L690.95,459.5 L691.67,459.68 L692.32,459.89 L692.9,460.11 L693.4,460.35 L693.81,460.61 L694.13,460.87 L694.36,461.15 L694.49,461.43" fill="none" stroke="#0a0a0a" stroke-width="1.3"/>
<path d="M676.44,460.64 L676.67,460.3 L677,459.98 L677.43,459.67 L677.96,459.38 L678.58,459.11 L679.28,458.87 L680.06,458.65 L680.9,458.46 L681.79,458.3 L682.74,458.18 L683.71,458.08 L684.71,458.03 L685.72,458.01 L686.73,458.03 L687.73,458.08 L688.71,458.18 L689.65,458.3 L690.54,458.46 L691.39,458.65 L692.16,458.87 L692.86,459.11 L693.48,459.38 L694.01,459.67 L694.44,459.98 L694.78,460.3 L695.01,460.64" fill="none" stroke="#0a0a0a" stroke-width="1.01"/>
<path d="M664.61,378.94 C664.68,378.6 664.83,377.43 665.02,376.95 C665.21,376.47 665.43,376.36 665.73,376.08 C666.03,375.79 666.4,375.51 666.83,375.24 C667.26,374.98 667.75,374.71 668.3,374.47 C668.84,374.22 669.45,373.98 670.1,373.76 C670.75,373.53 671.46,373.32 672.21,373.13 C672.96,372.94 673.76,372.76 674.58,372.6 C675.41,372.45 676.28,372.3 677.17,372.18 C678.06,372.06 678.99,371.96 679.93,371.87 C680.87,371.79 681.83,371.73 682.8,371.69 C683.76,371.65 684.75,371.62 685.72,371.62 C686.7,371.62 687.68,371.65 688.65,371.69 C689.61,371.73 690.58,371.79 691.52,371.87 C692.45,371.96 693.38,372.06 694.27,372.18 C695.16,372.3 696.03,372.45 696.86,372.6 C697.69,372.76 698.49,372.94 699.23,373.13 C699.98,373.32 700.69,373.53 701.34,373.76 C701.99,373.98 702.6,374.22 703.15,374.47 C703.69,374.71 704.19,374.98 704.61,375.24 C705.04,375.51 705.41,375.79 705.71,376.08 C706.01,376.36 706.23,376.47 706.42,376.95 C706.61,377.43 706.77,378.6 706.84,378.94 L717.47,428.29 A31.7,10.15 0 0 1 654.07,428.29 Z" fill="#fff" stroke="#0a0a0a" stroke-width="1.45"/>
<ellipse cx="685.77" cy="428.29" rx="31.7" ry="10.15" fill="#fff" stroke="#0a0a0a" stroke-width="1.45"/>
<ellipse cx="685.63" cy="428.96" rx="27.99" ry="7.98" fill="none" stroke="#0a0a0a" stroke-width="1.45"/>
<path d="M655.66,428.57 L655.82,427.62 L656.32,426.67 L657.13,425.75 L658.26,424.86 L659.69,424.01 L661.4,423.2 L663.38,422.46 L665.61,421.78 L668.05,421.18 L670.69,420.66 L673.49,420.23 L676.43,419.88 L679.47,419.64 L682.58,419.49 L685.72,419.44 L688.86,419.49 L691.97,419.64 L695.01,419.88 L697.95,420.23 L700.75,420.66 L703.39,421.18 L705.84,421.78 L708.06,422.46 L710.04,423.2 L711.76,424.01 L713.19,424.86 L714.31,425.75 L715.13,426.67 L715.62,427.62 L715.78,428.57" fill="none" stroke="#0a0a0a" stroke-width="1.01"/>
<path d="M679.37,421.79 L679.37,427.08 L691.93,427.08 L691.93,421.79" fill="none" stroke="#0a0a0a" stroke-width="1.45"/>
<path d="M691.16,426.6 L691.13,426.72 L691.04,426.84 L690.89,426.96 L690.68,427.07 L690.42,427.18 L690.1,427.28 L689.74,427.37 L689.33,427.46 L688.88,427.54 L688.39,427.6 L687.88,427.66 L687.33,427.7 L686.78,427.73 L686.2,427.75 L685.63,427.76 L685.05,427.75 L684.48,427.73 L683.92,427.7 L683.38,427.66 L682.86,427.6 L682.37,427.54 L681.92,427.46 L681.51,427.37 L681.15,427.28 L680.84,427.18 L680.57,427.07 L680.36,426.96 L680.21,426.84 L680.12,426.72 L680.09,426.6 L680.12,426.48 L680.21,426.36 L680.36,426.25 L680.57,426.13 L680.84,426.03 L681.15,425.92 L681.51,425.83 L681.92,425.74 L682.37,425.67 L682.86,425.6 L683.38,425.55 L683.92,425.5 L684.48,425.47 L685.05,425.45 L685.63,425.45 L686.2,425.45 L686.78,425.47 L687.33,425.5 L687.88,425.55 L688.39,425.6 L688.88,425.67 L689.33,425.74 L689.74,425.83 L690.1,425.92 L690.42,426.03 L690.68,426.13 L690.89,426.25 L691.04,426.36 L691.13,426.48 L691.16,426.6" fill="none" stroke="#0a0a0a" stroke-width="1.45"/>
<path d="M679.37,427.08 L665.28,424.82 M677.06,428.77 L661.91,426.07 M665.28,424.82 L661.91,426.07 M691.93,427.56 L709.77,425.69 M693.9,429.15 L711.46,427.04 M709.77,425.69 L711.46,427.04" fill="none" stroke="#0a0a0a" stroke-width="1.45"/>
<path d="M674.66,433.1 L664.56,434.3 M674.18,434.54 L666.96,435.5" fill="none" stroke="#0a0a0a" stroke-width="1.16"/>
<path d="M672.11,434.3 L672.98,430.93 L676.58,429.44 L685.72,428.67 L694.86,429.44 L698.71,430.93 L699.57,434.3 L698.23,437.43 L694.62,444.93 L677.16,444.93 L673.7,437.43 Z" fill="#fff" stroke="#0a0a0a" stroke-width="2.17"/>
<path d="M673.02,435.02 L674.56,437.91 L678.6,444.93" fill="none" stroke="#0a0a0a" stroke-width="1.89"/>
<path d="M698.66,435.02 L697.07,437.91 L693.18,444.93" fill="none" stroke="#0a0a0a" stroke-width="1.89"/>
<path d="M699.43,433.74 L699.22,434.05 L698.87,434.36 L698.37,434.66 L697.73,434.94 L696.96,435.21 L696.06,435.45 L695.05,435.68 L693.93,435.88 L692.72,436.05 L691.44,436.2 L690.09,436.31 L688.69,436.4 L687.26,436.45 L685.82,436.46 L684.37,436.45 L682.94,436.4 L681.55,436.31 L680.2,436.2 L678.91,436.05 L677.71,435.88 L676.59,435.68 L675.58,435.45 L674.68,435.21 L673.9,434.94 L673.26,434.66 L672.76,434.36 L672.41,434.05 L672.21,433.74" fill="none" stroke="#0a0a0a" stroke-width="1.67"/>
<path d="M696.88,431.36 L696.82,431.57 L696.64,431.76 L696.34,431.96 L695.92,432.15 L695.4,432.33 L694.77,432.5 L694.04,432.65 L693.22,432.79 L692.32,432.92 L691.35,433.03 L690.32,433.12 L689.24,433.19 L688.12,433.25 L686.97,433.28 L685.82,433.29 L684.66,433.28 L683.52,433.25 L682.4,433.19 L681.32,433.12 L680.29,433.03 L679.32,432.92 L678.42,432.79 L677.6,432.65 L676.87,432.5 L676.24,432.33 L675.71,432.15 L675.3,431.96 L675,431.76 L674.82,431.57 L674.75,431.36 L674.82,431.16 L675,430.96 L675.3,430.77 L675.71,430.58 L676.24,430.4 L676.87,430.23 L677.6,430.08 L678.42,429.93 L679.32,429.81 L680.29,429.7 L681.32,429.61 L682.4,429.53 L683.52,429.48 L684.66,429.45 L685.82,429.44 L686.97,429.45 L688.12,429.48 L689.24,429.53 L690.32,429.61 L691.35,429.7 L692.32,429.81 L693.22,429.93 L694.04,430.08 L694.77,430.23 L695.4,430.4 L695.92,430.58 L696.34,430.77 L696.64,430.96 L696.82,431.16 L696.88,431.36" fill="none" stroke="#0a0a0a" stroke-width="1.67"/>
<path d="M675.62,436.17 L680.19,444.74 M675.62,436.17 L684.28,444.74 M682.35,436.51 L680.19,444.74 M682.35,436.51 L684.28,444.74 M682.35,436.51 L687.65,444.74 M689.09,436.51 L684.28,444.74 M689.09,436.51 L687.65,444.74 M689.09,436.51 L691.73,444.74 M695.82,436.08 L687.65,444.74 M695.82,436.08 L691.73,444.74 M678.51,430.38 L675.62,436.17 M678.51,430.38 L682.35,436.51 M685.72,429.95 L682.35,436.51 M685.72,429.95 L689.09,436.51 M692.94,430.33 L689.09,436.51 M692.94,430.33 L695.82,436.08 M675.62,436.17 L672.93,432.62 M695.82,436.08 L698.9,432.62" fill="none" stroke="#0a0a0a" stroke-width="1.59"/>
<path d="M563.16,508.28 L563.16,515.49 L570.09,515.49 L570.09,508.28 Z" fill="#fff" stroke="#0a0a0a" stroke-width="1.45"/>
<path d="M563.16,513.95 L570.09,513.95" fill="none" stroke="#0a0a0a" stroke-width="1.16"/>
<path d="M550.61,498.66 C550.61,497.13 550.89,495.17 551.81,493.85 C552.73,492.52 554.3,491.4 556.14,490.72 C557.98,490.04 560.47,489.92 562.87,489.76 C565.28,489.6 568.25,489.6 570.57,489.76 C572.9,489.92 575.06,490.04 576.82,490.72 C578.59,491.4 580.23,492.52 581.15,493.85 C582.07,495.17 582.35,497.13 582.35,498.66 C582.35,500.18 582.07,501.7 581.15,502.99 C580.23,504.27 578.43,505.51 576.82,506.35 C575.22,507.19 573.3,507.63 571.53,508.04 C569.77,508.44 568,508.76 566.24,508.76 C564.48,508.76 562.71,508.44 560.95,508.04 C559.19,507.63 557.18,507.19 555.66,506.35 C554.14,505.51 552.65,504.27 551.81,502.99 C550.97,501.7 550.61,500.18 550.61,498.66 Z" fill="#fff" stroke="#0a0a0a" stroke-width="1.45"/>
<ellipse cx="566.24" cy="505.87" rx="9.91" ry="3.51" fill="#fff" stroke="#0a0a0a" stroke-width="1.45"/>
<path d="M557.47,506.31 L557.6,506.03 L557.83,505.75 L558.15,505.48 L558.56,505.23 L559.06,504.99 L559.64,504.76 L560.29,504.56 L561.01,504.38 L561.79,504.22 L562.62,504.09 L563.49,503.99 L564.39,503.91 L565.31,503.87 L566.24,503.85 L567.17,503.87 L568.09,503.91 L568.99,503.99 L569.86,504.09 L570.69,504.22 L571.47,504.38 L572.19,504.56 L572.84,504.76 L573.42,504.99 L573.92,505.23 L574.33,505.48 L574.65,505.75 L574.88,506.03 L575.01,506.31" fill="none" stroke="#0a0a0a" stroke-width="1.3"/>
<path d="M556.96,505.51 L557.19,505.18 L557.52,504.86 L557.95,504.55 L558.48,504.26 L559.1,503.99 L559.8,503.74 L560.58,503.53 L561.42,503.34 L562.31,503.18 L563.26,503.05 L564.23,502.96 L565.23,502.91 L566.24,502.89 L567.25,502.91 L568.25,502.96 L569.23,503.05 L570.17,503.18 L571.06,503.34 L571.9,503.53 L572.68,503.74 L573.38,503.99 L574,504.26 L574.53,504.55 L574.96,504.86 L575.3,505.18 L575.53,505.51" fill="none" stroke="#0a0a0a" stroke-width="1.01"/>
<path d="M545.13,423.81 C545.19,423.48 545.35,422.3 545.54,421.83 C545.73,421.35 545.95,421.24 546.25,420.96 C546.55,420.67 546.92,420.39 547.35,420.12 C547.78,419.85 548.27,419.59 548.82,419.34 C549.36,419.09 549.97,418.86 550.62,418.63 C551.27,418.41 551.98,418.2 552.73,418.01 C553.48,417.82 554.28,417.64 555.1,417.48 C555.93,417.32 556.8,417.18 557.69,417.06 C558.58,416.94 559.51,416.83 560.45,416.75 C561.38,416.67 562.35,416.61 563.32,416.56 C564.28,416.52 565.27,416.5 566.24,416.5 C567.22,416.5 568.2,416.52 569.17,416.56 C570.13,416.61 571.1,416.67 572.04,416.75 C572.97,416.83 573.9,416.94 574.79,417.06 C575.68,417.18 576.55,417.32 577.38,417.48 C578.21,417.64 579.01,417.82 579.75,418.01 C580.5,418.2 581.21,418.41 581.86,418.63 C582.51,418.86 583.12,419.09 583.67,419.34 C584.21,419.59 584.71,419.85 585.13,420.12 C585.56,420.39 585.93,420.67 586.23,420.96 C586.53,421.24 586.75,421.35 586.94,421.83 C587.13,422.3 587.29,423.48 587.36,423.81 L597.99,473.16 A31.7,10.15 0 0 1 534.59,473.16 Z" fill="#fff" stroke="#0a0a0a" stroke-width="1.45"/>
<ellipse cx="566.29" cy="473.16" rx="31.7" ry="10.15" fill="#fff" stroke="#0a0a0a" stroke-width="1.45"/>
<ellipse cx="566.15" cy="473.84" rx="27.99" ry="7.98" fill="none" stroke="#0a0a0a" stroke-width="1.45"/>
<path d="M536.18,473.45 L536.34,472.5 L536.84,471.55 L537.65,470.63 L538.78,469.73 L540.21,468.88 L541.92,468.08 L543.9,467.34 L546.13,466.66 L548.57,466.06 L551.21,465.54 L554.01,465.1 L556.95,464.76 L559.99,464.51 L563.1,464.36 L566.24,464.31 L569.38,464.36 L572.49,464.51 L575.53,464.76 L578.47,465.1 L581.27,465.54 L583.91,466.06 L586.36,466.66 L588.58,467.34 L590.56,468.08 L592.28,468.88 L593.7,469.73 L594.83,470.63 L595.65,471.55 L596.14,472.5 L596.3,473.45" fill="none" stroke="#0a0a0a" stroke-width="1.01"/>
<path d="M559.89,466.67 L559.89,471.96 L572.45,471.96 L572.45,466.67" fill="none" stroke="#0a0a0a" stroke-width="1.45"/>
<path d="M571.68,471.48 L571.65,471.6 L571.56,471.72 L571.41,471.84 L571.2,471.95 L570.94,472.06 L570.62,472.16 L570.26,472.25 L569.85,472.34 L569.4,472.41 L568.91,472.48 L568.39,472.53 L567.85,472.58 L567.3,472.61 L566.72,472.63 L566.15,472.63 L565.57,472.63 L565,472.61 L564.44,472.58 L563.9,472.53 L563.38,472.48 L562.89,472.41 L562.44,472.34 L562.03,472.25 L561.67,472.16 L561.35,472.06 L561.09,471.95 L560.88,471.84 L560.73,471.72 L560.64,471.6 L560.61,471.48 L560.64,471.36 L560.73,471.24 L560.88,471.12 L561.09,471.01 L561.35,470.9 L561.67,470.8 L562.03,470.71 L562.44,470.62 L562.89,470.55 L563.38,470.48 L563.9,470.43 L564.44,470.38 L565,470.35 L565.57,470.33 L566.15,470.33 L566.72,470.33 L567.3,470.35 L567.85,470.38 L568.39,470.43 L568.91,470.48 L569.4,470.55 L569.85,470.62 L570.26,470.71 L570.62,470.8 L570.94,470.9 L571.2,471.01 L571.41,471.12 L571.56,471.24 L571.65,471.36 L571.68,471.48" fill="none" stroke="#0a0a0a" stroke-width="1.45"/>
<path d="M559.89,471.96 L545.8,469.7 M557.58,473.64 L542.43,470.95 M545.8,469.7 L542.43,470.95 M572.45,472.44 L590.29,470.57 M574.42,474.03 L591.97,471.91 M590.29,470.57 L591.97,471.91" fill="none" stroke="#0a0a0a" stroke-width="1.45"/>
<path d="M555.18,477.97 L545.08,479.18 M554.7,479.42 L547.48,480.38" fill="none" stroke="#0a0a0a" stroke-width="1.16"/>
<path d="M552.63,479.18 L553.49,475.81 L557.1,474.32 L566.24,473.55 L575.38,474.32 L579.23,475.81 L580.09,479.18 L578.75,482.3 L575.14,489.81 L557.68,489.81 L554.22,482.3 Z" fill="#fff" stroke="#0a0a0a" stroke-width="2.17"/>
<path d="M553.54,479.9 L555.08,482.78 L559.12,489.81" fill="none" stroke="#0a0a0a" stroke-width="1.89"/>
<path d="M579.18,479.9 L577.59,482.78 L573.7,489.81" fill="none" stroke="#0a0a0a" stroke-width="1.89"/>
<path d="M579.95,478.62 L579.74,478.93 L579.39,479.24 L578.89,479.53 L578.25,479.82 L577.48,480.08 L576.58,480.33 L575.57,480.56 L574.45,480.76 L573.24,480.93 L571.96,481.08 L570.61,481.19 L569.21,481.27 L567.78,481.32 L566.34,481.34 L564.89,481.32 L563.46,481.27 L562.07,481.19 L560.72,481.08 L559.43,480.93 L558.23,480.76 L557.11,480.56 L556.1,480.33 L555.2,480.08 L554.42,479.82 L553.78,479.53 L553.28,479.24 L552.93,478.93 L552.73,478.62" fill="none" stroke="#0a0a0a" stroke-width="1.67"/>
<path d="M577.4,476.24 L577.34,476.44 L577.16,476.64 L576.86,476.84 L576.44,477.02 L575.92,477.2 L575.29,477.37 L574.56,477.53 L573.74,477.67 L572.84,477.8 L571.87,477.91 L570.84,478 L569.76,478.07 L568.64,478.12 L567.49,478.16 L566.34,478.17 L565.18,478.16 L564.04,478.12 L562.92,478.07 L561.84,478 L560.81,477.91 L559.83,477.8 L558.93,477.67 L558.12,477.53 L557.39,477.37 L556.76,477.2 L556.23,477.02 L555.82,476.84 L555.52,476.64 L555.34,476.44 L555.27,476.24 L555.34,476.04 L555.52,475.84 L555.82,475.65 L556.23,475.46 L556.76,475.28 L557.39,475.11 L558.12,474.95 L558.93,474.81 L559.83,474.69 L560.81,474.58 L561.84,474.48 L562.92,474.41 L564.04,474.36 L565.18,474.33 L566.34,474.32 L567.49,474.33 L568.64,474.36 L569.76,474.41 L570.84,474.48 L571.87,474.58 L572.84,474.69 L573.74,474.81 L574.56,474.95 L575.29,475.11 L575.92,475.28 L576.44,475.46 L576.86,475.65 L577.16,475.84 L577.34,476.04 L577.4,476.24" fill="none" stroke="#0a0a0a" stroke-width="1.67"/>
<path d="M556.14,481.05 L560.71,489.61 M556.14,481.05 L564.8,489.61 M562.87,481.39 L560.71,489.61 M562.87,481.39 L564.8,489.61 M562.87,481.39 L568.17,489.61 M569.61,481.39 L564.8,489.61 M569.61,481.39 L568.17,489.61 M569.61,481.39 L572.25,489.61 M576.34,480.96 L568.17,489.61 M576.34,480.96 L572.25,489.61 M559.03,475.26 L556.14,481.05 M559.03,475.26 L562.87,481.39 M566.24,474.83 L562.87,481.39 M566.24,474.83 L569.61,481.39 M573.46,475.2 L569.61,481.39 M573.46,475.2 L576.34,480.96 M556.14,481.05 L553.45,477.49 M576.34,480.96 L579.42,477.49" fill="none" stroke="#0a0a0a" stroke-width="1.59"/>
<path d="M756.19,515.92 L756.19,523.14 L763.11,523.14 L763.11,515.92 Z" fill="#fff" stroke="#0a0a0a" stroke-width="1.45"/>
<path d="M756.19,521.6 L763.11,521.6" fill="none" stroke="#0a0a0a" stroke-width="1.16"/>
<path d="M743.63,506.3 C743.63,504.78 743.91,502.82 744.84,501.49 C745.76,500.17 747.32,499.05 749.17,498.37 C751.01,497.69 753.49,497.57 755.9,497.41 C758.3,497.25 761.27,497.25 763.6,497.41 C765.92,497.57 768.08,497.69 769.85,498.37 C771.61,499.05 773.26,500.17 774.18,501.49 C775.1,502.82 775.38,504.78 775.38,506.3 C775.38,507.83 775.1,509.35 774.18,510.63 C773.26,511.92 771.45,513.16 769.85,514 C768.25,514.84 766.32,515.28 764.56,515.68 C762.79,516.08 761.03,516.41 759.27,516.41 C757.5,516.41 755.74,516.08 753.98,515.68 C752.21,515.28 750.21,514.84 748.68,514 C747.16,513.16 745.68,511.92 744.84,510.63 C743.99,509.35 743.63,507.83 743.63,506.3 Z" fill="#fff" stroke="#0a0a0a" stroke-width="1.45"/>
<ellipse cx="759.27" cy="513.52" rx="9.91" ry="3.51" fill="#fff" stroke="#0a0a0a" stroke-width="1.45"/>
<path d="M750.5,513.96 L750.63,513.68 L750.86,513.4 L751.18,513.13 L751.59,512.87 L752.09,512.63 L752.67,512.41 L753.32,512.21 L754.04,512.03 L754.82,511.87 L755.65,511.74 L756.52,511.63 L757.42,511.56 L758.34,511.51 L759.27,511.5 L760.2,511.51 L761.12,511.56 L762.02,511.63 L762.89,511.74 L763.72,511.87 L764.49,512.03 L765.21,512.21 L765.87,512.41 L766.45,512.63 L766.94,512.87 L767.36,513.13 L767.68,513.4 L767.91,513.68 L768.04,513.96" fill="none" stroke="#0a0a0a" stroke-width="1.3"/>
<path d="M749.98,513.16 L750.21,512.83 L750.54,512.51 L750.98,512.2 L751.51,511.91 L752.13,511.64 L752.83,511.39 L753.6,511.17 L754.44,510.98 L755.34,510.83 L756.28,510.7 L757.26,510.61 L758.26,510.56 L759.27,510.54 L760.28,510.56 L761.28,510.61 L762.25,510.7 L763.19,510.83 L764.09,510.98 L764.93,511.17 L765.71,511.39 L766.41,511.64 L767.03,511.91 L767.55,512.2 L767.99,512.51 L768.32,512.83 L768.55,513.16" fill="none" stroke="#0a0a0a" stroke-width="1.01"/>
<path d="M738.15,431.46 C738.22,431.13 738.38,429.95 738.57,429.48 C738.75,429 738.97,428.89 739.28,428.6 C739.58,428.32 739.95,428.04 740.37,427.77 C740.8,427.5 741.3,427.24 741.84,426.99 C742.39,426.74 742.99,426.5 743.65,426.28 C744.3,426.06 745.01,425.85 745.76,425.66 C746.5,425.47 747.3,425.29 748.13,425.13 C748.95,424.97 749.83,424.83 750.72,424.71 C751.61,424.59 752.54,424.48 753.47,424.4 C754.41,424.32 755.38,424.25 756.34,424.21 C757.31,424.17 758.29,424.15 759.27,424.15 C760.24,424.15 761.23,424.17 762.19,424.21 C763.16,424.25 764.12,424.32 765.06,424.4 C766,424.48 766.93,424.59 767.82,424.71 C768.71,424.83 769.58,424.97 770.41,425.13 C771.23,425.29 772.03,425.47 772.78,425.66 C773.52,425.85 774.23,426.06 774.89,426.28 C775.54,426.5 776.15,426.74 776.69,426.99 C777.24,427.24 777.73,427.5 778.16,427.77 C778.59,428.04 778.96,428.32 779.26,428.6 C779.56,428.89 779.78,429 779.97,429.48 C780.15,429.95 780.31,431.13 780.38,431.46 L791.01,480.81 A31.7,10.15 0 0 1 727.62,480.81 Z" fill="#fff" stroke="#0a0a0a" stroke-width="1.45"/>
<ellipse cx="759.31" cy="480.81" rx="31.7" ry="10.15" fill="#fff" stroke="#0a0a0a" stroke-width="1.45"/>
<ellipse cx="759.17" cy="481.48" rx="27.99" ry="7.98" fill="none" stroke="#0a0a0a" stroke-width="1.45"/>
<path d="M729.2,481.1 L729.37,480.14 L729.86,479.2 L730.68,478.28 L731.8,477.38 L733.23,476.53 L734.95,475.73 L736.93,474.98 L739.15,474.31 L741.6,473.71 L744.24,473.19 L747.04,472.75 L749.98,472.41 L753.02,472.16 L756.12,472.01 L759.27,471.96 L762.41,472.01 L765.52,472.16 L768.56,472.41 L771.49,472.75 L774.3,473.19 L776.94,473.71 L779.38,474.31 L781.61,474.98 L783.59,475.73 L785.3,476.53 L786.73,477.38 L787.86,478.28 L788.67,479.2 L789.16,480.14 L789.33,481.1" fill="none" stroke="#0a0a0a" stroke-width="1.01"/>
<path d="M752.92,474.32 L752.92,479.61 L765.47,479.61 L765.47,474.32" fill="none" stroke="#0a0a0a" stroke-width="1.45"/>
<path d="M764.7,479.13 L764.67,479.25 L764.58,479.37 L764.43,479.48 L764.22,479.6 L763.96,479.7 L763.65,479.81 L763.28,479.9 L762.87,479.99 L762.42,480.06 L761.94,480.13 L761.42,480.18 L760.88,480.23 L760.32,480.26 L759.75,480.28 L759.17,480.28 L758.59,480.28 L758.02,480.26 L757.46,480.23 L756.92,480.18 L756.4,480.13 L755.92,480.06 L755.47,479.99 L755.06,479.9 L754.7,479.81 L754.38,479.7 L754.12,479.6 L753.91,479.48 L753.76,479.37 L753.67,479.25 L753.64,479.13 L753.67,479.01 L753.76,478.89 L753.91,478.77 L754.12,478.66 L754.38,478.55 L754.7,478.45 L755.06,478.36 L755.47,478.27 L755.92,478.19 L756.4,478.13 L756.92,478.07 L757.46,478.03 L758.02,478 L758.59,477.98 L759.17,477.97 L759.75,477.98 L760.32,478 L760.88,478.03 L761.42,478.07 L761.94,478.13 L762.42,478.19 L762.87,478.27 L763.28,478.36 L763.65,478.45 L763.96,478.55 L764.22,478.66 L764.43,478.77 L764.58,478.89 L764.67,479.01 L764.7,479.13" fill="none" stroke="#0a0a0a" stroke-width="1.45"/>
<path d="M752.92,479.61 L738.82,477.35 M750.61,481.29 L735.46,478.6 M738.82,477.35 L735.46,478.6 M765.47,480.09 L783.32,478.21 M767.44,481.68 L785,479.56 M783.32,478.21 L785,479.56" fill="none" stroke="#0a0a0a" stroke-width="1.45"/>
<path d="M748.2,485.62 L738.1,486.82 M747.72,487.06 L740.51,488.03" fill="none" stroke="#0a0a0a" stroke-width="1.16"/>
<path d="M745.65,486.82 L746.52,483.46 L750.13,481.97 L759.27,481.2 L768.41,481.97 L772.25,483.46 L773.12,486.82 L771.77,489.95 L768.17,497.45 L750.7,497.45 L747.24,489.95 Z" fill="#fff" stroke="#0a0a0a" stroke-width="2.17"/>
<path d="M746.57,487.55 L748.11,490.43 L752.15,497.45" fill="none" stroke="#0a0a0a" stroke-width="1.89"/>
<path d="M772.21,487.55 L770.62,490.43 L766.72,497.45" fill="none" stroke="#0a0a0a" stroke-width="1.89"/>
<path d="M772.97,486.27 L772.77,486.58 L772.42,486.89 L771.92,487.18 L771.28,487.46 L770.5,487.73 L769.61,487.98 L768.59,488.2 L767.47,488.41 L766.27,488.58 L764.98,488.72 L763.63,488.84 L762.24,488.92 L760.81,488.97 L759.36,488.99 L757.92,488.97 L756.49,488.92 L755.09,488.84 L753.74,488.72 L752.46,488.58 L751.25,488.41 L750.13,488.2 L749.12,487.98 L748.22,487.73 L747.45,487.46 L746.81,487.18 L746.31,486.89 L745.96,486.58 L745.75,486.27" fill="none" stroke="#0a0a0a" stroke-width="1.67"/>
<path d="M770.43,483.89 L770.37,484.09 L770.18,484.29 L769.88,484.48 L769.47,484.67 L768.94,484.85 L768.31,485.02 L767.58,485.18 L766.77,485.32 L765.87,485.45 L764.89,485.56 L763.86,485.65 L762.78,485.72 L761.66,485.77 L760.52,485.8 L759.36,485.81 L758.21,485.8 L757.06,485.77 L755.94,485.72 L754.86,485.65 L753.83,485.56 L752.86,485.45 L751.96,485.32 L751.14,485.18 L750.41,485.02 L749.78,484.85 L749.26,484.67 L748.84,484.48 L748.54,484.29 L748.36,484.09 L748.3,483.89 L748.36,483.69 L748.54,483.49 L748.84,483.3 L749.26,483.11 L749.78,482.93 L750.41,482.76 L751.14,482.6 L751.96,482.46 L752.86,482.33 L753.83,482.22 L754.86,482.13 L755.94,482.06 L757.06,482.01 L758.21,481.98 L759.36,481.97 L760.52,481.98 L761.66,482.01 L762.78,482.06 L763.86,482.13 L764.89,482.22 L765.87,482.33 L766.77,482.46 L767.58,482.6 L768.31,482.76 L768.94,482.93 L769.47,483.11 L769.88,483.3 L770.18,483.49 L770.37,483.69 L770.43,483.89" fill="none" stroke="#0a0a0a" stroke-width="1.67"/>
<path d="M749.17,488.7 L753.74,497.26 M749.17,488.7 L757.82,497.26 M755.9,489.04 L753.74,497.26 M755.9,489.04 L757.82,497.26 M755.9,489.04 L761.19,497.26 M762.63,489.04 L757.82,497.26 M762.63,489.04 L761.19,497.26 M762.63,489.04 L765.28,497.26 M769.37,488.6 L761.19,497.26 M769.37,488.6 L765.28,497.26 M752.05,482.91 L749.17,488.7 M752.05,482.91 L755.9,489.04 M759.27,482.48 L755.9,489.04 M759.27,482.48 L762.63,489.04 M766.48,482.85 L762.63,489.04 M766.48,482.85 L769.37,488.6 M749.17,488.7 L746.47,485.14 M769.37,488.6 L772.45,485.14" fill="none" stroke="#0a0a0a" stroke-width="1.59"/>
<path d="M271.4,527.1 L283.6,513 M273.52,527.1 L285.72,513 M275.64,527.1 L287.84,513 M277.76,527.1 L289.96,513 M279.88,527.1 L292.08,513 M282,527.1 L294.2,513 M284.12,527.1 L296.32,513 M286.24,527.1 L298.44,513 M288.36,527.1 L300.56,513 M290.48,527.1 L302.68,513 M292.6,527.1 L304.8,513 M294.72,527.1 L306.92,513 M296.84,527.1 L309.04,513 M298.96,527.1 L311.16,513 M301.08,527.1 L313.28,513 M303.2,527.1 L315.4,513 M305.32,527.1 L317.52,513 M307.44,527.1 L319.64,513 M309.56,527.1 L321.76,513 M311.68,527.1 L323.88,513 M313.8,527.1 L326,513 M315.92,527.1 L328.12,513 M318.04,527.1 L330.24,513 M320.16,527.1 L332.36,513 M322.28,527.1 L334.48,513 M324.4,527.1 L336.6,513 M326.52,527.1 L338.72,513 M328.64,527.1 L340.84,513 M330.76,527.1 L342.96,513 M332.88,527.1 L345.08,513 M335,527.1 L347.2,513 M337.12,527.1 L349.32,513 M339.24,527.1 L351.44,513 M341.36,527.1 L353.56,513 M343.48,527.1 L355.68,513 M345.6,527.1 L357.8,513 M347.72,527.1 L359.92,513 M349.84,527.1 L362.04,513 M351.96,527.1 L364.16,513 M354.08,527.1 L366.28,513 M356.2,527.1 L368.4,513 M358.32,527.1 L370.52,513 M360.44,527.1 L372.64,513 M362.56,527.1 L374.76,513 M364.68,527.1 L376.88,513 M366.8,527.1 L379,513 M368.92,527.1 L381.12,513 M371.04,527.1 L383.24,513 M373.16,527.1 L385.36,513" fill="none" stroke="#222" stroke-width="1"/>
<path d="M270.4,527.1 L378.8,527.1" fill="none" stroke="#111" stroke-width="1.5"/>
<path d="M296.5,532 L296.5,548.5" fill="none" stroke="#111" stroke-width="1"/>
<rect x="294.4" y="521.6" width="4.2" height="11.2" rx="1.6" fill="#111"/>
<path d="M294,532.6 L299,532.6 L299.2,536.2 L296.5,539.6 L293.8,536.2 Z" fill="#fff" stroke="#111" stroke-width="1.2"/>
<path d="M324.8,532 L324.8,548.5" fill="none" stroke="#111" stroke-width="1"/>
<rect x="322.7" y="521.6" width="4.2" height="11.2" rx="1.6" fill="#111"/>
<path d="M322.3,532.6 L327.3,532.6 L327.5,536.2 L324.8,539.6 L322.1,536.2 Z" fill="#fff" stroke="#111" stroke-width="1.2"/>
<path d="M353,532 L353,548.5" fill="none" stroke="#111" stroke-width="1"/>
<rect x="350.9" y="521.6" width="4.2" height="11.2" rx="1.6" fill="#111"/>
<path d="M350.5,532.6 L355.5,532.6 L355.7,536.2 L353,539.6 L350.3,536.2 Z" fill="#fff" stroke="#111" stroke-width="1.2"/>
<path d="M356,532.3 L389,532.3" fill="none" stroke="#111" stroke-width="1.3"/>
<text x="388.6" y="538.6" font-family='"Liberation Sans", sans-serif' font-size="20" fill="#111" font-weight="bold" font-style="italic" textLength="11.12" lengthAdjust="spacingAndGlyphs" stroke="#111" stroke-width="0.7" stroke-linejoin="round">5</text>
<path d="M273,560.4 L281.5,560.4 M273,560.4 L284,664.5 M368,560.6 L376.7,560.6 M376.7,560.6 L366.4,662.5" fill="none" stroke="#111" stroke-width="1.3"/>
<path d="M321,545.4 l-3.4,-2.2 l1.2,-2.4 l3.6,0.8 l1.2,-1.6 l3.2,1.2 l0.6,3.6 Z" fill="#111" stroke="#111" stroke-width="1"/>
<ellipse cx="324.6" cy="563.3" rx="43.8" ry="17.4" fill="#fff" stroke="#111" stroke-width="1.5"/>
<path d="M367.73,566.32 L366.67,568.14 L365.12,569.9 L363.11,571.59 L360.65,573.18 L357.77,574.66 L354.51,576.01 L350.91,577.21 L347.01,578.25 L342.84,579.12 L338.47,579.8 L333.94,580.3 L329.3,580.6 L324.6,580.7 L319.9,580.6 L315.26,580.3 L310.73,579.8 L306.36,579.12 L302.19,578.25 L298.29,577.21 L294.69,576.01 L291.43,574.66 L288.55,573.18 L286.09,571.59 L284.08,569.9 L282.53,568.14 L281.47,566.32" fill="none" stroke="#111" stroke-width="2.2"/>
<ellipse cx="324.3" cy="565.4" rx="39.8" ry="9.7" fill="#fff" stroke="#111" stroke-width="2.6"/>
<ellipse cx="324.8" cy="551" rx="0.9" ry="0.9" fill="#111" stroke="#111" stroke-width="0.5"/>
<path d="M368.5,557.8 L386,557.8" fill="none" stroke="#111" stroke-width="1.3"/>
<text x="385.6" y="564.4" font-family='"Liberation Sans", sans-serif' font-size="20" fill="#111" font-weight="bold" font-style="italic" textLength="11.12" lengthAdjust="spacingAndGlyphs" stroke="#111" stroke-width="0.7" stroke-linejoin="round">6</text>
<ellipse cx="324.6" cy="562.4" rx="7" ry="1.4" fill="#111" stroke="#111" stroke-width="1"/>
<path d="M295.9,562.5 L295.9,585.5 M293.9,563 L297.9,563" fill="none" stroke="#111" stroke-width="1"/>
<rect x="293.7" y="585" width="4.4" height="9.8" rx="1.2" fill="#111"/>
<path d="M353,562.5 L353,585.5 M351,563 L355,563" fill="none" stroke="#111" stroke-width="1"/>
<rect x="350.8" y="585" width="4.4" height="9.8" rx="1.2" fill="#111"/>
<rect x="350.2" y="593.2" width="5.8" height="1.8" rx="0.8" fill="#111"/>
<path d="M324.6,579 L324.6,605.5" fill="none" stroke="#111" stroke-width="1"/>
<rect x="322.5" y="605.2" width="4.2" height="8" rx="1.2" fill="#111"/>
<path d="M321.4,612.6 L327.8,612.6 L324.6,616.4 Z" fill="#111"/>
<path d="M277.4,591.7 L294,591.7" fill="none" stroke="#111" stroke-width="1.3"/>
<text x="266.4" y="597.4" font-family='"Liberation Sans", sans-serif' font-size="20" fill="#111" font-weight="bold" font-style="italic" textLength="11.12" lengthAdjust="spacingAndGlyphs" stroke="#111" stroke-width="0.7" stroke-linejoin="round">7</text>
<path d="M295.7,598 L295.7,618" fill="none" stroke="#111" stroke-width="1.7"/>
<path d="M294.4,601.5 L295.7,597.5 L297,601.5 Z" fill="#111" stroke="none"/>
<ellipse cx="295.7" cy="608" rx="8.6" ry="1.5" fill="#111" stroke="#111" stroke-width="0.6"/>
<path d="M302.1,605.5 L302.35,605.51 L302.6,605.55 L302.84,605.61 L303.08,605.69 L303.3,605.79 L303.51,605.92 L303.71,606.07 L303.88,606.23 L304.04,606.41 L304.18,606.6 L304.29,606.81 L304.38,607.02 L304.45,607.24 L304.49,607.47 L304.5,607.7 L304.49,607.93 L304.45,608.16 L304.38,608.38 L304.29,608.59 L304.18,608.8 L304.04,608.99 L303.88,609.17 L303.71,609.33 L303.51,609.48 L303.3,609.61" fill="none" stroke="#111" stroke-width="1.1"/>
<path d="M341.4,632.6 L341.4,652.6" fill="none" stroke="#111" stroke-width="1.7"/>
<path d="M340.1,636.1 L341.4,632.1 L342.7,636.1 Z" fill="#111" stroke="none"/>
<ellipse cx="341.4" cy="642.6" rx="8.6" ry="1.5" fill="#111" stroke="#111" stroke-width="0.6"/>
<path d="M347.8,640.1 L348.05,640.11 L348.3,640.15 L348.54,640.21 L348.78,640.29 L349,640.39 L349.21,640.52 L349.41,640.67 L349.58,640.83 L349.74,641.01 L349.88,641.2 L349.99,641.41 L350.08,641.62 L350.15,641.84 L350.19,642.07 L350.2,642.3 L350.19,642.53 L350.15,642.76 L350.08,642.98 L349.99,643.19 L349.88,643.4 L349.74,643.59 L349.58,643.77 L349.41,643.93 L349.21,644.08 L349,644.21" fill="none" stroke="#111" stroke-width="1.1"/>
<path d="M328.4,563 C328.58,565.83 328.57,574.33 329.5,580 C330.43,585.67 331.42,592.67 334,597 C336.58,601.33 341.17,604.07 345,606 C348.83,607.93 353.67,608.13 357,608.6 C360.33,609.07 363.67,608.77 365,608.8" fill="none" stroke="#111" stroke-width="3.3" stroke-linecap="butt"/>
<path d="M328.4,563 C328.58,565.83 328.57,574.33 329.5,580 C330.43,585.67 331.42,592.67 334,597 C336.58,601.33 341.17,604.07 345,606 C348.83,607.93 353.67,608.13 357,608.6 C360.33,609.07 363.67,608.77 365,608.8" fill="none" stroke="#fff" stroke-width="0.7" stroke-linecap="butt"/>
<path d="M325.2,563 C325.33,566.33 325.03,576.33 326,583 C326.97,589.67 328.17,597.75 331,603 C333.83,608.25 339,612 343,614.5 C347,617 351.58,617.3 355,618 C358.42,618.7 362.08,618.58 363.5,618.7" fill="none" stroke="#111" stroke-width="3.3" stroke-linecap="butt"/>
<path d="M325.2,563 C325.33,566.33 325.03,576.33 326,583 C326.97,589.67 328.17,597.75 331,603 C333.83,608.25 339,612 343,614.5 C347,617 351.58,617.3 355,618 C358.42,618.7 362.08,618.58 363.5,618.7" fill="none" stroke="#fff" stroke-width="0.7" stroke-linecap="butt"/>
<path d="M322,563 C322.1,566.67 321.77,577.67 322.6,585 C323.43,592.33 324.27,600.83 327,607 C329.73,613.17 334.83,618.33 339,622 C343.17,625.67 347.5,627.53 352,629 C356.5,630.47 363.67,630.5 366,630.8" fill="none" stroke="#111" stroke-width="3.3" stroke-linecap="butt"/>
<path d="M322,563 C322.1,566.67 321.77,577.67 322.6,585 C323.43,592.33 324.27,600.83 327,607 C329.73,613.17 334.83,618.33 339,622 C343.17,625.67 347.5,627.53 352,629 C356.5,630.47 363.67,630.5 366,630.8" fill="none" stroke="#fff" stroke-width="0.7" stroke-linecap="butt"/>
<path d="M325.5,626 C326.92,625.08 330.58,622.83 334,620.5 C337.42,618.17 342.33,613.95 346,612 C349.67,610.05 353,609.38 356,608.8 C359,608.22 362.67,608.55 364,608.5" fill="none" stroke="#111" stroke-width="3" stroke-linecap="butt"/>
<path d="M325.5,626 C326.92,625.08 330.58,622.83 334,620.5 C337.42,618.17 342.33,613.95 346,612 C349.67,610.05 353,609.38 356,608.8 C359,608.22 362.67,608.55 364,608.5" fill="none" stroke="#fff" stroke-width="0.5" stroke-linecap="butt"/>
<path d="M325.5,626.5 C327.25,625.75 332.25,623.33 336,622 C339.75,620.67 343.5,619.08 348,618.5 C352.5,617.92 360.5,618.5 363,618.5" fill="none" stroke="#111" stroke-width="3" stroke-linecap="butt"/>
<path d="M325.5,626.5 C327.25,625.75 332.25,623.33 336,622 C339.75,620.67 343.5,619.08 348,618.5 C352.5,617.92 360.5,618.5 363,618.5" fill="none" stroke="#fff" stroke-width="0.5" stroke-linecap="butt"/>
<path d="M324.6,657 C324.6,653.5 324.5,640.67 324.6,636 C324.7,631.33 324.72,630.83 325.2,629 C325.68,627.17 326.37,626.17 327.5,625 C328.63,623.83 331.25,622.5 332,622" fill="none" stroke="#111" stroke-width="3.6" stroke-linecap="butt"/>
<path d="M324.6,657 C324.6,653.5 324.5,640.67 324.6,636 C324.7,631.33 324.72,630.83 325.2,629 C325.68,627.17 326.37,626.17 327.5,625 C328.63,623.83 331.25,622.5 332,622" fill="none" stroke="#fff" stroke-width="1" stroke-linecap="butt"/>
<rect x="359.5" y="607.2" width="5.5" height="3" fill="#111"/>
<rect x="358.4" y="617.1" width="5.5" height="3" fill="#111"/>
<rect x="360.8" y="629.2" width="5.5" height="3" fill="#111"/>
<ellipse cx="374.2" cy="608.4" rx="3.1" ry="3.3" fill="#fff" stroke="#111" stroke-width="1.3"/>
<path d="M373,610 L375,606.4" fill="none" stroke="#111" stroke-width="0.8"/>
<ellipse cx="373.2" cy="619.8" rx="3.1" ry="3.3" fill="#fff" stroke="#111" stroke-width="1.3"/>
<path d="M372,621.4 L374,617.8" fill="none" stroke="#111" stroke-width="0.8"/>
<ellipse cx="371.8" cy="633.2" rx="3.1" ry="3.3" fill="#fff" stroke="#111" stroke-width="1.3"/>
<path d="M370.6,634.8 L372.6,631.2" fill="none" stroke="#111" stroke-width="0.8"/>
<g transform="translate(390.2 610.2) rotate(-6)"><rect x="-7.4" y="-2.2" width="14.6" height="7.4" rx="3" fill="#111"/><ellipse cx="3.2" cy="-2.6" rx="4.0" ry="3.4" fill="#111"/><ellipse cx="-3.2" cy="-1.4" rx="3.2" ry="2.6" fill="#111"/><ellipse cx="-3.6" cy="1.4" rx="1.25" ry="1.7" fill="#fff" transform="rotate(20 -3.6 1.4)"/><ellipse cx="0.9" cy="1.8" rx="1.0" ry="1.3" fill="#eee"/><ellipse cx="3.4" cy="-2.6" rx="1.4" ry="1.1" fill="#fff"/><ellipse cx="4.9" cy="2.2" rx="0.8" ry="0.8" fill="#ddd"/></g>
<g transform="translate(387.2 622.6) rotate(-6)"><rect x="-7.4" y="-2.2" width="14.6" height="7.4" rx="3" fill="#111"/><ellipse cx="3.2" cy="-2.6" rx="4.0" ry="3.4" fill="#111"/><ellipse cx="-3.2" cy="-1.4" rx="3.2" ry="2.6" fill="#111"/><ellipse cx="-3.6" cy="1.4" rx="1.25" ry="1.7" fill="#fff" transform="rotate(20 -3.6 1.4)"/><ellipse cx="0.9" cy="1.8" rx="1.0" ry="1.3" fill="#eee"/><ellipse cx="3.4" cy="-2.6" rx="1.4" ry="1.1" fill="#fff"/><ellipse cx="4.9" cy="2.2" rx="0.8" ry="0.8" fill="#ddd"/></g>
<g transform="translate(385.6 635.2) rotate(-6)"><rect x="-7.4" y="-2.2" width="14.6" height="7.4" rx="3" fill="#111"/><ellipse cx="3.2" cy="-2.6" rx="4.0" ry="3.4" fill="#111"/><ellipse cx="-3.2" cy="-1.4" rx="3.2" ry="2.6" fill="#111"/><ellipse cx="-3.6" cy="1.4" rx="1.25" ry="1.7" fill="#fff" transform="rotate(20 -3.6 1.4)"/><ellipse cx="0.9" cy="1.8" rx="1.0" ry="1.3" fill="#eee"/><ellipse cx="3.4" cy="-2.6" rx="1.4" ry="1.1" fill="#fff"/><ellipse cx="4.9" cy="2.2" rx="0.8" ry="0.8" fill="#ddd"/></g>
<g transform="translate(395.8 602.9) rotate(-42.9)"><path d="M0,0 L4,-0.9 L30.5,-0.9 L30.5,0.9 L4,0.9 Z" fill="#111"/><ellipse cx="21" cy="0" rx="2.2" ry="8.4" fill="#111"/><path d="M22.2,-7.9 q2.6,0.4 2.4,3" fill="none" stroke="#111" stroke-width="1.2"/><rect x="30.5" y="-3.6" width="2.4" height="7.2" fill="#111"/><path d="M32.9,-2.2 L37,-5 L60.5,-5 Q63.5,-5 63.5,-2 L63.5,2 Q63.5,5 60.5,5 L37,5 L32.9,2.2 Z" fill="#fff" stroke="#111" stroke-width="1.3"/><rect x="37.5" y="-4.4" width="20.5" height="8.8" fill="#111"/><rect x="38.1" y="-2.4" width="18.5" height="1.1" fill="#fff"/><rect x="38.1" y="0.9" width="18.5" height="0.9" fill="#eee"/></g>
<ellipse cx="324.7" cy="640" rx="5.2" ry="2.3" fill="#fff" stroke="#111" stroke-width="1.6"/>
<path d="M322.8,637.6 L322.8,642.4 M326.6,637.6 L326.6,642.4" fill="none" stroke="#111" stroke-width="1"/>
<path d="M296.2,639.6 L319.4,639.6" fill="none" stroke="#111" stroke-width="1.3"/>
<text x="285" y="647.2" font-family='"Liberation Sans", sans-serif' font-size="20" fill="#111" font-weight="bold" font-style="italic" textLength="11.12" lengthAdjust="spacingAndGlyphs" stroke="#111" stroke-width="0.7" stroke-linejoin="round">4</text>
<ellipse cx="324.7" cy="653" rx="5.3" ry="1.3" fill="#111" stroke="#111" stroke-width="0.8"/>
<path d="M 279.6,671 A 45 13.3 0 0 1 369.5,671 L 369.5,686.1 A 45 13.3 0 0 1 279.6,686.1 Z" fill="#fff" stroke="#111" stroke-width="1.4"/>
<path d="M 279.6,686.1 A 45 13.3 0 0 1 369.5,686.1" fill="none" stroke="#111" stroke-width="1.4"/>
<ellipse cx="324.7" cy="663.8" rx="1.2" ry="1.1" fill="#111" stroke="#111" stroke-width="0.5"/>
<path d="M263.5,675.9 L279.6,675.9" fill="none" stroke="#111" stroke-width="1.2"/>
<path d="M260.2,675.9 L263.8,672.6 L264.6,675.9 L263.8,679.2 Z" fill="#111" stroke="#111" stroke-width="0.8"/>
<path d="M369.5,675.8 L383,675.8" fill="none" stroke="#111" stroke-width="1.2"/>
<path d="M381.2,675.8 L386,674.6 L386,677 Z" fill="#777"/>
<rect x="386.7" y="672.2" width="2.1" height="7.2" rx="0.6" fill="#111"/>
<path d="M388.5,675.9 L406,676.2" fill="none" stroke="#111" stroke-width="1.8"/>
<g transform="translate(398 676.2) rotate(0)"><path d="M0,0 L4,-0.9 L19,-0.9 L19,0.9 L4,0.9 Z" fill="#111"/><ellipse cx="10" cy="0" rx="2.2" ry="8.3" fill="#111"/><path d="M11.2,-7.8 q2.6,0.4 2.4,3" fill="none" stroke="#111" stroke-width="1.2"/><rect x="19" y="-3.6" width="2.4" height="7.2" fill="#111"/><path d="M21.4,-2.2 L25.5,-4.9 L42.5,-4.9 Q45.5,-4.9 45.5,-1.9 L45.5,1.9 Q45.5,4.9 42.5,4.9 L25.5,4.9 L21.4,2.2 Z" fill="#fff" stroke="#111" stroke-width="1.3"/><rect x="26" y="-4.3" width="14" height="8.6" fill="#111"/><rect x="26.6" y="-2.9" width="11.5" height="1.2" fill="#fff"/></g>
<path d="M388,678.2 L402,701.2" fill="none" stroke="#111" stroke-width="1.3"/>
<text x="401.4" y="715" font-family='"Liberation Sans", sans-serif' font-size="20" fill="#111" font-weight="bold" font-style="italic" textLength="11.12" lengthAdjust="spacingAndGlyphs" stroke="#111" stroke-width="0.7" stroke-linejoin="round">9</text>
<path d="M323.4,686.4 L323.4,738.5 M326,686.4 L326,738.5" fill="none" stroke="#111" stroke-width="1"/>
<ellipse cx="324.7" cy="686.2" rx="3.2" ry="0.9" fill="#fff" stroke="#111" stroke-width="1.1"/>
<rect x="322" y="703" width="6.2" height="11" rx="1.6" fill="#111"/>
<rect x="324.4" y="704.4" width="0.9" height="8.2" fill="#888"/>
<path d="M328.4,709.7 L353.4,709.7" fill="none" stroke="#111" stroke-width="1.3"/>
<text x="355.4" y="714.2" font-family='"Liberation Sans", sans-serif' font-size="20" fill="#111" font-weight="bold" font-style="italic" textLength="11.12" lengthAdjust="spacingAndGlyphs" stroke="#111" stroke-width="0.7" stroke-linejoin="round">3</text>
<rect x="320.4" y="720.8" width="9.2" height="9.4" rx="1.6" fill="#fff" stroke="#111" stroke-width="1.4"/>
<path d="M323.5,721 L323.5,730 M326.6,721 L326.6,730" fill="none" stroke="#111" stroke-width="0.9"/>
<path d="M329.8,728 L352.6,728" fill="none" stroke="#111" stroke-width="1.3"/>
<text x="353.4" y="734.4" font-family='"Liberation Sans", sans-serif' font-size="20" fill="#111" font-weight="bold" font-style="italic" textLength="11.12" lengthAdjust="spacingAndGlyphs" stroke="#111" stroke-width="0.7" stroke-linejoin="round">2</text>
<path d="M308.4,701.2 L308.4,718" fill="none" stroke="#111" stroke-width="1.7"/>
<path d="M307.1,704.7 L308.4,700.7 L309.7,704.7 Z" fill="#111" stroke="none"/>
<ellipse cx="308.4" cy="709.6" rx="7.4" ry="1.4" fill="#111" stroke="#111" stroke-width="0.6"/>
<path d="M313.6,707.1 L313.85,707.11 L314.1,707.15 L314.34,707.21 L314.58,707.29 L314.8,707.39 L315.01,707.52 L315.21,707.67 L315.38,707.83 L315.54,708.01 L315.68,708.2 L315.79,708.41 L315.88,708.62 L315.95,708.84 L315.99,709.07 L316,709.3 L315.99,709.53 L315.95,709.76 L315.88,709.98 L315.79,710.19 L315.68,710.4 L315.54,710.59 L315.38,710.77 L315.21,710.93 L315.01,711.08 L314.8,711.21" fill="none" stroke="#111" stroke-width="1.1"/>
<path d="M308.4,719.4 L308.4,736.2" fill="none" stroke="#111" stroke-width="1.7"/>
<path d="M307.1,722.9 L308.4,718.9 L309.7,722.9 Z" fill="#111" stroke="none"/>
<ellipse cx="308.4" cy="727.8" rx="7.4" ry="1.4" fill="#111" stroke="#111" stroke-width="0.6"/>
<path d="M313.6,725.3 L313.85,725.31 L314.1,725.35 L314.34,725.41 L314.58,725.49 L314.8,725.59 L315.01,725.72 L315.21,725.87 L315.38,726.03 L315.54,726.21 L315.68,726.4 L315.79,726.61 L315.88,726.82 L315.95,727.04 L315.99,727.27 L316,727.5 L315.99,727.73 L315.95,727.96 L315.88,728.18 L315.79,728.39 L315.68,728.6 L315.54,728.79 L315.38,728.97 L315.21,729.13 L315.01,729.28 L314.8,729.41" fill="none" stroke="#111" stroke-width="1.1"/>
<path d="M448.0,606.5 L448.0,600.6 Q448.0,583.6 465.0,583.6 L563.6,583.6 Q580.6,583.6 580.6,600.6 L580.6,713.0 Q580.6,730.0 563.6,730.0 L465.0,730.0 Q448.0,730.0 448.0,713.0 L448.0,627" fill="none" stroke="#111" stroke-width="1.4" stroke-dasharray="12.3 6.1" stroke-dashoffset="3" stroke-linecap="butt"/>
<path d="M448.0,606.5 C436,607.5 418,614 400.5,628.2" fill="none" stroke="#111" stroke-width="1.3" stroke-dasharray="9.5 5" stroke-linecap="butt"/>
<path d="M401,627.6 C416,624 432,624.6 448.0,626.6" fill="none" stroke="#111" stroke-width="1.3" stroke-dasharray="9.5 5" stroke-linecap="butt"/>
<text x="432.6" y="647.4" font-family='"Liberation Sans", sans-serif' font-size="20" fill="#111" font-weight="bold" font-style="italic" textLength="11.12" lengthAdjust="spacingAndGlyphs" stroke="#111" stroke-width="0.7" stroke-linejoin="round">8</text>
<rect x="490.6" y="620.9" width="11" height="26.2" fill="#fff" stroke="#111" stroke-width="1.5"/>
<ellipse cx="496.2" cy="636.6" rx="4.3" ry="4.6" fill="#fff" stroke="#111" stroke-width="1.4"/>
<path d="M495.9,632.4 L495.9,640.8" fill="none" stroke="#111" stroke-width="1"/>
<path d="M492.1,642.3 L500.1,642.3" fill="none" stroke="#111" stroke-width="1"/>
<rect x="506.3" y="620.9" width="11" height="26.2" fill="#fff" stroke="#111" stroke-width="1.5"/>
<ellipse cx="511.9" cy="636.6" rx="4.3" ry="4.6" fill="#fff" stroke="#111" stroke-width="1.4"/>
<path d="M511.6,632.4 L511.6,640.8" fill="none" stroke="#111" stroke-width="1"/>
<path d="M507.8,642.3 L515.8,642.3" fill="none" stroke="#111" stroke-width="1"/>
<rect x="522" y="620.9" width="11" height="26.2" fill="#fff" stroke="#111" stroke-width="1.5"/>
<ellipse cx="527.6" cy="636.6" rx="4.3" ry="4.6" fill="#fff" stroke="#111" stroke-width="1.4"/>
<path d="M527.3,632.4 L527.3,640.8" fill="none" stroke="#111" stroke-width="1"/>
<path d="M523.5,642.3 L531.5,642.3" fill="none" stroke="#111" stroke-width="1"/>
<path d="M493.6,647.6 C493.53,648.33 493.53,650.6 493.2,652 C492.87,653.4 492.23,654.9 491.6,656 C490.97,657.1 489.77,658.17 489.4,658.6" fill="none" stroke="#111" stroke-width="3" stroke-linecap="round"/>
<path d="M493.6,647.6 C493.53,648.33 493.53,650.6 493.2,652 C492.87,653.4 492.23,654.9 491.6,656 C490.97,657.1 489.77,658.17 489.4,658.6" fill="none" stroke="#fff" stroke-width="1.1" stroke-linecap="butt"/>
<path d="M498.2,647.6 C498.17,648.83 498.45,652.43 498,655 C497.55,657.57 496.83,660.58 495.5,663 C494.17,665.42 492.35,667.4 490,669.5 C487.65,671.6 482.83,674.58 481.4,675.6" fill="none" stroke="#111" stroke-width="3" stroke-linecap="round"/>
<path d="M498.2,647.6 C498.17,648.83 498.45,652.43 498,655 C497.55,657.57 496.83,660.58 495.5,663 C494.17,665.42 492.35,667.4 490,669.5 C487.65,671.6 482.83,674.58 481.4,675.6" fill="none" stroke="#fff" stroke-width="1.1" stroke-linecap="butt"/>
<path d="M530.3,647.6 C530.35,648.33 530.28,650.6 530.6,652 C530.92,653.4 531.57,654.9 532.2,656 C532.83,657.1 534.03,658.17 534.4,658.6" fill="none" stroke="#111" stroke-width="3" stroke-linecap="round"/>
<path d="M530.3,647.6 C530.35,648.33 530.28,650.6 530.6,652 C530.92,653.4 531.57,654.9 532.2,656 C532.83,657.1 534.03,658.17 534.4,658.6" fill="none" stroke="#fff" stroke-width="1.1" stroke-linecap="butt"/>
<path d="M525.6,647.6 C525.67,648.83 525.52,652.43 526,655 C526.48,657.57 527.17,660.58 528.5,663 C529.83,665.42 531.58,667.4 534,669.5 C536.42,671.6 541.5,674.58 543,675.6" fill="none" stroke="#111" stroke-width="3" stroke-linecap="round"/>
<path d="M525.6,647.6 C525.67,648.83 525.52,652.43 526,655 C526.48,657.57 527.17,660.58 528.5,663 C529.83,665.42 531.58,667.4 534,669.5 C536.42,671.6 541.5,674.58 543,675.6" fill="none" stroke="#fff" stroke-width="1.1" stroke-linecap="butt"/>
<rect x="507.6" y="647.4" width="8.6" height="11.8" fill="#fff" stroke="#111" stroke-width="1.3"/>
<path d="M511.9,647.4 L511.9,659.2" fill="none" stroke="#111" stroke-width="1.6"/>
<ellipse cx="511.9" cy="667.1" rx="5.3" ry="5.3" fill="#fff" stroke="#111" stroke-width="1.3"/>
<path d="M508.4,666.2 Q511.9,662 515.4,666.2 Z" fill="#111" stroke="#111" stroke-width="0.8"/>
<path d="M511.9,666 L511.9,671.8 M508.6,669.6 L511.9,668 M515.2,669.6 L511.9,668" fill="none" stroke="#111" stroke-width="0.9"/>
<text x="462.6" y="659.6" font-family='"Liberation Serif", serif' font-size="8.6" fill="#222" font-weight="bold" textLength="25" lengthAdjust="spacingAndGlyphs">Neutral</text>
<text x="538.6" y="659.9" font-family='"Liberation Serif", serif' font-size="8.6" fill="#222" font-weight="bold" textLength="31.8" lengthAdjust="spacingAndGlyphs">Live wire</text>
<text x="457.2" y="683.6" font-family='"Liberation Serif", serif' font-size="8.6" fill="#222" font-weight="bold" textLength="24" lengthAdjust="spacingAndGlyphs">Neutral</text>
<text x="491.8" y="683.3" font-family='"Liberation Serif", serif' font-size="8.6" fill="#222" font-weight="bold" textLength="42.6" lengthAdjust="spacingAndGlyphs">Ground wire</text>
<text x="542.6" y="684.5" font-family='"Liberation Serif", serif' font-size="8.6" fill="#222" font-weight="bold" textLength="32.2" lengthAdjust="spacingAndGlyphs">Live wire</text>
<rect x="120" y="570" width="98.5" height="187" fill="none" stroke="#111" stroke-width="1.6"/>
<path d="M218.6,696.6 L293.4,741.8" fill="none" stroke="#111" stroke-width="1.3"/>
<path d="M154.6,585.8 C155.5,586.5 158.13,589.02 160,590 C161.87,590.98 163.72,592.12 165.8,591.7 C167.88,591.28 170,589.03 172.5,587.5 C175,585.97 178.43,583.47 180.8,582.5 C183.17,581.53 184.75,581.35 186.7,581.7 C188.65,582.05 191.53,584.12 192.5,584.6" fill="none" stroke="#111" stroke-width="1.1"/>
<path d="M179.2,584.2 C179.48,587.25 180.83,595.98 180.9,602.5 C180.97,609.02 180.2,615.72 179.6,623.3 C179,630.88 177.68,643.88 177.3,648" fill="none" stroke="#111" stroke-width="1.1"/>
<path d="M176.6,585.6 C176.77,589.17 177.63,601.27 177.6,607 C177.57,612.73 176.9,616.33 176.4,620 C175.9,623.67 174.9,627.5 174.6,629" fill="none" stroke="#111" stroke-width="1"/>
<rect x="169.9" y="589" width="3.4" height="10" fill="#111"/>
<ellipse cx="171.7" cy="606.7" rx="4.3" ry="8.4" fill="#fff" stroke="#111" stroke-width="2"/>
<rect x="169.6" y="614.6" width="3.8" height="14" fill="#111"/>
<ellipse cx="172" cy="640.6" rx="5.9" ry="12.6" fill="#fff" stroke="#111" stroke-width="1.2"/>
<ellipse cx="172" cy="641.6" rx="3.6" ry="9.6" fill="none" stroke="#111" stroke-width="1.1"/>
<rect x="171" y="634" width="2.2" height="16" fill="#111"/>
<rect x="167.3" y="650.8" width="9.2" height="8.6" fill="#fff" stroke="#111" stroke-width="1.6"/>
<path d="M167.3,659.4 L176.5,659.4 L175,661.6 L168.8,661.6 Z" fill="#111" stroke="#111" stroke-width="0.8"/>
<path d="M171.9,661 L171.9,665.8" fill="none" stroke="#111" stroke-width="2"/>
<path d="M176.8,655 L196,655" fill="none" stroke="#111" stroke-width="1.3"/>
<text x="199.2" y="660.6" font-family='"Liberation Sans", sans-serif' font-size="20.5" fill="#111" font-weight="bold" font-style="italic" textLength="11.4" lengthAdjust="spacingAndGlyphs" stroke="#111" stroke-width="0.7" stroke-linejoin="round">1</text>
<path d="M152.4,641.8 L152.4,661.8" fill="none" stroke="#111" stroke-width="1.7"/>
<path d="M151.1,645.3 L152.4,641.3 L153.7,645.3 Z" fill="#111" stroke="none"/>
<ellipse cx="152.4" cy="651.8" rx="8.8" ry="1.8" fill="#111" stroke="#111" stroke-width="0.6"/>
<path d="M159,649.3 L159.25,649.31 L159.5,649.35 L159.74,649.41 L159.98,649.49 L160.2,649.59 L160.41,649.72 L160.61,649.87 L160.78,650.03 L160.94,650.21 L161.08,650.4 L161.19,650.61 L161.28,650.82 L161.35,651.04 L161.39,651.27 L161.4,651.5 L161.39,651.73 L161.35,651.96 L161.28,652.18 L161.19,652.39 L161.08,652.6 L160.94,652.79 L160.78,652.97 L160.61,653.13 L160.41,653.28 L160.2,653.41" fill="none" stroke="#111" stroke-width="1.1"/>
<path d="M139.3,672 C137.87,673.3 138.03,674.77 138.4,676.6 C138.77,678.43 139.75,681.02 141.5,683 C143.25,684.98 146.48,687.13 148.9,688.5 C151.32,689.87 154.48,689.98 156,691.2 C157.52,692.42 157.25,694.25 158,695.8 C158.75,697.35 158.2,699.47 160.5,700.5 C162.8,701.53 168.05,702 171.8,702 C175.55,702 180.7,701.53 183,700.5 C185.3,699.47 184.72,697.38 185.6,695.8 C186.48,694.22 186.63,692.37 188.3,691 C189.97,689.63 193.32,688.93 195.6,687.6 C197.88,686.27 200.32,684.83 202,683 C203.68,681.17 205.27,678.43 205.7,676.6 C206.13,674.77 206.22,673.33 204.6,672 C202.98,670.67 199.43,669.55 196,668.6 C192.57,667.65 188.03,666.83 184,666.3 C179.97,665.77 175.97,665.4 171.8,665.4 C167.63,665.4 163.13,665.73 159,666.3 C154.87,666.87 150.28,667.85 147,668.8 C143.72,669.75 140.73,670.7 139.3,672 Z" fill="#fff" stroke="#111" stroke-width="1.3"/>
<path d="M141,671.5 C142.5,670.95 146.83,669.05 150,668.2 C153.17,667.35 156.37,666.83 160,666.4 C163.63,665.97 167.8,665.6 171.8,665.6 C175.8,665.6 180.3,665.97 184,666.4 C187.7,666.83 190.83,667.35 194,668.2 C197.17,669.05 201.5,670.95 203,671.5" fill="none" stroke="#111" stroke-width="2"/>
<path d="M148.9,686.8 C150.42,686.07 154.48,683.57 158,682.4 C161.52,681.23 166,680 170,679.8 C174,679.6 178.03,680.13 182,681.2 C185.97,682.27 191.83,685.37 193.8,686.2" fill="none" stroke="#111" stroke-width="1.3"/>
<path d="M158.2,692.8 L158.27,692.44 L158.5,692.09 L158.87,691.75 L159.38,691.42 L160.02,691.1 L160.8,690.8 L161.69,690.52 L162.7,690.27 L163.81,690.05 L165,689.86 L166.27,689.69 L167.6,689.57 L168.97,689.47 L170.38,689.42 L171.8,689.4 L173.22,689.42 L174.63,689.47 L176,689.57 L177.33,689.69 L178.6,689.86 L179.79,690.05 L180.9,690.27 L181.91,690.52 L182.8,690.8 L183.58,691.1 L184.22,691.42 L184.73,691.75 L185.1,692.09 L185.33,692.44 L185.4,692.8" fill="none" stroke="#111" stroke-width="1.6"/>
<path d="M158.6,694.2 L158.67,693.87 L158.89,693.53 L159.25,693.21 L159.74,692.9 L160.37,692.6 L161.12,692.32 L161.99,692.06 L162.97,691.82 L164.04,691.61 L165.2,691.43 L166.43,691.28 L167.72,691.16 L169.06,691.07 L170.42,691.02 L171.8,691 L173.18,691.02 L174.54,691.07 L175.88,691.16 L177.17,691.28 L178.4,691.43 L179.56,691.61 L180.63,691.82 L181.61,692.06 L182.48,692.32 L183.23,692.6 L183.86,692.9 L184.35,693.21 L184.71,693.53 L184.93,693.87 L185,694.2" fill="none" stroke="#111" stroke-width="1.2"/>
<path d="M184.6,695.4 L184.53,695.73 L184.32,696.07 L183.97,696.39 L183.49,696.7 L182.89,697 L182.16,697.28 L181.31,697.54 L180.36,697.78 L179.32,697.99 L178.2,698.17 L177.01,698.32 L175.76,698.44 L174.46,698.53 L173.14,698.58 L171.8,698.6 L170.46,698.58 L169.14,698.53 L167.84,698.44 L166.59,698.32 L165.4,698.17 L164.28,697.99 L163.24,697.78 L162.29,697.54 L161.44,697.28 L160.71,697 L160.11,696.7 L159.63,696.39 L159.28,696.07 L159.07,695.73 L159,695.4" fill="none" stroke="#111" stroke-width="1"/>
<ellipse cx="171.8" cy="697.9" rx="13.6" ry="4" fill="#fff" stroke="#111" stroke-width="1.4"/>
<path d="M159.6,712.6 L162.4,706 L167,702.6 L176.6,702.6 L181.6,706 L184.6,712.2 L182,714.6 L162,714.8 Z" fill="#111" stroke="#111" stroke-width="1.2"/>
<path d="M164,711 l2.2,-3 M167.6,711.6 l1.6,-4.6 M171.6,711.8 l0.2,-6.4 M175.2,711.6 l-1,-4.6 M178.8,711 l-2.2,-3.4 M181.4,710 l-2,-2" stroke="#ddd" stroke-width="0.9" fill="none"/>
<path d="M152.1,719.7 C151.85,721.43 153.43,724.7 154.5,727 C155.57,729.3 157.33,731.5 158.5,733.5 C159.67,735.5 160.8,737.58 161.5,739 C162.2,740.42 161.28,742.07 162.7,742 C164.12,741.93 167.25,740.03 170,738.6 C172.75,737.17 176.73,734.37 179.2,733.4 C181.67,732.43 183.33,733.7 184.8,732.8 C186.27,731.9 187.03,729.55 188,728 C188.97,726.45 190.02,724.88 190.6,723.5 C191.18,722.12 192.1,720.95 191.5,719.7 C190.9,718.45 189.25,717.02 187,716 C184.75,714.98 180.53,714.07 178,713.6 C175.47,713.13 174.13,713.13 171.8,713.2 C169.47,713.27 166.63,713.43 164,714 C161.37,714.57 157.98,715.65 156,716.6 C154.02,717.55 152.35,717.97 152.1,719.7 Z" fill="#fff" stroke="#111" stroke-width="1.3"/>
<path d="M153.4,722.4 C154.67,721.77 157.93,719.47 161,718.6 C164.07,717.73 168.3,717.23 171.8,717.2 C175.3,717.17 178.8,717.7 182,718.4 C185.2,719.1 189.5,720.9 191,721.4" fill="none" stroke="#111" stroke-width="1.2"/>
<path d="M152.6,736.2 C153.33,736.73 155.32,738.42 157,739.4 C158.68,740.38 160.53,742.2 162.7,742.1 C164.87,742 167.25,740.25 170,738.8 C172.75,737.35 176.7,734.37 179.2,733.4 C181.7,732.43 183.17,732.77 185,733 C186.83,733.23 189.33,734.5 190.2,734.8" fill="none" stroke="#111" stroke-width="1.1"/>
<path d="M 1329,236.6 A 65.9 17.6 0 0 1 1460.8,236.6 L 1460.8,262.1 A 65.9 19.6 0 0 1 1329,262.1 Z" fill="#fff" stroke="#1a1a1a" stroke-width="1.25"/>
<path d="M 1329,262.1 A 65.9 19.6 0 0 1 1460.8,262.1" fill="none" stroke="#1a1a1a" stroke-width="1.25"/>
<ellipse cx="1394.9" cy="262.1" rx="5.2" ry="1.9" fill="#222" stroke="#1a1a1a" stroke-width="0.6"/>
<ellipse cx="1395.4" cy="262.1" rx="2.2" ry="0.7" fill="#999" stroke="none" stroke-width="0"/>
<path d="M1329,191.4 L1329,262 M1460.8,191.4 L1460.8,262 M1329,197.2 L1460.8,197.2" fill="none" stroke="#1a1a1a" stroke-width="1.25"/>
<path d="M1329.5,197.2 L1339.5,195.6 L1339.5,198.8 Z" fill="#1a1a1a" stroke="none"/>
<path d="M1460.3,197.2 L1450.3,198.8 L1450.3,195.6 Z" fill="#1a1a1a" stroke="none"/>
<path d="M1460.8,238.1 L1503.1,238.1 M1460.8,261.4 L1503.1,261.4 M1498.3,219 L1498.3,238 M1498.3,261.5 L1498.3,282" fill="none" stroke="#1a1a1a" stroke-width="1.25"/>
<path d="M1498.3,238 L1496.8,230 L1499.8,230 Z" fill="#1a1a1a" stroke="none"/>
<path d="M1498.3,261.5 L1499.8,269.5 L1496.8,269.5 Z" fill="#1a1a1a" stroke="none"/>
<text x="1394.8" y="195" font-family='"Liberation Serif", serif' font-size="12.5" fill="#222" textLength="29" lengthAdjust="spacingAndGlyphs" text-anchor="middle" stroke="#222" stroke-width="0.3">Φ150</text>
<text x="1495.3" y="250.4" font-family='"Liberation Serif", serif' font-size="12.5" fill="#222" textLength="13.5" lengthAdjust="spacingAndGlyphs" text-anchor="middle" transform="rotate(-90 1495.3 250.4)" stroke="#222" stroke-width="0.3">25</text>
<path d="M1072.8,902 L1072.8,1137 M1604.4,921 L1604.4,1137 M1072.8,1130.5 L1604.4,1130.5" fill="none" stroke="#1a1a1a" stroke-width="1.25"/>
<path d="M1073.3,1130.5 L1083.3,1128.9 L1083.3,1132.1 Z" fill="#1a1a1a" stroke="none"/>
<path d="M1603.9,1130.5 L1593.9,1132.1 L1593.9,1128.9 Z" fill="#1a1a1a" stroke="none"/>
<path d="M1420.5,619.7 L1668.5,619.7 M1606,1117.9 L1668.6,1117.9 M1662.2,619.7 L1662.2,1117.9" fill="none" stroke="#1a1a1a" stroke-width="1.25"/>
<path d="M1662.2,620.2 L1663.8,630.2 L1660.6,630.2 Z" fill="#1a1a1a" stroke="none"/>
<path d="M1662.2,1117.4 L1660.6,1107.4 L1663.8,1107.4 Z" fill="#1a1a1a" stroke="none"/>
<text x="1339" y="1129" font-family='"Liberation Serif", serif' font-size="12.5" fill="#222" textLength="30" lengthAdjust="spacingAndGlyphs" text-anchor="middle" stroke="#222" stroke-width="0.3">Φ485</text>
<text x="1659.5" y="869" font-family='"Liberation Serif", serif' font-size="12.5" fill="#222" textLength="21" lengthAdjust="spacingAndGlyphs" text-anchor="middle" transform="rotate(-90 1659.5 869)" stroke="#222" stroke-width="0.3">497</text>
</svg>
</body></html>
